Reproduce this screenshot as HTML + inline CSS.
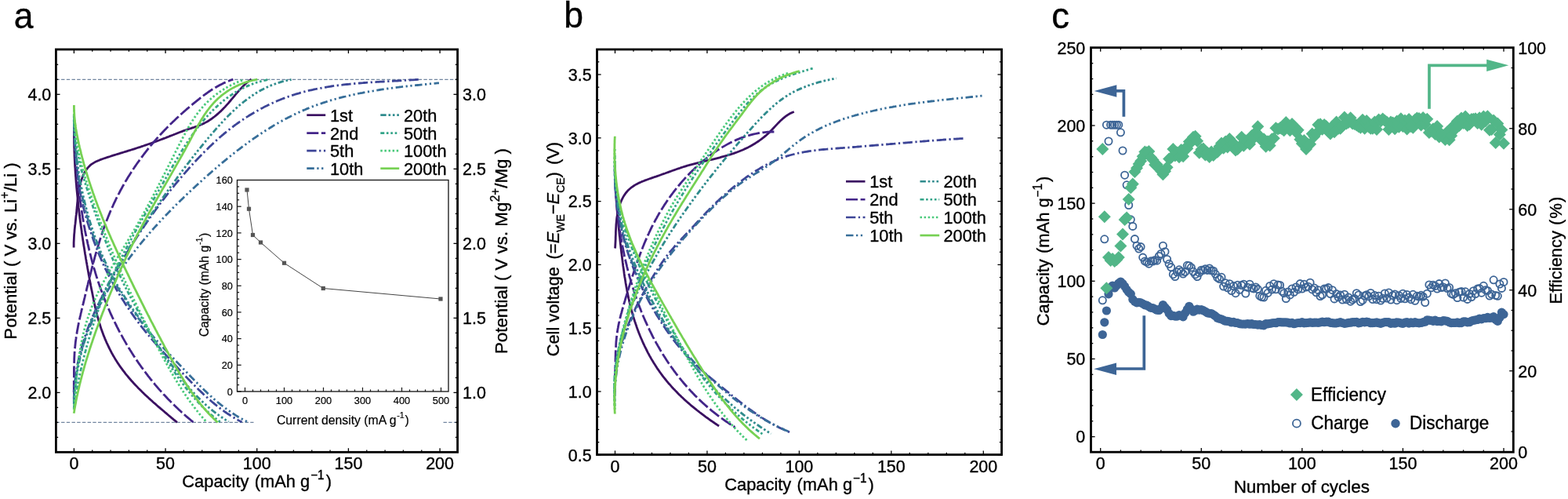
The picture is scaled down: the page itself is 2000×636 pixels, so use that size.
<!DOCTYPE html>
<html lang="en"><head><meta charset="utf-8"><title>Figure</title>
<style>html,body{margin:0;padding:0;background:#fff}body{width:2000px;height:636px;overflow:hidden}svg{display:block}text{font-family:"Liberation Sans", Arial, Helvetica, sans-serif;stroke:#000;}</style>
</head><body>
<svg width="2000" height="636" viewBox="0 0 2000 636" font-family='"Liberation Sans", Arial, Helvetica, sans-serif' fill="#000">
<rect x="0" y="0" width="2000" height="636" fill="#fff"/>
<line x1="71.40" y1="101.30" x2="583.60" y2="101.30" stroke="#71859f" stroke-width="1.15" stroke-dasharray="4.4 2.3"/>
<line x1="71.40" y1="538.41" x2="323.50" y2="538.41" stroke="#71859f" stroke-width="1.15" stroke-dasharray="4.4 2.3"/>
<line x1="565.50" y1="538.41" x2="583.60" y2="538.41" stroke="#71859f" stroke-width="1.15" stroke-dasharray="4.4 2.3"/>
<path d="M94.1,315.6 L94.1,313.5 L94.1,311.4 L94.1,309.4 L94.2,307.3 L94.3,305.3 L94.4,303.3 L94.5,301.2 L94.6,299.2 L94.8,297.3 L95.0,295.3 L95.1,293.3 L95.3,291.3 L95.5,289.4 L95.7,287.4 L96.0,285.4 L96.2,283.5 L96.4,281.5 L96.6,279.5 L96.8,277.5 L97.0,275.5 L97.3,273.5 L97.5,271.5 L97.7,269.5 L97.9,267.5 L98.0,265.4 L98.2,263.4 L98.4,261.3 L98.6,259.2 L98.8,257.1 L99.0,255.1 L99.3,253.0 L99.5,250.9 L99.7,248.9 L100.0,246.8 L100.3,244.7 L100.7,242.7 L101.0,240.7 L101.4,238.7 L101.9,236.7 L102.3,234.7 L102.8,232.7 L103.4,230.8 L104.0,228.9 L104.7,227.0 L105.4,225.2 L106.1,223.4 L107.0,221.6 L107.9,219.9 L108.8,218.2 L109.9,216.6 L111.0,215.1 L112.2,213.6 L113.5,212.2 L114.8,210.9 L116.3,209.7 L117.9,208.6 L119.5,207.6 L121.2,206.6 L122.9,205.8 L124.8,204.9 L126.6,204.2 L128.5,203.4 L130.4,202.7 L132.4,202.0 L134.3,201.4 L136.3,200.7 L138.2,200.1 L140.2,199.5 L142.1,198.8 L144.1,198.2 L146.0,197.6 L148.0,197.0 L149.9,196.4 L151.9,195.8 L153.8,195.2 L155.8,194.6 L157.7,194.0 L159.7,193.4 L161.6,192.8 L163.5,192.2 L165.5,191.6 L167.4,191.0 L169.4,190.4 L171.3,189.8 L173.2,189.2 L175.1,188.5 L177.1,187.9 L179.0,187.3 L180.9,186.6 L182.8,186.0 L184.7,185.3 L186.6,184.7 L188.5,184.0 L190.4,183.4 L192.3,182.7 L194.2,182.0 L196.1,181.3 L198.0,180.6 L199.9,179.9 L201.8,179.2 L203.7,178.5 L205.6,177.8 L207.4,177.1 L209.3,176.4 L211.2,175.7 L213.1,174.9 L215.0,174.2 L216.8,173.4 L218.7,172.7 L220.6,172.0 L222.5,171.2 L224.4,170.5 L226.3,169.7 L228.1,169.0 L230.0,168.3 L231.9,167.6 L233.8,166.8 L235.7,166.2 L237.7,165.5 L239.6,164.8 L241.5,164.2 L243.5,163.6 L245.4,162.9 L247.3,162.3 L249.3,161.6 L251.2,161.0 L253.1,160.3 L255.0,159.5 L256.8,158.8 L258.6,157.9 L260.4,157.1 L262.2,156.1 L263.9,155.2 L265.6,154.2 L267.3,153.1 L269.0,152.0 L270.6,150.9 L272.2,149.7 L273.8,148.5 L275.4,147.2 L276.9,145.9 L278.4,144.6 L279.9,143.2 L281.4,141.9 L282.8,140.5 L284.3,139.0 L285.7,137.6 L287.1,136.1 L288.4,134.6 L289.8,133.1 L291.2,131.6 L292.5,130.0 L293.8,128.5 L295.1,126.9 L296.4,125.4 L297.7,123.8 L299.0,122.3 L300.3,120.7 L301.6,119.2 L303.0,117.6 L304.3,116.1 L305.6,114.6 L307.0,113.1 L308.4,111.6 L309.8,110.2 L311.2,108.7 L312.7,107.3 L314.2,106.0 L315.7,104.6 L317.3,103.4 L318.9,102.1 L320.5,100.9" fill="none" stroke="#3a1061" stroke-width="2.8" stroke-linejoin="round"/>
<path d="M94.4,158.0 L94.4,160.0 L94.4,162.0 L94.4,164.1 L94.4,166.1 L94.4,168.1 L94.4,170.1 L94.4,172.1 L94.4,174.2 L94.4,176.2 L94.5,178.2 L94.5,180.2 L94.5,182.2 L94.6,184.2 L94.6,186.3 L94.7,188.3 L94.8,190.3 L94.8,192.3 L94.9,194.3 L95.0,196.3 L95.0,198.3 L95.1,200.3 L95.2,202.3 L95.3,204.3 L95.4,206.4 L95.5,208.4 L95.6,210.4 L95.7,212.4 L95.9,214.4 L96.0,216.4 L96.1,218.4 L96.2,220.4 L96.4,222.4 L96.5,224.4 L96.7,226.4 L96.8,228.4 L97.0,230.4 L97.1,232.4 L97.3,234.4 L97.5,236.4 L97.6,238.4 L97.8,240.4 L98.0,242.4 L98.2,244.4 L98.4,246.4 L98.6,248.4 L98.8,250.4 L99.0,252.4 L99.2,254.4 L99.4,256.4 L99.6,258.4 L99.8,260.4 L100.0,262.4 L100.2,264.4 L100.5,266.4 L100.7,268.3 L100.9,270.3 L101.2,272.3 L101.4,274.3 L101.7,276.3 L101.9,278.3 L102.2,280.3 L102.4,282.3 L102.7,284.3 L103.0,286.3 L103.2,288.3 L103.5,290.2 L103.8,292.2 L104.1,294.2 L104.3,296.2 L104.6,298.2 L104.9,300.2 L105.2,302.2 L105.5,304.2 L105.8,306.2 L106.1,308.1 L106.4,310.1 L106.7,312.1 L107.0,314.1 L107.4,316.1 L107.7,318.1 L108.0,320.1 L108.3,322.0 L108.6,324.0 L109.0,326.0 L109.3,328.0 L109.6,330.0 L110.0,332.0 L110.3,333.9 L110.7,335.9 L111.0,337.9 L111.4,339.9 L111.7,341.9 L112.1,343.9 L112.4,345.8 L112.8,347.8 L113.1,349.8 L113.5,351.8 L113.9,353.8 L114.2,355.8 L114.6,357.7 L115.0,359.7 L115.4,361.7 L115.7,363.7 L116.1,365.7 L116.5,367.7 L116.9,369.6 L117.3,371.6 L117.7,373.6 L118.1,375.6 L118.5,377.6 L118.9,379.5 L119.3,381.5 L119.7,383.5 L120.1,385.5 L120.5,387.4 L121.0,389.4 L121.4,391.4 L121.9,393.3 L122.4,395.3 L122.8,397.2 L123.3,399.2 L123.8,401.1 L124.3,403.1 L124.9,405.0 L125.4,407.0 L125.9,408.9 L126.5,410.8 L127.1,412.7 L127.7,414.7 L128.3,416.6 L128.9,418.5 L129.6,420.4 L130.2,422.3 L130.9,424.1 L131.6,426.0 L132.3,427.9 L133.1,429.7 L133.8,431.6 L134.6,433.4 L135.4,435.3 L136.2,437.1 L137.1,438.9 L137.9,440.7 L138.8,442.5 L139.7,444.3 L140.6,446.1 L141.5,447.9 L142.4,449.7 L143.4,451.4 L144.4,453.2 L145.4,454.9 L146.4,456.6 L147.4,458.3 L148.5,460.0 L149.6,461.7 L150.7,463.4 L151.8,465.0 L152.9,466.7 L154.1,468.3 L155.3,469.9 L156.4,471.5 L157.7,473.1 L158.9,474.7 L160.1,476.3 L161.4,477.9 L162.7,479.4 L164.0,481.0 L165.3,482.5 L166.6,484.0 L167.9,485.5 L169.3,487.0 L170.6,488.5 L172.0,490.0 L173.4,491.4 L174.8,492.9 L176.2,494.4 L177.6,495.8 L179.1,497.2 L180.5,498.6 L181.9,500.1 L183.4,501.5 L184.9,502.9 L186.3,504.3 L187.8,505.6 L189.3,507.0 L190.8,508.4 L192.3,509.7 L193.8,511.1 L195.3,512.5 L196.9,513.8 L198.4,515.1 L199.9,516.5 L201.4,517.8 L203.0,519.1 L204.5,520.4 L206.0,521.7 L207.6,523.0 L209.1,524.3 L210.6,525.6 L212.2,526.9 L213.7,528.2 L215.2,529.5 L216.8,530.8 L218.3,532.1 L219.8,533.3 L221.3,534.6 L222.9,535.9 L224.4,537.1 L225.9,538.4" fill="none" stroke="#3a1061" stroke-width="2.8" stroke-linejoin="round"/>
<path d="M94.2,500.0 L94.2,498.0 L94.3,496.0 L94.3,494.0 L94.3,492.0 L94.3,490.0 L94.3,487.9 L94.3,485.9 L94.3,483.9 L94.3,481.9 L94.4,479.8 L94.4,477.8 L94.4,475.8 L94.4,473.8 L94.4,471.7 L94.4,469.7 L94.5,467.7 L94.5,465.6 L94.5,463.6 L94.6,461.6 L94.7,459.5 L94.7,457.5 L94.8,455.5 L94.9,453.5 L95.0,451.4 L95.1,449.4 L95.3,447.4 L95.4,445.4 L95.6,443.4 L95.8,441.4 L96.0,439.4 L96.2,437.4 L96.4,435.4 L96.7,433.4 L97.0,431.4 L97.2,429.4 L97.5,427.5 L97.9,425.5 L98.2,423.5 L98.5,421.5 L98.9,419.6 L99.3,417.6 L99.6,415.6 L100.0,413.7 L100.4,411.7 L100.9,409.8 L101.3,407.8 L101.7,405.9 L102.1,403.9 L102.6,402.0 L103.0,400.0 L103.5,398.0 L103.9,396.1 L104.4,394.1 L104.9,392.2 L105.3,390.2 L105.8,388.3 L106.3,386.3 L106.8,384.4 L107.2,382.4 L107.7,380.5 L108.2,378.5 L108.6,376.5 L109.1,374.6 L109.6,372.6 L110.1,370.6 L110.5,368.7 L111.0,366.7 L111.5,364.7 L112.0,362.8 L112.4,360.8 L112.9,358.8 L113.4,356.9 L113.9,354.9 L114.4,352.9 L114.9,351.0 L115.4,349.0 L115.9,347.0 L116.4,345.1 L116.9,343.1 L117.4,341.2 L117.9,339.2 L118.4,337.2 L118.9,335.3 L119.4,333.3 L120.0,331.4 L120.5,329.4 L121.0,327.4 L121.6,325.5 L122.1,323.5 L122.7,321.6 L123.3,319.6 L123.8,317.7 L124.4,315.8 L125.0,313.8 L125.6,311.9 L126.2,309.9 L126.8,308.0 L127.4,306.1 L128.0,304.2 L128.6,302.2 L129.2,300.3 L129.9,298.4 L130.5,296.5 L131.2,294.6 L131.8,292.7 L132.5,290.8 L133.2,288.9 L133.9,287.0 L134.6,285.1 L135.3,283.2 L136.0,281.3 L136.7,279.5 L137.5,277.6 L138.2,275.7 L139.0,273.9 L139.7,272.0 L140.5,270.1 L141.3,268.3 L142.1,266.5 L142.9,264.6 L143.8,262.8 L144.6,261.0 L145.4,259.1 L146.3,257.3 L147.2,255.5 L148.0,253.7 L148.9,251.9 L149.8,250.1 L150.7,248.3 L151.7,246.6 L152.6,244.8 L153.5,243.0 L154.5,241.2 L155.5,239.5 L156.4,237.7 L157.4,236.0 L158.4,234.2 L159.4,232.5 L160.4,230.8 L161.5,229.1 L162.5,227.3 L163.5,225.6 L164.6,223.9 L165.7,222.2 L166.8,220.5 L167.8,218.8 L168.9,217.2 L170.0,215.5 L171.2,213.8 L172.3,212.1 L173.4,210.5 L174.6,208.8 L175.7,207.2 L176.9,205.6 L178.1,203.9 L179.3,202.3 L180.5,200.7 L181.7,199.1 L182.9,197.5 L184.1,195.9 L185.3,194.3 L186.6,192.7 L187.8,191.1 L189.1,189.5 L190.4,188.0 L191.6,186.4 L192.9,184.9 L194.2,183.3 L195.5,181.8 L196.8,180.2 L198.2,178.7 L199.5,177.2 L200.8,175.7 L202.2,174.2 L203.6,172.7 L204.9,171.2 L206.3,169.7 L207.7,168.2 L209.1,166.8 L210.5,165.3 L211.9,163.9 L213.3,162.4 L214.8,161.0 L216.2,159.6 L217.6,158.1 L219.1,156.7 L220.5,155.3 L222.0,153.9 L223.5,152.5 L225.0,151.1 L226.4,149.7 L227.9,148.4 L229.4,147.0 L230.9,145.6 L232.4,144.3 L233.9,142.9 L235.5,141.6 L237.0,140.2 L238.5,138.9 L240.1,137.6 L241.6,136.3 L243.1,135.0 L244.7,133.7 L246.2,132.4 L247.8,131.1 L249.4,129.8 L250.9,128.6 L252.5,127.3 L254.1,126.1 L255.6,124.8 L257.2,123.6 L258.8,122.4 L260.4,121.2 L262.0,120.0 L263.7,118.8 L265.3,117.7 L267.0,116.5 L268.6,115.4 L270.3,114.3 L272.0,113.3 L273.7,112.2 L275.4,111.2 L277.1,110.2 L278.9,109.2 L280.6,108.3 L282.4,107.4 L284.2,106.5 L286.0,105.6 L287.9,104.8 L289.7,104.0 L291.6,103.3 L293.5,102.5 L295.4,101.8 L297.4,101.2" fill="none" stroke="#432589" stroke-width="2.8" stroke-dasharray="15 3.6" stroke-linejoin="round"/>
<path d="M94.4,157.0 L94.5,159.0 L94.6,161.0 L94.7,163.0 L94.7,165.0 L94.8,167.0 L94.9,169.0 L95.0,171.0 L95.1,173.0 L95.2,174.9 L95.3,176.9 L95.4,179.0 L95.5,181.0 L95.7,183.0 L95.8,185.0 L95.9,187.0 L96.0,189.0 L96.1,191.0 L96.3,193.0 L96.4,195.0 L96.5,197.0 L96.7,199.0 L96.8,201.0 L97.0,203.0 L97.1,205.0 L97.3,207.0 L97.4,209.1 L97.6,211.1 L97.8,213.1 L97.9,215.1 L98.1,217.1 L98.3,219.1 L98.5,221.1 L98.6,223.1 L98.8,225.1 L99.0,227.2 L99.2,229.2 L99.4,231.2 L99.6,233.2 L99.9,235.2 L100.1,237.2 L100.3,239.2 L100.5,241.2 L100.8,243.2 L101.0,245.2 L101.2,247.2 L101.5,249.3 L101.7,251.3 L102.0,253.3 L102.3,255.3 L102.5,257.3 L102.8,259.3 L103.1,261.3 L103.4,263.3 L103.7,265.3 L104.0,267.3 L104.3,269.3 L104.6,271.3 L104.9,273.3 L105.2,275.3 L105.5,277.3 L105.9,279.3 L106.2,281.3 L106.5,283.3 L106.9,285.2 L107.2,287.2 L107.6,289.2 L108.0,291.2 L108.3,293.2 L108.7,295.2 L109.1,297.2 L109.5,299.1 L109.9,301.1 L110.3,303.1 L110.7,305.1 L111.2,307.0 L111.6,309.0 L112.0,311.0 L112.5,312.9 L112.9,314.9 L113.4,316.9 L113.8,318.8 L114.3,320.8 L114.8,322.7 L115.3,324.7 L115.8,326.6 L116.3,328.6 L116.8,330.5 L117.3,332.5 L117.8,334.4 L118.4,336.4 L118.9,338.3 L119.5,340.2 L120.0,342.2 L120.6,344.1 L121.2,346.0 L121.7,347.9 L122.3,349.9 L122.9,351.8 L123.5,353.7 L124.1,355.6 L124.8,357.5 L125.4,359.4 L126.0,361.3 L126.7,363.2 L127.3,365.1 L128.0,367.0 L128.7,368.9 L129.4,370.8 L130.1,372.7 L130.8,374.6 L131.5,376.4 L132.2,378.3 L132.9,380.2 L133.7,382.0 L134.4,383.9 L135.2,385.8 L135.9,387.6 L136.7,389.5 L137.5,391.3 L138.3,393.2 L139.1,395.0 L139.9,396.8 L140.7,398.7 L141.5,400.5 L142.4,402.3 L143.2,404.1 L144.1,406.0 L144.9,407.8 L145.8,409.6 L146.7,411.4 L147.6,413.2 L148.5,415.0 L149.4,416.8 L150.3,418.5 L151.2,420.3 L152.1,422.1 L153.1,423.9 L154.0,425.6 L155.0,427.4 L156.0,429.1 L156.9,430.9 L157.9,432.6 L158.9,434.4 L159.9,436.1 L160.9,437.9 L161.9,439.6 L163.0,441.3 L164.0,443.0 L165.1,444.7 L166.1,446.4 L167.2,448.1 L168.2,449.8 L169.3,451.5 L170.4,453.2 L171.5,454.9 L172.6,456.5 L173.7,458.2 L174.9,459.9 L176.0,461.5 L177.1,463.2 L178.3,464.8 L179.5,466.5 L180.6,468.1 L181.8,469.7 L183.0,471.3 L184.2,472.9 L185.4,474.5 L186.6,476.1 L187.8,477.7 L189.0,479.3 L190.3,480.9 L191.5,482.5 L192.8,484.1 L194.0,485.6 L195.3,487.2 L196.6,488.7 L197.9,490.3 L199.2,491.8 L200.5,493.3 L201.8,494.9 L203.1,496.4 L204.5,497.9 L205.8,499.4 L207.2,500.9 L208.5,502.4 L209.9,503.8 L211.3,505.3 L212.7,506.8 L214.0,508.2 L215.5,509.7 L216.9,511.1 L218.3,512.6 L219.7,514.0 L221.2,515.4 L222.6,516.8 L224.1,518.2 L225.5,519.6 L227.0,521.0 L228.5,522.4 L230.0,523.8 L231.5,525.2 L233.0,526.5 L234.5,527.9 L236.0,529.2 L237.5,530.6 L239.1,531.9 L240.6,533.2 L242.2,534.5 L243.7,535.8 L245.3,537.1 L246.9,538.4" fill="none" stroke="#432589" stroke-width="2.8" stroke-dasharray="15 3.6" stroke-linejoin="round"/>
<path d="M94.3,508.0 L94.3,506.0 L94.4,503.9 L94.4,501.9 L94.5,499.9 L94.7,497.8 L94.8,495.8 L94.9,493.8 L95.1,491.8 L95.3,489.7 L95.5,487.7 L95.7,485.7 L95.9,483.7 L96.2,481.7 L96.4,479.7 L96.7,477.7 L97.0,475.7 L97.3,473.7 L97.6,471.8 L97.9,469.8 L98.3,467.8 L98.7,465.8 L99.0,463.8 L99.4,461.9 L99.8,459.9 L100.3,458.0 L100.7,456.0 L101.2,454.1 L101.6,452.1 L102.1,450.2 L102.6,448.2 L103.1,446.3 L103.6,444.4 L104.2,442.4 L104.7,440.5 L105.3,438.6 L105.9,436.7 L106.5,434.8 L107.1,432.9 L107.7,430.9 L108.3,429.1 L109.0,427.2 L109.6,425.3 L110.3,423.4 L111.0,421.5 L111.7,419.6 L112.4,417.8 L113.1,415.9 L113.8,414.0 L114.6,412.2 L115.3,410.3 L116.1,408.5 L116.9,406.6 L117.7,404.8 L118.5,402.9 L119.3,401.1 L120.1,399.3 L120.9,397.4 L121.7,395.6 L122.6,393.8 L123.4,392.0 L124.3,390.2 L125.2,388.3 L126.1,386.5 L127.0,384.7 L127.8,382.9 L128.8,381.1 L129.7,379.3 L130.6,377.5 L131.5,375.8 L132.4,374.0 L133.4,372.2 L134.3,370.4 L135.3,368.6 L136.2,366.8 L137.2,365.1 L138.1,363.3 L139.1,361.5 L140.1,359.8 L141.1,358.0 L142.0,356.3 L143.0,354.5 L144.0,352.7 L145.0,351.0 L146.0,349.2 L147.0,347.5 L148.0,345.7 L149.0,344.0 L150.0,342.2 L151.0,340.5 L152.0,338.8 L153.1,337.0 L154.1,335.3 L155.1,333.6 L156.1,331.8 L157.2,330.1 L158.2,328.4 L159.3,326.7 L160.3,324.9 L161.3,323.2 L162.4,321.5 L163.4,319.8 L164.5,318.1 L165.6,316.4 L166.6,314.7 L167.7,313.0 L168.8,311.3 L169.9,309.6 L170.9,307.9 L172.0,306.2 L173.1,304.5 L174.2,302.8 L175.3,301.1 L176.4,299.4 L177.5,297.8 L178.6,296.1 L179.7,294.4 L180.8,292.7 L182.0,291.1 L183.1,289.4 L184.2,287.7 L185.3,286.1 L186.5,284.4 L187.6,282.8 L188.8,281.1 L189.9,279.5 L191.1,277.8 L192.2,276.2 L193.4,274.6 L194.5,272.9 L195.7,271.3 L196.9,269.7 L198.1,268.0 L199.2,266.4 L200.4,264.8 L201.6,263.2 L202.8,261.6 L204.0,260.0 L205.2,258.3 L206.4,256.7 L207.6,255.1 L208.9,253.5 L210.1,252.0 L211.3,250.4 L212.5,248.8 L213.8,247.2 L215.0,245.6 L216.3,244.0 L217.5,242.5 L218.8,240.9 L220.0,239.3 L221.3,237.8 L222.6,236.2 L223.8,234.6 L225.1,233.1 L226.4,231.5 L227.7,230.0 L229.0,228.5 L230.3,226.9 L231.6,225.4 L232.9,223.9 L234.2,222.3 L235.5,220.8 L236.8,219.3 L238.2,217.8 L239.5,216.3 L240.8,214.7 L242.2,213.2 L243.5,211.7 L244.9,210.2 L246.2,208.8 L247.6,207.3 L249.0,205.8 L250.4,204.3 L251.7,202.8 L253.1,201.4 L254.5,199.9 L255.9,198.5 L257.3,197.0 L258.7,195.6 L260.2,194.1 L261.6,192.7 L263.0,191.3 L264.5,189.9 L265.9,188.5 L267.3,187.1 L268.8,185.7 L270.3,184.3 L271.7,182.9 L273.2,181.5 L274.7,180.2 L276.2,178.8 L277.7,177.5 L279.2,176.1 L280.7,174.8 L282.2,173.5 L283.8,172.2 L285.3,170.9 L286.8,169.6 L288.4,168.3 L290.0,167.1 L291.5,165.8 L293.1,164.6 L294.7,163.3 L296.3,162.1 L297.9,160.9 L299.5,159.7 L301.1,158.5 L302.7,157.3 L304.4,156.2 L306.0,155.0 L307.7,153.9 L309.3,152.8 L311.0,151.6 L312.7,150.5 L314.4,149.4 L316.1,148.4 L317.8,147.3 L319.5,146.2 L321.2,145.2 L322.9,144.2 L324.6,143.2 L326.4,142.2 L328.1,141.2 L329.9,140.2 L331.6,139.2 L333.4,138.3 L335.2,137.4 L337.0,136.4 L338.7,135.5 L340.5,134.7 L342.3,133.8 L344.1,132.9 L346.0,132.1 L347.8,131.2 L349.6,130.4 L351.4,129.6 L353.3,128.8 L355.1,128.0 L357.0,127.3 L358.8,126.5 L360.7,125.8 L362.5,125.1 L364.4,124.4 L366.3,123.7 L368.2,123.0 L370.1,122.4 L371.9,121.7 L373.8,121.1 L375.7,120.5 L377.6,119.9 L379.6,119.3 L381.5,118.8 L383.4,118.2 L385.3,117.7 L387.3,117.2 L389.2,116.7 L391.1,116.2 L393.1,115.7 L395.0,115.2 L397.0,114.8 L398.9,114.4 L400.9,113.9 L402.8,113.5 L404.8,113.1 L406.8,112.7 L408.7,112.4 L410.7,112.0 L412.7,111.6 L414.6,111.3 L416.6,111.0 L418.6,110.6 L420.6,110.3 L422.6,110.0 L424.6,109.7 L426.6,109.4 L428.6,109.2 L430.6,108.9 L432.6,108.7 L434.6,108.4 L436.6,108.2 L438.6,107.9 L440.6,107.7 L442.6,107.5 L444.6,107.3 L446.6,107.1 L448.6,106.9 L450.6,106.7 L452.7,106.5 L454.7,106.3 L456.7,106.2 L458.7,106.0 L460.7,105.8 L462.8,105.7 L464.8,105.5 L466.8,105.4 L468.8,105.2 L470.8,105.1 L472.9,104.9 L474.9,104.8 L476.9,104.7 L478.9,104.6 L480.9,104.4 L483.0,104.3 L485.0,104.2 L487.0,104.1 L489.0,104.0 L491.0,103.9 L493.0,103.7 L495.1,103.6 L497.1,103.5 L499.1,103.4 L501.1,103.3 L503.1,103.2 L505.1,103.1 L507.1,103.0 L509.1,102.9 L511.1,102.8 L513.1,102.6 L515.1,102.5 L517.1,102.4 L519.1,102.3 L521.1,102.2 L523.1,102.0 L525.1,101.9 L527.1,101.8 L529.1,101.7 L531.0,101.5 L533.0,101.4 L535.0,101.3" fill="none" stroke="#3d4597" stroke-width="2.8" stroke-dasharray="12.3 3.5 2.3 3.5" stroke-linejoin="round"/>
<path d="M94.4,153.0 L94.4,155.0 L94.5,157.0 L94.5,159.0 L94.6,161.0 L94.6,163.1 L94.7,165.1 L94.7,167.1 L94.8,169.1 L94.9,171.1 L94.9,173.1 L95.0,175.1 L95.1,177.1 L95.2,179.1 L95.3,181.2 L95.4,183.2 L95.5,185.2 L95.6,187.2 L95.7,189.2 L95.9,191.2 L96.0,193.2 L96.1,195.2 L96.3,197.2 L96.4,199.2 L96.6,201.2 L96.8,203.2 L96.9,205.2 L97.1,207.2 L97.3,209.2 L97.5,211.2 L97.7,213.2 L97.9,215.2 L98.2,217.2 L98.4,219.2 L98.6,221.2 L98.9,223.2 L99.1,225.2 L99.4,227.2 L99.7,229.2 L100.0,231.2 L100.3,233.2 L100.6,235.1 L100.9,237.1 L101.2,239.1 L101.6,241.1 L101.9,243.1 L102.3,245.0 L102.7,247.0 L103.0,249.0 L103.4,250.9 L103.8,252.9 L104.3,254.9 L104.7,256.8 L105.1,258.8 L105.6,260.7 L106.0,262.7 L106.5,264.6 L107.0,266.6 L107.5,268.5 L108.0,270.5 L108.5,272.4 L109.1,274.3 L109.6,276.3 L110.2,278.2 L110.8,280.1 L111.3,282.1 L111.9,284.0 L112.5,285.9 L113.1,287.8 L113.7,289.8 L114.4,291.7 L115.0,293.6 L115.6,295.5 L116.3,297.4 L116.9,299.3 L117.6,301.2 L118.3,303.1 L118.9,305.0 L119.6,306.9 L120.3,308.8 L121.0,310.7 L121.7,312.6 L122.4,314.4 L123.2,316.3 L123.9,318.2 L124.6,320.1 L125.4,321.9 L126.1,323.8 L126.9,325.6 L127.7,327.5 L128.5,329.3 L129.3,331.2 L130.1,333.0 L130.9,334.8 L131.7,336.7 L132.5,338.5 L133.4,340.3 L134.2,342.1 L135.1,343.9 L136.0,345.7 L136.9,347.5 L137.8,349.3 L138.7,351.1 L139.6,352.9 L140.6,354.6 L141.5,356.4 L142.5,358.2 L143.4,359.9 L144.4,361.7 L145.4,363.4 L146.4,365.2 L147.4,366.9 L148.4,368.7 L149.4,370.4 L150.4,372.1 L151.5,373.8 L152.5,375.6 L153.6,377.3 L154.6,379.0 L155.7,380.7 L156.8,382.4 L157.9,384.1 L158.9,385.8 L160.0,387.5 L161.1,389.2 L162.3,390.8 L163.4,392.5 L164.5,394.2 L165.6,395.9 L166.8,397.5 L167.9,399.2 L169.1,400.8 L170.2,402.5 L171.4,404.1 L172.6,405.7 L173.8,407.4 L175.0,409.0 L176.2,410.6 L177.4,412.2 L178.6,413.8 L179.8,415.4 L181.1,417.0 L182.3,418.6 L183.6,420.1 L184.8,421.7 L186.1,423.3 L187.3,424.8 L188.6,426.4 L189.9,427.9 L191.2,429.4 L192.5,431.0 L193.8,432.5 L195.1,434.0 L196.4,435.5 L197.7,437.0 L199.0,438.5 L200.4,440.0 L201.7,441.5 L203.0,443.0 L204.4,444.5 L205.7,446.0 L207.1,447.5 L208.4,449.0 L209.8,450.5 L211.1,451.9 L212.5,453.4 L213.8,454.9 L215.2,456.4 L216.6,457.9 L217.9,459.3 L219.3,460.8 L220.6,462.3 L222.0,463.8 L223.4,465.2 L224.7,466.7 L226.1,468.2 L227.5,469.7 L228.8,471.1 L230.2,472.6 L231.6,474.1 L233.0,475.6 L234.3,477.0 L235.7,478.5 L237.1,480.0 L238.5,481.4 L239.9,482.9 L241.3,484.3 L242.7,485.8 L244.1,487.2 L245.5,488.7 L246.9,490.1 L248.3,491.5 L249.7,492.9 L251.2,494.4 L252.6,495.8 L254.0,497.2 L255.5,498.6 L256.9,499.9 L258.4,501.3 L259.8,502.7 L261.3,504.1 L262.8,505.4 L264.3,506.7 L265.8,508.1 L267.3,509.4 L268.8,510.7 L270.3,512.0 L271.9,513.3 L273.4,514.6 L275.0,515.8 L276.5,517.1 L278.1,518.3 L279.7,519.5 L281.3,520.8 L282.9,521.9 L284.5,523.1 L286.1,524.3 L287.8,525.5 L289.4,526.6 L291.1,527.7 L292.8,528.8 L294.5,529.9 L296.2,531.0 L297.9,532.0 L299.6,533.1 L301.4,534.1 L303.1,535.1 L304.9,536.1 L306.7,537.1 L308.5,538.0" fill="none" stroke="#3d4597" stroke-width="2.8" stroke-dasharray="12.3 3.5 2.3 3.5" stroke-linejoin="round"/>
<path d="M94.3,512.0 L94.3,510.0 L94.3,507.9 L94.4,505.9 L94.5,503.9 L94.6,501.8 L94.7,499.8 L94.8,497.8 L95.0,495.8 L95.2,493.7 L95.4,491.7 L95.6,489.7 L95.8,487.7 L96.0,485.7 L96.3,483.7 L96.6,481.7 L96.8,479.7 L97.2,477.8 L97.5,475.8 L97.8,473.8 L98.2,471.8 L98.5,469.8 L98.9,467.9 L99.3,465.9 L99.7,463.9 L100.1,462.0 L100.6,460.0 L101.0,458.1 L101.5,456.1 L102.0,454.2 L102.5,452.3 L103.0,450.3 L103.6,448.4 L104.1,446.5 L104.7,444.5 L105.2,442.6 L105.8,440.7 L106.4,438.8 L107.0,436.9 L107.6,435.0 L108.3,433.1 L108.9,431.2 L109.6,429.3 L110.3,427.4 L111.0,425.5 L111.7,423.7 L112.4,421.8 L113.1,419.9 L113.8,418.1 L114.6,416.2 L115.4,414.4 L116.1,412.5 L116.9,410.7 L117.7,408.8 L118.5,407.0 L119.3,405.2 L120.2,403.3 L121.0,401.5 L121.9,399.7 L122.7,397.9 L123.6,396.1 L124.5,394.3 L125.4,392.5 L126.3,390.7 L127.2,388.9 L128.1,387.1 L129.0,385.3 L130.0,383.6 L130.9,381.8 L131.9,380.0 L132.9,378.3 L133.9,376.5 L134.8,374.8 L135.8,373.0 L136.9,371.3 L137.9,369.5 L138.9,367.8 L139.9,366.1 L141.0,364.4 L142.0,362.7 L143.1,361.0 L144.1,359.3 L145.2,357.6 L146.3,355.9 L147.4,354.2 L148.5,352.5 L149.6,350.8 L150.7,349.2 L151.8,347.5 L152.9,345.9 L154.0,344.2 L155.2,342.6 L156.3,340.9 L157.5,339.3 L158.6,337.7 L159.8,336.0 L161.0,334.4 L162.1,332.8 L163.3,331.2 L164.5,329.6 L165.7,328.0 L166.9,326.4 L168.1,324.8 L169.3,323.2 L170.6,321.6 L171.8,320.0 L173.0,318.5 L174.3,316.9 L175.5,315.3 L176.8,313.8 L178.0,312.2 L179.3,310.7 L180.6,309.1 L181.8,307.6 L183.1,306.1 L184.4,304.5 L185.7,303.0 L187.0,301.5 L188.3,300.0 L189.6,298.4 L190.9,296.9 L192.2,295.4 L193.6,293.9 L194.9,292.4 L196.2,290.9 L197.6,289.4 L198.9,288.0 L200.3,286.5 L201.6,285.0 L203.0,283.5 L204.3,282.1 L205.7,280.6 L207.1,279.1 L208.4,277.7 L209.8,276.2 L211.2,274.8 L212.6,273.3 L214.0,271.9 L215.4,270.4 L216.8,269.0 L218.2,267.6 L219.6,266.1 L221.0,264.7 L222.5,263.3 L223.9,261.9 L225.3,260.4 L226.7,259.0 L228.2,257.6 L229.6,256.2 L231.1,254.8 L232.5,253.4 L234.0,252.0 L235.4,250.6 L236.9,249.2 L238.3,247.8 L239.8,246.4 L241.3,245.1 L242.7,243.7 L244.2,242.3 L245.7,240.9 L247.2,239.5 L248.6,238.2 L250.1,236.8 L251.6,235.4 L253.1,234.1 L254.6,232.7 L256.1,231.4 L257.6,230.0 L259.1,228.7 L260.6,227.3 L262.1,226.0 L263.6,224.6 L265.1,223.3 L266.6,221.9 L268.2,220.6 L269.7,219.3 L271.2,217.9 L272.7,216.6 L274.3,215.3 L275.8,214.0 L277.3,212.7 L278.9,211.3 L280.4,210.0 L282.0,208.7 L283.5,207.4 L285.1,206.1 L286.6,204.9 L288.2,203.6 L289.7,202.3 L291.3,201.0 L292.9,199.7 L294.4,198.5 L296.0,197.2 L297.6,196.0 L299.2,194.7 L300.8,193.5 L302.3,192.2 L303.9,191.0 L305.5,189.8 L307.1,188.6 L308.7,187.4 L310.4,186.1 L312.0,184.9 L313.6,183.8 L315.2,182.6 L316.8,181.4 L318.5,180.2 L320.1,179.1 L321.7,177.9 L323.4,176.7 L325.0,175.6 L326.7,174.5 L328.3,173.3 L330.0,172.2 L331.6,171.1 L333.3,170.0 L335.0,168.9 L336.6,167.8 L338.3,166.7 L340.0,165.7 L341.7,164.6 L343.4,163.6 L345.1,162.5 L346.8,161.5 L348.5,160.4 L350.2,159.4 L351.9,158.4 L353.7,157.4 L355.4,156.4 L357.1,155.5 L358.9,154.5 L360.6,153.5 L362.3,152.6 L364.1,151.6 L365.9,150.7 L367.6,149.8 L369.4,148.9 L371.2,148.0 L372.9,147.1 L374.7,146.2 L376.5,145.4 L378.3,144.5 L380.1,143.7 L381.9,142.9 L383.7,142.0 L385.5,141.2 L387.4,140.4 L389.2,139.7 L391.0,138.9 L392.9,138.1 L394.7,137.4 L396.6,136.6 L398.4,135.9 L400.3,135.2 L402.1,134.5 L404.0,133.8 L405.9,133.2 L407.8,132.5 L409.7,131.9 L411.6,131.2 L413.5,130.6 L415.4,130.0 L417.3,129.4 L419.2,128.8 L421.1,128.2 L423.0,127.6 L425.0,127.1 L426.9,126.5 L428.8,126.0 L430.8,125.5 L432.7,124.9 L434.7,124.4 L436.6,123.9 L438.6,123.4 L440.5,123.0 L442.5,122.5 L444.4,122.0 L446.4,121.6 L448.4,121.1 L450.3,120.7 L452.3,120.3 L454.3,119.9 L456.3,119.4 L458.3,119.0 L460.3,118.6 L462.2,118.3 L464.2,117.9 L466.2,117.5 L468.2,117.1 L470.2,116.8 L472.2,116.4 L474.2,116.1 L476.2,115.8 L478.2,115.4 L480.2,115.1 L482.2,114.8 L484.2,114.5 L486.2,114.2 L488.2,113.9 L490.2,113.6 L492.2,113.3 L494.2,113.0 L496.3,112.7 L498.3,112.5 L500.3,112.2 L502.3,111.9 L504.3,111.7 L506.3,111.4 L508.3,111.2 L510.3,110.9 L512.3,110.7 L514.3,110.4 L516.3,110.2 L518.3,110.0 L520.3,109.8 L522.3,109.5 L524.3,109.3 L526.3,109.1 L528.3,108.9 L530.3,108.7 L532.3,108.5 L534.3,108.3 L536.3,108.1 L538.3,107.9 L540.3,107.7 L542.3,107.5 L544.2,107.3 L546.2,107.1 L548.2,106.9 L550.2,106.7 L552.1,106.5 L554.1,106.3 L556.1,106.1 L558.0,105.9 L560.0,105.8" fill="none" stroke="#376e99" stroke-width="2.8" stroke-dasharray="9.5 3.5 2.3 3.5 2.3 3.5" stroke-linejoin="round"/>
<path d="M94.4,152.0 L94.4,154.0 L94.4,156.1 L94.5,158.1 L94.5,160.1 L94.6,162.1 L94.6,164.1 L94.7,166.2 L94.7,168.2 L94.8,170.2 L94.9,172.2 L95.0,174.2 L95.1,176.3 L95.2,178.3 L95.3,180.3 L95.4,182.3 L95.6,184.3 L95.7,186.3 L95.9,188.3 L96.0,190.3 L96.2,192.3 L96.4,194.3 L96.6,196.3 L96.7,198.3 L96.9,200.3 L97.2,202.3 L97.4,204.3 L97.6,206.3 L97.8,208.3 L98.1,210.3 L98.3,212.3 L98.6,214.3 L98.8,216.3 L99.1,218.3 L99.4,220.3 L99.7,222.2 L100.0,224.2 L100.3,226.2 L100.6,228.2 L101.0,230.2 L101.3,232.2 L101.6,234.1 L102.0,236.1 L102.4,238.1 L102.7,240.1 L103.1,242.0 L103.5,244.0 L103.9,246.0 L104.3,247.9 L104.7,249.9 L105.2,251.9 L105.6,253.8 L106.0,255.8 L106.5,257.8 L106.9,259.7 L107.4,261.7 L107.9,263.6 L108.4,265.6 L108.9,267.6 L109.4,269.5 L109.9,271.5 L110.4,273.4 L111.0,275.4 L111.5,277.3 L112.1,279.3 L112.6,281.2 L113.2,283.2 L113.8,285.1 L114.4,287.0 L115.0,289.0 L115.6,290.9 L116.2,292.8 L116.9,294.7 L117.5,296.7 L118.2,298.6 L118.8,300.5 L119.5,302.4 L120.2,304.3 L120.9,306.2 L121.6,308.1 L122.3,310.0 L123.1,311.8 L123.8,313.7 L124.5,315.6 L125.3,317.5 L126.1,319.3 L126.8,321.2 L127.6,323.0 L128.4,324.9 L129.3,326.7 L130.1,328.5 L130.9,330.4 L131.8,332.2 L132.6,334.0 L133.5,335.8 L134.3,337.6 L135.2,339.4 L136.1,341.2 L137.0,343.0 L137.9,344.7 L138.9,346.5 L139.8,348.3 L140.7,350.0 L141.7,351.8 L142.7,353.6 L143.6,355.3 L144.6,357.0 L145.6,358.8 L146.6,360.5 L147.6,362.3 L148.6,364.0 L149.7,365.7 L150.7,367.4 L151.7,369.1 L152.8,370.9 L153.8,372.6 L154.9,374.3 L156.0,376.0 L157.1,377.7 L158.2,379.4 L159.3,381.1 L160.4,382.8 L161.5,384.4 L162.6,386.1 L163.8,387.8 L164.9,389.5 L166.0,391.1 L167.2,392.8 L168.4,394.5 L169.5,396.1 L170.7,397.8 L171.9,399.4 L173.1,401.0 L174.3,402.7 L175.5,404.3 L176.7,405.9 L177.9,407.5 L179.2,409.1 L180.4,410.7 L181.7,412.3 L182.9,413.9 L184.2,415.5 L185.4,417.0 L186.7,418.6 L188.0,420.2 L189.3,421.7 L190.6,423.3 L191.9,424.8 L193.2,426.3 L194.5,427.8 L195.8,429.4 L197.2,430.9 L198.5,432.4 L199.8,433.9 L201.2,435.3 L202.5,436.8 L203.9,438.3 L205.2,439.8 L206.6,441.3 L207.9,442.7 L209.3,444.2 L210.7,445.7 L212.1,447.1 L213.4,448.6 L214.8,450.0 L216.2,451.5 L217.6,452.9 L219.0,454.4 L220.3,455.8 L221.7,457.3 L223.1,458.8 L224.5,460.2 L225.9,461.7 L227.3,463.1 L228.7,464.6 L230.1,466.0 L231.5,467.5 L232.8,468.9 L234.2,470.4 L235.6,471.9 L237.0,473.3 L238.4,474.8 L239.8,476.2 L241.2,477.7 L242.6,479.2 L244.0,480.6 L245.4,482.1 L246.8,483.5 L248.2,485.0 L249.6,486.4 L251.1,487.8 L252.5,489.3 L253.9,490.7 L255.3,492.1 L256.8,493.5 L258.2,494.9 L259.7,496.3 L261.1,497.7 L262.6,499.1 L264.1,500.5 L265.5,501.9 L267.0,503.2 L268.5,504.6 L270.0,505.9 L271.5,507.3 L273.0,508.6 L274.5,509.9 L276.1,511.2 L277.6,512.5 L279.2,513.8 L280.7,515.0 L282.3,516.3 L283.9,517.5 L285.5,518.7 L287.1,519.9 L288.7,521.1 L290.3,522.3 L291.9,523.5 L293.6,524.6 L295.2,525.8 L296.9,526.9 L298.6,528.0 L300.3,529.1 L302.0,530.1 L303.7,531.2 L305.5,532.2 L307.2,533.2 L309.0,534.2 L310.8,535.2 L312.6,536.2 L314.4,537.1 L316.2,538.0" fill="none" stroke="#376e99" stroke-width="2.8" stroke-dasharray="9.5 3.5 2.3 3.5 2.3 3.5" stroke-linejoin="round"/>
<path d="M94.3,515.0 L94.3,513.0 L94.4,511.0 L94.5,509.0 L94.6,506.9 L94.8,504.9 L94.9,502.9 L95.1,500.9 L95.2,498.9 L95.4,496.9 L95.6,494.9 L95.8,492.9 L96.1,490.9 L96.3,488.9 L96.6,486.9 L96.8,484.9 L97.1,482.9 L97.4,480.9 L97.7,479.0 L98.0,477.0 L98.4,475.0 L98.7,473.0 L99.1,471.0 L99.4,469.0 L99.8,467.1 L100.2,465.1 L100.6,463.1 L101.0,461.2 L101.5,459.2 L101.9,457.2 L102.4,455.3 L102.8,453.3 L103.3,451.4 L103.8,449.4 L104.3,447.5 L104.8,445.5 L105.3,443.6 L105.9,441.6 L106.4,439.7 L107.0,437.8 L107.6,435.8 L108.1,433.9 L108.7,432.0 L109.3,430.1 L109.9,428.2 L110.6,426.2 L111.2,424.3 L111.8,422.4 L112.5,420.5 L113.2,418.6 L113.8,416.7 L114.5,414.8 L115.2,412.9 L115.9,411.0 L116.6,409.2 L117.3,407.3 L118.1,405.4 L118.8,403.5 L119.6,401.7 L120.3,399.8 L121.1,398.0 L121.9,396.1 L122.7,394.2 L123.4,392.4 L124.3,390.6 L125.1,388.7 L125.9,386.9 L126.7,385.1 L127.6,383.2 L128.4,381.4 L129.3,379.6 L130.1,377.8 L131.0,376.0 L131.9,374.2 L132.7,372.4 L133.6,370.6 L134.5,368.8 L135.4,367.0 L136.4,365.2 L137.3,363.4 L138.2,361.6 L139.1,359.8 L140.1,358.1 L141.0,356.3 L142.0,354.5 L143.0,352.8 L143.9,351.0 L144.9,349.3 L145.9,347.5 L146.9,345.8 L147.9,344.0 L148.9,342.3 L149.9,340.5 L150.9,338.8 L151.9,337.1 L152.9,335.3 L153.9,333.6 L155.0,331.9 L156.0,330.2 L157.0,328.4 L158.1,326.7 L159.1,325.0 L160.2,323.3 L161.2,321.6 L162.3,319.9 L163.4,318.2 L164.4,316.5 L165.5,314.8 L166.6,313.1 L167.7,311.4 L168.8,309.7 L169.8,308.0 L170.9,306.3 L172.0,304.6 L173.1,302.9 L174.2,301.2 L175.3,299.5 L176.4,297.8 L177.5,296.2 L178.7,294.5 L179.8,292.8 L180.9,291.1 L182.0,289.5 L183.1,287.8 L184.3,286.1 L185.4,284.5 L186.5,282.8 L187.6,281.1 L188.8,279.5 L189.9,277.8 L191.0,276.1 L192.2,274.5 L193.3,272.8 L194.4,271.1 L195.6,269.5 L196.7,267.8 L197.9,266.2 L199.0,264.5 L200.1,262.9 L201.3,261.2 L202.4,259.6 L203.6,257.9 L204.7,256.3 L205.9,254.6 L207.0,253.0 L208.2,251.3 L209.4,249.7 L210.5,248.0 L211.7,246.4 L212.8,244.8 L214.0,243.1 L215.2,241.5 L216.4,239.8 L217.5,238.2 L218.7,236.6 L219.9,235.0 L221.1,233.3 L222.2,231.7 L223.4,230.1 L224.6,228.5 L225.8,226.8 L227.0,225.2 L228.2,223.6 L229.4,222.0 L230.6,220.4 L231.8,218.8 L233.0,217.2 L234.2,215.6 L235.4,213.9 L236.6,212.3 L237.9,210.7 L239.1,209.1 L240.3,207.6 L241.5,206.0 L242.8,204.4 L244.0,202.8 L245.2,201.2 L246.5,199.6 L247.7,198.0 L249.0,196.4 L250.2,194.9 L251.5,193.3 L252.7,191.7 L254.0,190.2 L255.3,188.6 L256.5,187.0 L257.8,185.5 L259.1,183.9 L260.4,182.3 L261.6,180.8 L262.9,179.2 L264.2,177.7 L265.5,176.1 L266.8,174.6 L268.1,173.0 L269.4,171.5 L270.7,170.0 L272.1,168.4 L273.4,166.9 L274.7,165.4 L276.0,163.9 L277.4,162.4 L278.7,160.9 L280.1,159.4 L281.4,157.9 L282.8,156.4 L284.2,154.9 L285.5,153.4 L286.9,152.0 L288.3,150.5 L289.7,149.1 L291.1,147.6 L292.6,146.2 L294.0,144.8 L295.4,143.4 L296.9,142.0 L298.3,140.7 L299.8,139.3 L301.2,138.0 L302.7,136.6 L304.2,135.3 L305.7,134.0 L307.3,132.7 L308.8,131.5 L310.3,130.2 L311.9,129.0 L313.4,127.8 L315.0,126.6 L316.6,125.4 L318.2,124.3 L319.8,123.1 L321.5,122.0 L323.1,120.9 L324.8,119.8 L326.4,118.8 L328.1,117.8 L329.8,116.8 L331.5,115.8 L333.3,114.8 L335.0,113.9 L336.8,113.0 L338.6,112.1 L340.4,111.2 L342.2,110.4 L344.0,109.6 L345.9,108.8 L347.7,108.1 L349.6,107.4 L351.5,106.7 L353.4,106.0 L355.4,105.4 L357.3,104.8 L359.3,104.2 L361.3,103.7 L363.3,103.2 L365.4,102.7 L367.4,102.3 L369.5,101.9 L371.6,101.5" fill="none" stroke="#2f8b8d" stroke-width="2.8" stroke-dasharray="7.4 2.8 2.6 2.8 2.6 2.8 2.6 2.8" stroke-linejoin="round"/>
<path d="M94.4,150.0 L94.4,152.0 L94.5,154.0 L94.5,156.0 L94.6,158.0 L94.7,160.1 L94.8,162.1 L94.9,164.1 L94.9,166.1 L95.0,168.1 L95.2,170.1 L95.3,172.1 L95.4,174.1 L95.5,176.1 L95.7,178.2 L95.8,180.2 L96.0,182.2 L96.2,184.2 L96.3,186.2 L96.5,188.2 L96.7,190.2 L96.9,192.2 L97.1,194.2 L97.3,196.2 L97.5,198.2 L97.8,200.2 L98.0,202.2 L98.2,204.2 L98.5,206.2 L98.8,208.2 L99.0,210.2 L99.3,212.2 L99.6,214.2 L99.9,216.2 L100.2,218.2 L100.5,220.2 L100.8,222.2 L101.1,224.2 L101.5,226.2 L101.8,228.2 L102.2,230.2 L102.5,232.2 L102.9,234.1 L103.3,236.1 L103.7,238.1 L104.1,240.1 L104.5,242.1 L104.9,244.0 L105.3,246.0 L105.7,248.0 L106.2,250.0 L106.6,251.9 L107.1,253.9 L107.5,255.9 L108.0,257.8 L108.5,259.8 L109.0,261.7 L109.4,263.7 L110.0,265.6 L110.5,267.6 L111.0,269.5 L111.5,271.5 L112.1,273.4 L112.6,275.4 L113.2,277.3 L113.7,279.3 L114.3,281.2 L114.9,283.1 L115.5,285.0 L116.1,287.0 L116.7,288.9 L117.3,290.8 L118.0,292.7 L118.6,294.6 L119.2,296.5 L119.9,298.4 L120.6,300.3 L121.2,302.2 L121.9,304.1 L122.6,306.0 L123.3,307.9 L124.1,309.8 L124.8,311.7 L125.5,313.5 L126.3,315.4 L127.0,317.3 L127.8,319.1 L128.5,321.0 L129.3,322.9 L130.1,324.7 L130.9,326.5 L131.7,328.4 L132.6,330.2 L133.4,332.1 L134.2,333.9 L135.1,335.7 L135.9,337.5 L136.8,339.3 L137.7,341.1 L138.6,342.9 L139.5,344.7 L140.4,346.5 L141.3,348.3 L142.3,350.1 L143.2,351.9 L144.1,353.6 L145.1,355.4 L146.1,357.1 L147.1,358.9 L148.1,360.6 L149.1,362.4 L150.1,364.1 L151.1,365.8 L152.1,367.6 L153.2,369.3 L154.3,371.0 L155.3,372.7 L156.4,374.4 L157.5,376.1 L158.6,377.8 L159.7,379.5 L160.8,381.1 L161.9,382.8 L163.0,384.5 L164.1,386.2 L165.2,387.8 L166.4,389.5 L167.5,391.2 L168.7,392.8 L169.8,394.5 L171.0,396.2 L172.1,397.8 L173.3,399.5 L174.4,401.1 L175.6,402.8 L176.7,404.4 L177.9,406.1 L179.0,407.7 L180.2,409.4 L181.3,411.1 L182.5,412.7 L183.7,414.4 L184.8,416.0 L186.0,417.7 L187.1,419.4 L188.2,421.0 L189.4,422.7 L190.5,424.3 L191.7,426.0 L192.8,427.7 L194.0,429.3 L195.1,431.0 L196.3,432.7 L197.4,434.3 L198.5,436.0 L199.7,437.7 L200.8,439.3 L202.0,441.0 L203.1,442.6 L204.3,444.3 L205.4,446.0 L206.6,447.6 L207.7,449.3 L208.9,451.0 L210.0,452.6 L211.2,454.3 L212.3,455.9 L213.5,457.6 L214.6,459.2 L215.8,460.9 L217.0,462.5 L218.1,464.2 L219.3,465.8 L220.5,467.4 L221.7,469.1 L222.9,470.7 L224.1,472.3 L225.3,473.9 L226.5,475.6 L227.7,477.2 L228.9,478.8 L230.1,480.4 L231.3,482.0 L232.6,483.5 L233.8,485.1 L235.1,486.7 L236.3,488.3 L237.6,489.8 L238.9,491.3 L240.2,492.9 L241.5,494.4 L242.8,495.9 L244.1,497.4 L245.4,498.9 L246.8,500.4 L248.2,501.9 L249.5,503.3 L250.9,504.8 L252.3,506.2 L253.7,507.6 L255.1,509.0 L256.6,510.4 L258.0,511.8 L259.5,513.2 L260.9,514.6 L262.4,515.9 L263.9,517.2 L265.4,518.5 L267.0,519.8 L268.5,521.1 L270.1,522.4 L271.6,523.7 L273.2,524.9 L274.8,526.1 L276.4,527.3 L278.1,528.5 L279.7,529.7 L281.4,530.9 L283.1,532.0 L284.8,533.1 L286.5,534.3 L288.2,535.4 L289.9,536.4 L291.7,537.5" fill="none" stroke="#2f8b8d" stroke-width="2.8" stroke-dasharray="7.4 2.8 2.6 2.8 2.6 2.8 2.6 2.8" stroke-linejoin="round"/>
<path d="M94.2,520.0 L94.5,518.0 L94.8,516.0 L95.0,514.0 L95.3,512.1 L95.6,510.1 L95.9,508.1 L96.2,506.1 L96.5,504.2 L96.9,502.2 L97.2,500.2 L97.5,498.2 L97.9,496.3 L98.3,494.3 L98.6,492.3 L99.0,490.3 L99.4,488.4 L99.8,486.4 L100.2,484.4 L100.6,482.5 L101.0,480.5 L101.4,478.6 L101.9,476.6 L102.3,474.6 L102.8,472.7 L103.2,470.7 L103.7,468.8 L104.1,466.8 L104.6,464.9 L105.1,462.9 L105.6,461.0 L106.0,459.0 L106.5,457.1 L107.0,455.1 L107.5,453.2 L108.0,451.2 L108.5,449.3 L109.1,447.3 L109.6,445.4 L110.1,443.4 L110.6,441.5 L111.2,439.6 L111.7,437.6 L112.3,435.7 L112.8,433.7 L113.4,431.8 L114.0,429.9 L114.5,428.0 L115.1,426.0 L115.7,424.1 L116.3,422.2 L116.9,420.3 L117.5,418.4 L118.1,416.4 L118.7,414.5 L119.4,412.6 L120.0,410.7 L120.6,408.8 L121.3,406.9 L121.9,405.0 L122.6,403.1 L123.3,401.2 L124.0,399.3 L124.6,397.4 L125.3,395.6 L126.0,393.7 L126.7,391.8 L127.4,389.9 L128.2,388.0 L128.9,386.2 L129.6,384.3 L130.4,382.4 L131.1,380.6 L131.9,378.7 L132.6,376.9 L133.4,375.0 L134.1,373.2 L134.9,371.3 L135.7,369.5 L136.5,367.6 L137.3,365.8 L138.1,364.0 L138.9,362.1 L139.7,360.3 L140.5,358.5 L141.4,356.7 L142.2,354.8 L143.0,353.0 L143.9,351.2 L144.7,349.4 L145.6,347.6 L146.4,345.8 L147.3,343.9 L148.2,342.1 L149.0,340.3 L149.9,338.5 L150.8,336.7 L151.7,334.9 L152.6,333.1 L153.5,331.3 L154.4,329.6 L155.3,327.8 L156.2,326.0 L157.1,324.2 L158.0,322.4 L158.9,320.6 L159.9,318.8 L160.8,317.1 L161.7,315.3 L162.7,313.5 L163.6,311.7 L164.5,310.0 L165.5,308.2 L166.4,306.4 L167.4,304.7 L168.3,302.9 L169.3,301.1 L170.3,299.4 L171.2,297.6 L172.2,295.9 L173.2,294.1 L174.1,292.4 L175.1,290.6 L176.1,288.9 L177.1,287.1 L178.0,285.3 L179.0,283.6 L180.0,281.9 L181.0,280.1 L182.0,278.4 L183.0,276.6 L184.0,274.9 L185.0,273.1 L186.0,271.4 L187.0,269.6 L188.0,267.9 L189.0,266.2 L190.0,264.4 L191.0,262.7 L192.0,261.0 L193.0,259.2 L194.0,257.5 L195.0,255.7 L196.0,254.0 L197.0,252.3 L198.0,250.5 L199.0,248.8 L200.0,247.1 L201.0,245.3 L202.0,243.6 L203.0,241.9 L204.0,240.1 L205.0,238.4 L206.0,236.6 L207.0,234.9 L208.0,233.2 L209.0,231.4 L210.0,229.7 L211.0,227.9 L212.0,226.2 L213.0,224.5 L214.0,222.7 L215.0,221.0 L216.0,219.2 L217.0,217.5 L218.0,215.7 L219.0,214.0 L220.0,212.3 L221.0,210.5 L222.1,208.8 L223.1,207.0 L224.1,205.3 L225.1,203.6 L226.1,201.9 L227.2,200.1 L228.2,198.4 L229.2,196.7 L230.3,195.0 L231.3,193.2 L232.4,191.5 L233.4,189.8 L234.5,188.1 L235.6,186.4 L236.7,184.7 L237.8,183.1 L238.9,181.4 L240.0,179.7 L241.1,178.0 L242.3,176.4 L243.4,174.7 L244.6,173.0 L245.7,171.4 L246.9,169.8 L248.1,168.1 L249.3,166.5 L250.5,164.9 L251.7,163.3 L252.9,161.7 L254.2,160.1 L255.5,158.5 L256.7,157.0 L258.0,155.4 L259.3,153.9 L260.6,152.3 L261.9,150.8 L263.3,149.3 L264.6,147.8 L266.0,146.3 L267.3,144.9 L268.7,143.4 L270.1,142.0 L271.5,140.6 L273.0,139.2 L274.4,137.8 L275.8,136.4 L277.3,135.1 L278.8,133.7 L280.3,132.4 L281.8,131.1 L283.3,129.8 L284.8,128.6 L286.4,127.3 L288.0,126.1 L289.5,124.9 L291.1,123.8 L292.7,122.6 L294.4,121.5 L296.0,120.4 L297.7,119.3 L299.3,118.2 L301.0,117.2 L302.7,116.2 L304.4,115.2 L306.2,114.3 L307.9,113.3 L309.7,112.4 L311.5,111.5 L313.3,110.7 L315.1,109.9 L316.9,109.1 L318.7,108.3 L320.6,107.6 L322.5,106.9 L324.4,106.2 L326.3,105.5 L328.2,104.9 L330.2,104.4 L332.1,103.8 L334.1,103.3 L336.1,102.8 L338.1,102.3 L340.2,101.9 L342.2,101.5 L344.3,101.2" fill="none" stroke="#33a488" stroke-width="2.8" stroke-dasharray="5 2.6 2.6 2.8 2.6 2.8 2.6 2.8" stroke-linejoin="round"/>
<path d="M94.4,145.0 L94.3,147.0 L94.3,149.1 L94.3,151.1 L94.3,153.2 L94.3,155.2 L94.4,157.2 L94.5,159.2 L94.6,161.2 L94.7,163.3 L94.8,165.3 L95.0,167.3 L95.1,169.3 L95.3,171.3 L95.5,173.3 L95.7,175.3 L96.0,177.3 L96.2,179.3 L96.5,181.2 L96.8,183.2 L97.1,185.2 L97.4,187.2 L97.8,189.2 L98.1,191.1 L98.5,193.1 L98.8,195.1 L99.2,197.0 L99.6,199.0 L100.1,200.9 L100.5,202.9 L100.9,204.8 L101.4,206.8 L101.9,208.7 L102.3,210.7 L102.8,212.6 L103.3,214.6 L103.8,216.5 L104.4,218.4 L104.9,220.4 L105.4,222.3 L106.0,224.2 L106.5,226.2 L107.1,228.1 L107.7,230.0 L108.2,232.0 L108.8,233.9 L109.4,235.8 L110.0,237.7 L110.6,239.6 L111.3,241.6 L111.9,243.5 L112.5,245.4 L113.1,247.3 L113.8,249.2 L114.4,251.1 L115.0,253.0 L115.7,254.9 L116.3,256.9 L117.0,258.8 L117.6,260.7 L118.3,262.6 L118.9,264.5 L119.6,266.4 L120.3,268.3 L120.9,270.2 L121.6,272.1 L122.3,274.0 L123.0,275.9 L123.6,277.8 L124.3,279.7 L125.0,281.6 L125.7,283.5 L126.4,285.4 L127.1,287.2 L127.8,289.1 L128.5,291.0 L129.2,292.9 L129.9,294.8 L130.6,296.7 L131.3,298.6 L132.0,300.4 L132.7,302.3 L133.5,304.2 L134.2,306.1 L134.9,308.0 L135.6,309.8 L136.4,311.7 L137.1,313.6 L137.8,315.4 L138.6,317.3 L139.3,319.2 L140.0,321.1 L140.8,322.9 L141.5,324.8 L142.3,326.6 L143.1,328.5 L143.8,330.3 L144.6,332.2 L145.4,334.1 L146.2,335.9 L146.9,337.7 L147.7,339.6 L148.5,341.4 L149.3,343.3 L150.1,345.1 L150.9,346.9 L151.8,348.8 L152.6,350.6 L153.4,352.4 L154.3,354.2 L155.1,356.0 L156.0,357.9 L156.8,359.7 L157.7,361.5 L158.6,363.3 L159.5,365.1 L160.4,366.9 L161.3,368.7 L162.2,370.4 L163.1,372.2 L164.0,374.0 L164.9,375.8 L165.8,377.6 L166.8,379.4 L167.7,381.1 L168.7,382.9 L169.6,384.7 L170.6,386.5 L171.5,388.2 L172.5,390.0 L173.4,391.7 L174.4,393.5 L175.4,395.3 L176.3,397.0 L177.3,398.8 L178.3,400.6 L179.3,402.3 L180.3,404.1 L181.3,405.8 L182.2,407.6 L183.2,409.3 L184.2,411.1 L185.2,412.8 L186.2,414.6 L187.2,416.3 L188.2,418.1 L189.2,419.8 L190.2,421.6 L191.2,423.3 L192.2,425.1 L193.2,426.8 L194.2,428.6 L195.3,430.3 L196.3,432.1 L197.3,433.8 L198.3,435.5 L199.3,437.3 L200.4,439.0 L201.4,440.7 L202.4,442.5 L203.5,444.2 L204.5,445.9 L205.6,447.6 L206.6,449.4 L207.7,451.1 L208.7,452.8 L209.8,454.5 L210.8,456.2 L211.9,457.9 L213.0,459.6 L214.1,461.3 L215.1,463.0 L216.2,464.7 L217.3,466.4 L218.4,468.1 L219.5,469.8 L220.7,471.4 L221.8,473.1 L222.9,474.8 L224.0,476.4 L225.2,478.1 L226.3,479.7 L227.5,481.4 L228.6,483.0 L229.8,484.6 L231.0,486.3 L232.2,487.9 L233.4,489.5 L234.6,491.1 L235.8,492.7 L237.0,494.3 L238.3,495.8 L239.5,497.4 L240.8,499.0 L242.0,500.5 L243.3,502.0 L244.6,503.6 L245.9,505.1 L247.2,506.6 L248.5,508.1 L249.9,509.6 L251.2,511.1 L252.6,512.5 L254.0,514.0 L255.4,515.4 L256.8,516.9 L258.2,518.3 L259.6,519.7 L261.0,521.1 L262.5,522.5 L264.0,523.8 L265.5,525.2 L267.0,526.5 L268.5,527.9 L270.0,529.2 L271.6,530.5 L273.1,531.8 L274.7,533.1 L276.3,534.3 L277.9,535.6 L279.6,536.8 L281.2,538.0" fill="none" stroke="#33a488" stroke-width="2.8" stroke-dasharray="5 2.6 2.6 2.8 2.6 2.8 2.6 2.8" stroke-linejoin="round"/>
<path d="M94.2,522.0 L94.4,520.0 L94.6,518.0 L94.7,515.9 L94.9,513.9 L95.1,511.9 L95.2,509.9 L95.4,507.9 L95.5,505.9 L95.7,503.9 L95.8,501.9 L96.0,499.9 L96.1,497.9 L96.3,495.9 L96.5,493.9 L96.6,491.9 L96.8,489.9 L97.0,487.9 L97.1,485.9 L97.3,483.9 L97.5,481.9 L97.7,479.9 L97.9,477.9 L98.1,475.9 L98.3,473.9 L98.5,471.9 L98.7,469.9 L99.0,467.9 L99.2,465.9 L99.4,463.9 L99.7,462.0 L100.0,460.0 L100.2,458.0 L100.5,456.0 L100.8,454.0 L101.1,452.0 L101.4,450.0 L101.8,448.0 L102.1,446.0 L102.5,444.0 L102.8,442.0 L103.2,440.0 L103.6,438.0 L104.0,436.0 L104.4,434.0 L104.8,432.1 L105.2,430.1 L105.7,428.1 L106.1,426.1 L106.6,424.2 L107.1,422.2 L107.6,420.2 L108.1,418.3 L108.7,416.3 L109.2,414.4 L109.8,412.4 L110.3,410.5 L110.9,408.6 L111.5,406.7 L112.2,404.7 L112.8,402.8 L113.4,400.9 L114.1,399.0 L114.8,397.1 L115.5,395.3 L116.2,393.4 L116.9,391.5 L117.7,389.7 L118.5,387.8 L119.2,386.0 L120.0,384.1 L120.8,382.3 L121.6,380.4 L122.5,378.6 L123.3,376.8 L124.2,375.0 L125.0,373.2 L125.9,371.4 L126.8,369.6 L127.7,367.8 L128.6,366.0 L129.5,364.2 L130.4,362.4 L131.4,360.7 L132.3,358.9 L133.3,357.1 L134.2,355.4 L135.2,353.6 L136.2,351.8 L137.2,350.1 L138.2,348.3 L139.1,346.6 L140.2,344.8 L141.2,343.1 L142.2,341.4 L143.2,339.6 L144.2,337.9 L145.2,336.1 L146.3,334.4 L147.3,332.7 L148.4,331.0 L149.4,329.2 L150.4,327.5 L151.5,325.8 L152.5,324.0 L153.6,322.3 L154.6,320.6 L155.7,318.9 L156.7,317.2 L157.8,315.4 L158.8,313.7 L159.9,312.0 L160.9,310.3 L162.0,308.5 L163.0,306.8 L164.1,305.1 L165.1,303.4 L166.2,301.6 L167.2,299.9 L168.2,298.2 L169.3,296.4 L170.3,294.7 L171.3,293.0 L172.3,291.2 L173.4,289.5 L174.4,287.7 L175.4,286.0 L176.4,284.2 L177.4,282.5 L178.4,280.7 L179.3,279.0 L180.3,277.2 L181.3,275.5 L182.3,273.7 L183.3,272.0 L184.2,270.2 L185.2,268.4 L186.2,266.7 L187.1,264.9 L188.1,263.1 L189.0,261.4 L190.0,259.6 L190.9,257.8 L191.9,256.1 L192.8,254.3 L193.8,252.5 L194.7,250.7 L195.6,249.0 L196.6,247.2 L197.5,245.4 L198.4,243.6 L199.4,241.8 L200.3,240.0 L201.2,238.3 L202.1,236.5 L203.1,234.7 L204.0,232.9 L204.9,231.1 L205.8,229.3 L206.7,227.5 L207.6,225.7 L208.6,224.0 L209.5,222.2 L210.4,220.4 L211.3,218.6 L212.2,216.8 L213.1,215.0 L214.0,213.2 L214.9,211.4 L215.9,209.6 L216.8,207.8 L217.7,206.0 L218.6,204.2 L219.5,202.4 L220.4,200.6 L221.3,198.8 L222.2,197.0 L223.1,195.2 L224.0,193.4 L225.0,191.6 L225.9,189.8 L226.8,188.0 L227.7,186.2 L228.6,184.4 L229.5,182.6 L230.5,180.8 L231.4,179.0 L232.3,177.2 L233.2,175.4 L234.2,173.6 L235.1,171.9 L236.1,170.1 L237.0,168.3 L238.0,166.5 L239.0,164.8 L240.0,163.0 L241.0,161.3 L242.0,159.6 L243.0,157.8 L244.1,156.1 L245.1,154.4 L246.2,152.8 L247.3,151.1 L248.4,149.4 L249.6,147.8 L250.7,146.2 L251.9,144.5 L253.1,143.0 L254.3,141.4 L255.6,139.8 L256.9,138.3 L258.2,136.8 L259.5,135.3 L260.8,133.8 L262.2,132.3 L263.6,130.9 L265.1,129.5 L266.5,128.1 L268.0,126.8 L269.5,125.4 L271.1,124.1 L272.6,122.8 L274.2,121.6 L275.8,120.3 L277.5,119.1 L279.1,118.0 L280.8,116.8 L282.5,115.7 L284.2,114.6 L285.9,113.5 L287.6,112.4 L289.4,111.4 L291.2,110.4 L292.9,109.5 L294.7,108.5 L296.6,107.6 L298.4,106.8 L300.2,105.9 L302.1,105.1 L303.9,104.3 L305.8,103.6 L307.6,102.8 L309.5,102.2 L311.4,101.5" fill="none" stroke="#4aca7b" stroke-width="2.8" stroke-dasharray="2.5 2.6" stroke-linejoin="round"/>
<path d="M94.4,140.0 L94.4,142.0 L94.4,144.1 L94.4,146.1 L94.5,148.1 L94.5,150.2 L94.6,152.2 L94.7,154.2 L94.8,156.2 L95.0,158.2 L95.1,160.2 L95.3,162.2 L95.5,164.2 L95.7,166.2 L95.9,168.2 L96.1,170.2 L96.4,172.2 L96.7,174.2 L97.0,176.2 L97.3,178.2 L97.6,180.2 L97.9,182.1 L98.2,184.1 L98.6,186.1 L99.0,188.1 L99.4,190.0 L99.8,192.0 L100.2,194.0 L100.6,195.9 L101.0,197.9 L101.5,199.8 L101.9,201.8 L102.4,203.7 L102.9,205.7 L103.4,207.6 L103.9,209.6 L104.4,211.5 L104.9,213.5 L105.4,215.4 L106.0,217.3 L106.5,219.3 L107.1,221.2 L107.7,223.2 L108.2,225.1 L108.8,227.0 L109.4,228.9 L110.0,230.9 L110.6,232.8 L111.2,234.7 L111.8,236.6 L112.4,238.6 L113.1,240.5 L113.7,242.4 L114.3,244.3 L115.0,246.2 L115.6,248.1 L116.3,250.0 L116.9,252.0 L117.6,253.9 L118.2,255.8 L118.9,257.7 L119.6,259.6 L120.2,261.5 L120.9,263.4 L121.6,265.3 L122.3,267.2 L123.0,269.1 L123.6,271.0 L124.3,272.9 L125.0,274.8 L125.7,276.7 L126.4,278.5 L127.2,280.4 L127.9,282.3 L128.6,284.2 L129.3,286.1 L130.0,288.0 L130.7,289.9 L131.5,291.7 L132.2,293.6 L132.9,295.5 L133.6,297.4 L134.4,299.3 L135.1,301.1 L135.9,303.0 L136.6,304.9 L137.4,306.7 L138.1,308.6 L138.9,310.5 L139.6,312.3 L140.4,314.2 L141.1,316.1 L141.9,317.9 L142.7,319.8 L143.4,321.6 L144.2,323.5 L145.0,325.4 L145.8,327.2 L146.5,329.1 L147.3,330.9 L148.1,332.8 L148.9,334.6 L149.7,336.4 L150.5,338.3 L151.3,340.1 L152.1,342.0 L152.9,343.8 L153.8,345.6 L154.6,347.5 L155.4,349.3 L156.2,351.1 L157.1,353.0 L157.9,354.8 L158.7,356.6 L159.6,358.4 L160.4,360.3 L161.3,362.1 L162.1,363.9 L163.0,365.7 L163.9,367.5 L164.7,369.4 L165.6,371.2 L166.4,373.0 L167.3,374.8 L168.2,376.6 L169.1,378.4 L169.9,380.2 L170.8,382.1 L171.7,383.9 L172.6,385.7 L173.5,387.5 L174.3,389.3 L175.2,391.1 L176.1,392.9 L177.0,394.7 L177.9,396.5 L178.8,398.3 L179.7,400.1 L180.6,401.9 L181.5,403.8 L182.4,405.6 L183.2,407.4 L184.1,409.2 L185.0,411.0 L185.9,412.8 L186.8,414.6 L187.7,416.4 L188.7,418.2 L189.6,420.0 L190.5,421.8 L191.4,423.6 L192.3,425.4 L193.2,427.2 L194.1,429.0 L195.0,430.8 L196.0,432.6 L196.9,434.4 L197.8,436.2 L198.7,437.9 L199.7,439.7 L200.6,441.5 L201.5,443.3 L202.5,445.1 L203.4,446.9 L204.3,448.7 L205.3,450.4 L206.2,452.2 L207.2,454.0 L208.1,455.8 L209.1,457.5 L210.1,459.3 L211.0,461.1 L212.0,462.8 L213.0,464.6 L213.9,466.4 L214.9,468.1 L215.9,469.9 L216.9,471.6 L217.9,473.4 L218.9,475.1 L219.9,476.8 L220.9,478.6 L222.0,480.3 L223.0,482.0 L224.0,483.8 L225.1,485.5 L226.1,487.2 L227.2,488.9 L228.2,490.6 L229.3,492.3 L230.4,494.0 L231.5,495.7 L232.6,497.4 L233.7,499.1 L234.8,500.7 L235.9,502.4 L237.0,504.1 L238.2,505.7 L239.3,507.4 L240.5,509.0 L241.6,510.7 L242.8,512.3 L244.0,513.9 L245.2,515.5 L246.4,517.2 L247.6,518.8 L248.8,520.4 L250.0,522.0 L251.3,523.6 L252.5,525.1 L253.8,526.7 L255.1,528.3 L256.4,529.8 L257.7,531.4 L259.0,532.9 L260.3,534.5 L261.7,536.0 L263.0,537.5" fill="none" stroke="#4aca7b" stroke-width="2.8" stroke-dasharray="2.5 2.6" stroke-linejoin="round"/>
<path d="M94.2,526.7 L94.6,524.8 L94.9,522.8 L95.2,520.8 L95.6,518.8 L95.9,516.9 L96.3,514.9 L96.7,512.9 L97.0,510.9 L97.4,509.0 L97.8,507.0 L98.2,505.0 L98.7,503.1 L99.1,501.1 L99.5,499.2 L100.0,497.2 L100.4,495.3 L100.9,493.3 L101.3,491.3 L101.8,489.4 L102.3,487.4 L102.8,485.5 L103.3,483.5 L103.8,481.6 L104.3,479.7 L104.8,477.7 L105.3,475.8 L105.8,473.8 L106.4,471.9 L106.9,470.0 L107.5,468.0 L108.0,466.1 L108.6,464.2 L109.1,462.2 L109.7,460.3 L110.3,458.4 L110.9,456.5 L111.5,454.5 L112.1,452.6 L112.7,450.7 L113.3,448.8 L113.9,446.9 L114.5,444.9 L115.1,443.0 L115.8,441.1 L116.4,439.2 L117.0,437.3 L117.7,435.4 L118.3,433.5 L119.0,431.6 L119.6,429.7 L120.3,427.8 L121.0,425.8 L121.6,423.9 L122.3,422.0 L123.0,420.1 L123.7,418.2 L124.4,416.4 L125.1,414.5 L125.8,412.6 L126.5,410.7 L127.2,408.8 L127.9,406.9 L128.6,405.0 L129.3,403.1 L130.0,401.2 L130.7,399.3 L131.4,397.5 L132.2,395.6 L132.9,393.7 L133.6,391.8 L134.4,389.9 L135.1,388.1 L135.8,386.2 L136.6,384.3 L137.3,382.4 L138.1,380.6 L138.8,378.7 L139.6,376.8 L140.4,375.0 L141.1,373.1 L141.9,371.2 L142.7,369.4 L143.4,367.5 L144.2,365.7 L145.0,363.8 L145.8,361.9 L146.6,360.1 L147.4,358.2 L148.2,356.4 L149.0,354.5 L149.8,352.7 L150.6,350.9 L151.4,349.0 L152.2,347.2 L153.0,345.3 L153.8,343.5 L154.7,341.7 L155.5,339.8 L156.3,338.0 L157.2,336.2 L158.0,334.3 L158.8,332.5 L159.7,330.7 L160.5,328.9 L161.4,327.0 L162.3,325.2 L163.1,323.4 L164.0,321.6 L164.9,319.8 L165.7,318.0 L166.6,316.2 L167.5,314.4 L168.4,312.6 L169.3,310.8 L170.2,309.0 L171.1,307.2 L172.0,305.4 L172.9,303.6 L173.8,301.8 L174.7,300.0 L175.6,298.2 L176.6,296.4 L177.5,294.7 L178.4,292.9 L179.4,291.1 L180.3,289.3 L181.3,287.6 L182.2,285.8 L183.2,284.0 L184.1,282.3 L185.1,280.5 L186.0,278.7 L187.0,277.0 L188.0,275.2 L188.9,273.5 L189.9,271.7 L190.9,270.0 L191.9,268.2 L192.9,266.5 L193.9,264.7 L194.8,263.0 L195.8,261.2 L196.8,259.5 L197.8,257.7 L198.8,256.0 L199.8,254.2 L200.8,252.5 L201.8,250.8 L202.8,249.0 L203.8,247.3 L204.8,245.5 L205.8,243.8 L206.8,242.0 L207.8,240.3 L208.9,238.6 L209.9,236.8 L210.9,235.1 L211.9,233.3 L212.9,231.6 L213.9,229.8 L214.9,228.1 L215.9,226.4 L216.9,224.6 L217.9,222.9 L218.9,221.1 L219.9,219.4 L220.9,217.6 L221.9,215.9 L222.9,214.1 L223.9,212.4 L224.9,210.6 L225.9,208.9 L226.9,207.1 L227.9,205.3 L228.9,203.6 L229.9,201.8 L230.9,200.0 L231.9,198.3 L232.9,196.5 L233.8,194.7 L234.8,193.0 L235.8,191.2 L236.8,189.4 L237.7,187.6 L238.7,185.8 L239.6,184.1 L240.6,182.3 L241.6,180.5 L242.5,178.7 L243.5,176.9 L244.4,175.1 L245.3,173.3 L246.3,171.5 L247.2,169.7 L248.2,167.9 L249.2,166.1 L250.1,164.3 L251.1,162.6 L252.1,160.8 L253.1,159.0 L254.1,157.3 L255.1,155.6 L256.1,153.8 L257.1,152.1 L258.2,150.4 L259.3,148.7 L260.3,147.1 L261.4,145.4 L262.6,143.8 L263.7,142.1 L264.9,140.5 L266.1,139.0 L267.3,137.4 L268.5,135.9 L269.8,134.4 L271.1,132.9 L272.4,131.4 L273.7,130.0 L275.1,128.5 L276.5,127.2 L277.9,125.8 L279.4,124.5 L280.9,123.2 L282.4,121.9 L284.0,120.7 L285.6,119.5 L287.2,118.3 L288.8,117.1 L290.5,116.0 L292.2,114.9 L293.9,113.9 L295.6,112.9 L297.4,111.9 L299.2,111.0 L301.0,110.1 L302.8,109.2 L304.6,108.3 L306.5,107.5 L308.4,106.8 L310.3,106.0 L312.2,105.3 L314.2,104.7 L316.1,104.1 L318.1,103.5 L320.1,103.0 L322.1,102.5 L324.1,102.0 L326.2,101.6 L328.2,101.2" fill="none" stroke="#76d153" stroke-width="2.8" stroke-linejoin="round"/>
<path d="M94.4,134.0 L94.4,136.0 L94.4,138.0 L94.5,140.0 L94.6,142.1 L94.7,144.1 L94.8,146.1 L94.9,148.1 L95.1,150.1 L95.3,152.1 L95.5,154.0 L95.7,156.0 L96.0,158.0 L96.3,160.0 L96.5,162.0 L96.8,163.9 L97.2,165.9 L97.5,167.9 L97.8,169.9 L98.2,171.8 L98.6,173.8 L99.0,175.8 L99.4,177.7 L99.8,179.7 L100.2,181.6 L100.6,183.6 L101.1,185.6 L101.5,187.5 L102.0,189.5 L102.5,191.4 L103.0,193.4 L103.4,195.3 L103.9,197.3 L104.4,199.2 L104.9,201.2 L105.5,203.1 L106.0,205.0 L106.5,207.0 L107.0,208.9 L107.6,210.9 L108.1,212.8 L108.7,214.7 L109.3,216.7 L109.8,218.6 L110.4,220.5 L111.0,222.5 L111.6,224.4 L112.2,226.3 L112.8,228.2 L113.4,230.1 L114.0,232.1 L114.7,234.0 L115.3,235.9 L115.9,237.8 L116.6,239.7 L117.2,241.6 L117.9,243.5 L118.5,245.4 L119.2,247.3 L119.9,249.2 L120.5,251.1 L121.2,253.0 L121.9,254.9 L122.6,256.8 L123.3,258.6 L124.0,260.5 L124.7,262.4 L125.4,264.3 L126.2,266.2 L126.9,268.0 L127.6,269.9 L128.4,271.8 L129.1,273.6 L129.8,275.5 L130.6,277.4 L131.3,279.2 L132.1,281.1 L132.9,282.9 L133.6,284.8 L134.4,286.6 L135.2,288.5 L136.0,290.3 L136.7,292.2 L137.5,294.0 L138.3,295.9 L139.1,297.7 L139.9,299.5 L140.7,301.4 L141.5,303.2 L142.3,305.1 L143.2,306.9 L144.0,308.7 L144.8,310.5 L145.6,312.4 L146.4,314.2 L147.3,316.0 L148.1,317.9 L148.9,319.7 L149.8,321.5 L150.6,323.3 L151.5,325.1 L152.3,327.0 L153.1,328.8 L154.0,330.6 L154.8,332.4 L155.7,334.2 L156.6,336.0 L157.4,337.9 L158.3,339.7 L159.1,341.5 L160.0,343.3 L160.9,345.1 L161.7,346.9 L162.6,348.7 L163.5,350.5 L164.4,352.3 L165.2,354.2 L166.1,356.0 L167.0,357.8 L167.9,359.6 L168.8,361.4 L169.6,363.2 L170.5,365.0 L171.4,366.8 L172.3,368.6 L173.2,370.4 L174.1,372.2 L175.0,374.0 L175.9,375.8 L176.8,377.6 L177.7,379.4 L178.6,381.2 L179.5,383.0 L180.4,384.8 L181.3,386.6 L182.2,388.4 L183.1,390.2 L184.0,392.0 L184.9,393.8 L185.8,395.6 L186.7,397.3 L187.6,399.1 L188.5,400.9 L189.5,402.7 L190.4,404.5 L191.3,406.3 L192.2,408.1 L193.1,409.9 L194.1,411.6 L195.0,413.4 L195.9,415.2 L196.9,417.0 L197.8,418.8 L198.7,420.6 L199.7,422.3 L200.6,424.1 L201.5,425.9 L202.5,427.7 L203.4,429.4 L204.4,431.2 L205.3,433.0 L206.2,434.8 L207.2,436.5 L208.1,438.3 L209.1,440.1 L210.0,441.9 L211.0,443.6 L212.0,445.4 L212.9,447.2 L213.9,448.9 L214.8,450.7 L215.8,452.5 L216.8,454.2 L217.7,456.0 L218.7,457.7 L219.7,459.5 L220.6,461.2 L221.6,463.0 L222.6,464.7 L223.6,466.5 L224.6,468.2 L225.6,470.0 L226.6,471.7 L227.6,473.4 L228.6,475.2 L229.6,476.9 L230.7,478.6 L231.7,480.3 L232.8,482.0 L233.8,483.7 L234.9,485.4 L235.9,487.1 L237.0,488.8 L238.1,490.5 L239.2,492.2 L240.3,493.8 L241.4,495.5 L242.5,497.1 L243.6,498.8 L244.8,500.4 L245.9,502.1 L247.1,503.7 L248.3,505.3 L249.5,506.9 L250.7,508.5 L251.9,510.1 L253.1,511.7 L254.4,513.2 L255.6,514.8 L256.9,516.4 L258.2,517.9 L259.4,519.4 L260.8,521.0 L262.1,522.5 L263.4,524.0 L264.8,525.5 L266.1,527.0 L267.5,528.4 L268.9,529.9 L270.3,531.3 L271.8,532.8 L273.2,534.2 L274.7,535.6 L276.2,537.0 L277.7,538.4" fill="none" stroke="#76d153" stroke-width="2.8" stroke-linejoin="round"/>
<line x1="117.74" y1="576.30" x2="117.74" y2="573.50" stroke="#000" stroke-width="1.3" />
<line x1="117.74" y1="63.00" x2="117.74" y2="65.80" stroke="#000" stroke-width="1.3" />
<line x1="141.07" y1="576.30" x2="141.07" y2="573.50" stroke="#000" stroke-width="1.3" />
<line x1="141.07" y1="63.00" x2="141.07" y2="65.80" stroke="#000" stroke-width="1.3" />
<line x1="164.41" y1="576.30" x2="164.41" y2="573.50" stroke="#000" stroke-width="1.3" />
<line x1="164.41" y1="63.00" x2="164.41" y2="65.80" stroke="#000" stroke-width="1.3" />
<line x1="187.74" y1="576.30" x2="187.74" y2="573.50" stroke="#000" stroke-width="1.3" />
<line x1="187.74" y1="63.00" x2="187.74" y2="65.80" stroke="#000" stroke-width="1.3" />
<line x1="234.41" y1="576.30" x2="234.41" y2="573.50" stroke="#000" stroke-width="1.3" />
<line x1="234.41" y1="63.00" x2="234.41" y2="65.80" stroke="#000" stroke-width="1.3" />
<line x1="257.75" y1="576.30" x2="257.75" y2="573.50" stroke="#000" stroke-width="1.3" />
<line x1="257.75" y1="63.00" x2="257.75" y2="65.80" stroke="#000" stroke-width="1.3" />
<line x1="281.08" y1="576.30" x2="281.08" y2="573.50" stroke="#000" stroke-width="1.3" />
<line x1="281.08" y1="63.00" x2="281.08" y2="65.80" stroke="#000" stroke-width="1.3" />
<line x1="304.41" y1="576.30" x2="304.41" y2="573.50" stroke="#000" stroke-width="1.3" />
<line x1="304.41" y1="63.00" x2="304.41" y2="65.80" stroke="#000" stroke-width="1.3" />
<line x1="351.09" y1="576.30" x2="351.09" y2="573.50" stroke="#000" stroke-width="1.3" />
<line x1="351.09" y1="63.00" x2="351.09" y2="65.80" stroke="#000" stroke-width="1.3" />
<line x1="374.42" y1="576.30" x2="374.42" y2="573.50" stroke="#000" stroke-width="1.3" />
<line x1="374.42" y1="63.00" x2="374.42" y2="65.80" stroke="#000" stroke-width="1.3" />
<line x1="397.75" y1="576.30" x2="397.75" y2="573.50" stroke="#000" stroke-width="1.3" />
<line x1="397.75" y1="63.00" x2="397.75" y2="65.80" stroke="#000" stroke-width="1.3" />
<line x1="421.09" y1="576.30" x2="421.09" y2="573.50" stroke="#000" stroke-width="1.3" />
<line x1="421.09" y1="63.00" x2="421.09" y2="65.80" stroke="#000" stroke-width="1.3" />
<line x1="467.76" y1="576.30" x2="467.76" y2="573.50" stroke="#000" stroke-width="1.3" />
<line x1="467.76" y1="63.00" x2="467.76" y2="65.80" stroke="#000" stroke-width="1.3" />
<line x1="491.10" y1="576.30" x2="491.10" y2="573.50" stroke="#000" stroke-width="1.3" />
<line x1="491.10" y1="63.00" x2="491.10" y2="65.80" stroke="#000" stroke-width="1.3" />
<line x1="514.43" y1="576.30" x2="514.43" y2="573.50" stroke="#000" stroke-width="1.3" />
<line x1="514.43" y1="63.00" x2="514.43" y2="65.80" stroke="#000" stroke-width="1.3" />
<line x1="537.76" y1="576.30" x2="537.76" y2="573.50" stroke="#000" stroke-width="1.3" />
<line x1="537.76" y1="63.00" x2="537.76" y2="65.80" stroke="#000" stroke-width="1.3" />
<line x1="94.40" y1="576.30" x2="94.40" y2="571.20" stroke="#000" stroke-width="1.3" />
<line x1="94.40" y1="63.00" x2="94.40" y2="68.10" stroke="#000" stroke-width="1.3" />
<line x1="211.07" y1="576.30" x2="211.07" y2="571.20" stroke="#000" stroke-width="1.3" />
<line x1="211.07" y1="63.00" x2="211.07" y2="68.10" stroke="#000" stroke-width="1.3" />
<line x1="327.75" y1="576.30" x2="327.75" y2="571.20" stroke="#000" stroke-width="1.3" />
<line x1="327.75" y1="63.00" x2="327.75" y2="68.10" stroke="#000" stroke-width="1.3" />
<line x1="444.42" y1="576.30" x2="444.42" y2="571.20" stroke="#000" stroke-width="1.3" />
<line x1="444.42" y1="63.00" x2="444.42" y2="68.10" stroke="#000" stroke-width="1.3" />
<line x1="561.10" y1="576.30" x2="561.10" y2="571.20" stroke="#000" stroke-width="1.3" />
<line x1="561.10" y1="63.00" x2="561.10" y2="68.10" stroke="#000" stroke-width="1.3" />
<line x1="71.40" y1="557.41" x2="74.20" y2="557.41" stroke="#000" stroke-width="1.3" />
<line x1="71.40" y1="538.41" x2="74.20" y2="538.41" stroke="#000" stroke-width="1.3" />
<line x1="71.40" y1="519.40" x2="74.20" y2="519.40" stroke="#000" stroke-width="1.3" />
<line x1="71.40" y1="481.40" x2="74.20" y2="481.40" stroke="#000" stroke-width="1.3" />
<line x1="71.40" y1="462.39" x2="74.20" y2="462.39" stroke="#000" stroke-width="1.3" />
<line x1="71.40" y1="443.39" x2="74.20" y2="443.39" stroke="#000" stroke-width="1.3" />
<line x1="71.40" y1="424.38" x2="74.20" y2="424.38" stroke="#000" stroke-width="1.3" />
<line x1="71.40" y1="386.37" x2="74.20" y2="386.37" stroke="#000" stroke-width="1.3" />
<line x1="71.40" y1="367.36" x2="74.20" y2="367.36" stroke="#000" stroke-width="1.3" />
<line x1="71.40" y1="348.36" x2="74.20" y2="348.36" stroke="#000" stroke-width="1.3" />
<line x1="71.40" y1="329.36" x2="74.20" y2="329.36" stroke="#000" stroke-width="1.3" />
<line x1="71.40" y1="291.34" x2="74.20" y2="291.34" stroke="#000" stroke-width="1.3" />
<line x1="71.40" y1="272.34" x2="74.20" y2="272.34" stroke="#000" stroke-width="1.3" />
<line x1="71.40" y1="253.34" x2="74.20" y2="253.34" stroke="#000" stroke-width="1.3" />
<line x1="71.40" y1="234.33" x2="74.20" y2="234.33" stroke="#000" stroke-width="1.3" />
<line x1="71.40" y1="196.32" x2="74.20" y2="196.32" stroke="#000" stroke-width="1.3" />
<line x1="71.40" y1="177.31" x2="74.20" y2="177.31" stroke="#000" stroke-width="1.3" />
<line x1="71.40" y1="158.31" x2="74.20" y2="158.31" stroke="#000" stroke-width="1.3" />
<line x1="71.40" y1="139.31" x2="74.20" y2="139.31" stroke="#000" stroke-width="1.3" />
<line x1="71.40" y1="101.30" x2="74.20" y2="101.30" stroke="#000" stroke-width="1.3" />
<line x1="71.40" y1="82.29" x2="74.20" y2="82.29" stroke="#000" stroke-width="1.3" />
<line x1="71.40" y1="500.40" x2="76.50" y2="500.40" stroke="#000" stroke-width="1.3" />
<line x1="71.40" y1="405.38" x2="76.50" y2="405.38" stroke="#000" stroke-width="1.3" />
<line x1="71.40" y1="310.35" x2="76.50" y2="310.35" stroke="#000" stroke-width="1.3" />
<line x1="71.40" y1="215.32" x2="76.50" y2="215.32" stroke="#000" stroke-width="1.3" />
<line x1="71.40" y1="120.30" x2="76.50" y2="120.30" stroke="#000" stroke-width="1.3" />
<line x1="583.60" y1="557.41" x2="580.80" y2="557.41" stroke="#000" stroke-width="1.3" />
<line x1="583.60" y1="538.41" x2="580.80" y2="538.41" stroke="#000" stroke-width="1.3" />
<line x1="583.60" y1="519.40" x2="580.80" y2="519.40" stroke="#000" stroke-width="1.3" />
<line x1="583.60" y1="481.40" x2="580.80" y2="481.40" stroke="#000" stroke-width="1.3" />
<line x1="583.60" y1="462.39" x2="580.80" y2="462.39" stroke="#000" stroke-width="1.3" />
<line x1="583.60" y1="443.39" x2="580.80" y2="443.39" stroke="#000" stroke-width="1.3" />
<line x1="583.60" y1="424.38" x2="580.80" y2="424.38" stroke="#000" stroke-width="1.3" />
<line x1="583.60" y1="386.37" x2="580.80" y2="386.37" stroke="#000" stroke-width="1.3" />
<line x1="583.60" y1="367.36" x2="580.80" y2="367.36" stroke="#000" stroke-width="1.3" />
<line x1="583.60" y1="348.36" x2="580.80" y2="348.36" stroke="#000" stroke-width="1.3" />
<line x1="583.60" y1="329.36" x2="580.80" y2="329.36" stroke="#000" stroke-width="1.3" />
<line x1="583.60" y1="291.34" x2="580.80" y2="291.34" stroke="#000" stroke-width="1.3" />
<line x1="583.60" y1="272.34" x2="580.80" y2="272.34" stroke="#000" stroke-width="1.3" />
<line x1="583.60" y1="253.34" x2="580.80" y2="253.34" stroke="#000" stroke-width="1.3" />
<line x1="583.60" y1="234.33" x2="580.80" y2="234.33" stroke="#000" stroke-width="1.3" />
<line x1="583.60" y1="196.32" x2="580.80" y2="196.32" stroke="#000" stroke-width="1.3" />
<line x1="583.60" y1="177.31" x2="580.80" y2="177.31" stroke="#000" stroke-width="1.3" />
<line x1="583.60" y1="158.31" x2="580.80" y2="158.31" stroke="#000" stroke-width="1.3" />
<line x1="583.60" y1="139.31" x2="580.80" y2="139.31" stroke="#000" stroke-width="1.3" />
<line x1="583.60" y1="101.30" x2="580.80" y2="101.30" stroke="#000" stroke-width="1.3" />
<line x1="583.60" y1="82.29" x2="580.80" y2="82.29" stroke="#000" stroke-width="1.3" />
<line x1="583.60" y1="500.40" x2="578.50" y2="500.40" stroke="#000" stroke-width="1.3" />
<line x1="583.60" y1="405.38" x2="578.50" y2="405.38" stroke="#000" stroke-width="1.3" />
<line x1="583.60" y1="310.35" x2="578.50" y2="310.35" stroke="#000" stroke-width="1.3" />
<line x1="583.60" y1="215.32" x2="578.50" y2="215.32" stroke="#000" stroke-width="1.3" />
<line x1="583.60" y1="120.30" x2="578.50" y2="120.30" stroke="#000" stroke-width="1.3" />
<rect x="71.40" y="63.00" width="512.20" height="513.30" fill="none" stroke="#000" stroke-width="2.8"/>
<text font-size="21.5" text-anchor="middle" transform="translate(94.40 597.90) scale(1 1.065)" stroke-width="0.35" >0</text>
<text font-size="21.5" text-anchor="middle" transform="translate(211.07 597.90) scale(1 1.065)" stroke-width="0.35" >50</text>
<text font-size="21.5" text-anchor="middle" transform="translate(327.75 597.90) scale(1 1.065)" stroke-width="0.35" >100</text>
<text font-size="21.5" text-anchor="middle" transform="translate(444.42 597.90) scale(1 1.065)" stroke-width="0.35" >150</text>
<text font-size="21.5" text-anchor="middle" transform="translate(561.10 597.90) scale(1 1.065)" stroke-width="0.35" >200</text>
<text font-size="21.5" text-anchor="end" transform="translate(65.30 508.25) scale(1 1.065)" stroke-width="0.35" >2.0</text>
<text font-size="21.5" text-anchor="end" transform="translate(65.30 413.23) scale(1 1.065)" stroke-width="0.35" >2.5</text>
<text font-size="21.5" text-anchor="end" transform="translate(65.30 318.20) scale(1 1.065)" stroke-width="0.35" >3.0</text>
<text font-size="21.5" text-anchor="end" transform="translate(65.30 223.17) scale(1 1.065)" stroke-width="0.35" >3.5</text>
<text font-size="21.5" text-anchor="end" transform="translate(65.30 128.15) scale(1 1.065)" stroke-width="0.35" >4.0</text>
<text font-size="21.5" text-anchor="start" transform="translate(590.00 508.25) scale(1 1.065)" stroke-width="0.35" >1.0</text>
<text font-size="21.5" text-anchor="start" transform="translate(590.00 413.23) scale(1 1.065)" stroke-width="0.35" >1.5</text>
<text font-size="21.5" text-anchor="start" transform="translate(590.00 318.20) scale(1 1.065)" stroke-width="0.35" >2.0</text>
<text font-size="21.5" text-anchor="start" transform="translate(590.00 223.17) scale(1 1.065)" stroke-width="0.35" >2.5</text>
<text font-size="21.5" text-anchor="start" transform="translate(590.00 128.15) scale(1 1.065)" stroke-width="0.35" >3.0</text>
<text font-size="21.9" text-anchor="middle" transform="translate(327.60 620.80) scale(1 1.025)" stroke-width="0.35" >Capacity<tspan dx="1.2"> (mAh g</tspan><tspan font-size="15.3" dy="-9.4" dx="1.0">−1</tspan><tspan dy="9.4" font-size="1">&#8203;</tspan><tspan dx="2">)</tspan></text>
<text font-size="22.2" text-anchor="middle" transform="translate(20.80 320.00) rotate(-90) scale(1 1.025)" stroke-width="0.35" >Potential ( V vs. Li<tspan font-size="15.3" dy="-9.4" dx="0.5">+</tspan><tspan dy="9.4" font-size="1">&#8203;</tspan>/Li )</text>
<text font-size="22.299999999999997" text-anchor="middle" transform="translate(647.00 320.00) rotate(-90) scale(1 1.025)" stroke-width="0.35" >Potential ( V vs. Mg<tspan font-size="15.3" dy="-9.4" dx="0.5">2+</tspan><tspan dy="9.4" font-size="1">&#8203;</tspan>/Mg )</text>
<text font-size="44.5" text-anchor="start" transform="translate(17.80 35.50) scale(1 1.025)" stroke-width="0.35" >a</text>
<line x1="391.30" y1="146.70" x2="415.20" y2="146.70" stroke="#3a1061" stroke-width="2.7" />
<text font-size="21.8" text-anchor="start" transform="translate(421.00 154.90) scale(1 1.025)" stroke-width="0.35" >1st</text>
<line x1="485.30" y1="146.70" x2="509.20" y2="146.70" stroke="#2f8b8d" stroke-width="2.7" stroke-dasharray="7.4 2.8 2.6 2.8 2.6 2.8 2.6 2.8"/>
<text font-size="21.8" text-anchor="start" transform="translate(515.00 154.90) scale(1 1.025)" stroke-width="0.35" >20th</text>
<line x1="391.30" y1="169.60" x2="415.20" y2="169.60" stroke="#432589" stroke-width="2.7" stroke-dasharray="15 3.6"/>
<text font-size="21.8" text-anchor="start" transform="translate(421.00 177.80) scale(1 1.025)" stroke-width="0.35" >2nd</text>
<line x1="485.30" y1="169.60" x2="509.20" y2="169.60" stroke="#33a488" stroke-width="2.7" stroke-dasharray="5 2.6 2.6 2.8 2.6 2.8 2.6 2.8"/>
<text font-size="21.8" text-anchor="start" transform="translate(515.00 177.80) scale(1 1.025)" stroke-width="0.35" >50th</text>
<line x1="391.30" y1="192.10" x2="415.20" y2="192.10" stroke="#3d4597" stroke-width="2.7" stroke-dasharray="12.3 3.5 2.3 3.5"/>
<text font-size="21.8" text-anchor="start" transform="translate(421.00 200.30) scale(1 1.025)" stroke-width="0.35" >5th</text>
<line x1="485.30" y1="192.10" x2="509.20" y2="192.10" stroke="#4aca7b" stroke-width="2.7" stroke-dasharray="2.5 2.6"/>
<text font-size="21.8" text-anchor="start" transform="translate(515.00 200.30) scale(1 1.025)" stroke-width="0.35" >100th</text>
<line x1="391.30" y1="214.70" x2="415.20" y2="214.70" stroke="#376e99" stroke-width="2.7" stroke-dasharray="9.5 3.5 2.3 3.5 2.3 3.5"/>
<text font-size="21.8" text-anchor="start" transform="translate(421.00 222.90) scale(1 1.025)" stroke-width="0.35" >10th</text>
<line x1="485.30" y1="214.70" x2="509.20" y2="214.70" stroke="#76d153" stroke-width="2.7" />
<text font-size="21.8" text-anchor="start" transform="translate(515.00 222.90) scale(1 1.025)" stroke-width="0.35" >200th</text>
<rect x="302.5" y="229.5" width="269.5" height="269.5" fill="#fff" stroke="#1a1a1a" stroke-width="1.35"/>
<line x1="312.50" y1="499.00" x2="312.50" y2="493.80" stroke="#1a1a1a" stroke-width="1.25" />
<line x1="322.50" y1="499.00" x2="322.50" y2="496.40" stroke="#1a1a1a" stroke-width="1.25" />
<line x1="332.50" y1="499.00" x2="332.50" y2="496.40" stroke="#1a1a1a" stroke-width="1.25" />
<line x1="342.50" y1="499.00" x2="342.50" y2="496.40" stroke="#1a1a1a" stroke-width="1.25" />
<line x1="352.50" y1="499.00" x2="352.50" y2="496.40" stroke="#1a1a1a" stroke-width="1.25" />
<line x1="362.50" y1="499.00" x2="362.50" y2="493.80" stroke="#1a1a1a" stroke-width="1.25" />
<line x1="372.50" y1="499.00" x2="372.50" y2="496.40" stroke="#1a1a1a" stroke-width="1.25" />
<line x1="382.50" y1="499.00" x2="382.50" y2="496.40" stroke="#1a1a1a" stroke-width="1.25" />
<line x1="392.50" y1="499.00" x2="392.50" y2="496.40" stroke="#1a1a1a" stroke-width="1.25" />
<line x1="402.50" y1="499.00" x2="402.50" y2="496.40" stroke="#1a1a1a" stroke-width="1.25" />
<line x1="412.50" y1="499.00" x2="412.50" y2="493.80" stroke="#1a1a1a" stroke-width="1.25" />
<line x1="422.50" y1="499.00" x2="422.50" y2="496.40" stroke="#1a1a1a" stroke-width="1.25" />
<line x1="432.50" y1="499.00" x2="432.50" y2="496.40" stroke="#1a1a1a" stroke-width="1.25" />
<line x1="442.50" y1="499.00" x2="442.50" y2="496.40" stroke="#1a1a1a" stroke-width="1.25" />
<line x1="452.50" y1="499.00" x2="452.50" y2="496.40" stroke="#1a1a1a" stroke-width="1.25" />
<line x1="462.50" y1="499.00" x2="462.50" y2="493.80" stroke="#1a1a1a" stroke-width="1.25" />
<line x1="472.50" y1="499.00" x2="472.50" y2="496.40" stroke="#1a1a1a" stroke-width="1.25" />
<line x1="482.50" y1="499.00" x2="482.50" y2="496.40" stroke="#1a1a1a" stroke-width="1.25" />
<line x1="492.50" y1="499.00" x2="492.50" y2="496.40" stroke="#1a1a1a" stroke-width="1.25" />
<line x1="502.50" y1="499.00" x2="502.50" y2="496.40" stroke="#1a1a1a" stroke-width="1.25" />
<line x1="512.50" y1="499.00" x2="512.50" y2="493.80" stroke="#1a1a1a" stroke-width="1.25" />
<line x1="522.50" y1="499.00" x2="522.50" y2="496.40" stroke="#1a1a1a" stroke-width="1.25" />
<line x1="532.50" y1="499.00" x2="532.50" y2="496.40" stroke="#1a1a1a" stroke-width="1.25" />
<line x1="542.50" y1="499.00" x2="542.50" y2="496.40" stroke="#1a1a1a" stroke-width="1.25" />
<line x1="552.50" y1="499.00" x2="552.50" y2="496.40" stroke="#1a1a1a" stroke-width="1.25" />
<line x1="562.50" y1="499.00" x2="562.50" y2="493.80" stroke="#1a1a1a" stroke-width="1.25" />
<line x1="302.50" y1="499.00" x2="307.70" y2="499.00" stroke="#1a1a1a" stroke-width="1.25" />
<line x1="302.50" y1="490.58" x2="305.10" y2="490.58" stroke="#1a1a1a" stroke-width="1.25" />
<line x1="302.50" y1="482.16" x2="305.10" y2="482.16" stroke="#1a1a1a" stroke-width="1.25" />
<line x1="302.50" y1="473.73" x2="305.10" y2="473.73" stroke="#1a1a1a" stroke-width="1.25" />
<line x1="302.50" y1="465.31" x2="307.70" y2="465.31" stroke="#1a1a1a" stroke-width="1.25" />
<line x1="302.50" y1="456.89" x2="305.10" y2="456.89" stroke="#1a1a1a" stroke-width="1.25" />
<line x1="302.50" y1="448.47" x2="305.10" y2="448.47" stroke="#1a1a1a" stroke-width="1.25" />
<line x1="302.50" y1="440.05" x2="305.10" y2="440.05" stroke="#1a1a1a" stroke-width="1.25" />
<line x1="302.50" y1="431.62" x2="307.70" y2="431.62" stroke="#1a1a1a" stroke-width="1.25" />
<line x1="302.50" y1="423.20" x2="305.10" y2="423.20" stroke="#1a1a1a" stroke-width="1.25" />
<line x1="302.50" y1="414.78" x2="305.10" y2="414.78" stroke="#1a1a1a" stroke-width="1.25" />
<line x1="302.50" y1="406.36" x2="305.10" y2="406.36" stroke="#1a1a1a" stroke-width="1.25" />
<line x1="302.50" y1="397.94" x2="307.70" y2="397.94" stroke="#1a1a1a" stroke-width="1.25" />
<line x1="302.50" y1="389.52" x2="305.10" y2="389.52" stroke="#1a1a1a" stroke-width="1.25" />
<line x1="302.50" y1="381.09" x2="305.10" y2="381.09" stroke="#1a1a1a" stroke-width="1.25" />
<line x1="302.50" y1="372.67" x2="305.10" y2="372.67" stroke="#1a1a1a" stroke-width="1.25" />
<line x1="302.50" y1="364.25" x2="307.70" y2="364.25" stroke="#1a1a1a" stroke-width="1.25" />
<line x1="302.50" y1="355.83" x2="305.10" y2="355.83" stroke="#1a1a1a" stroke-width="1.25" />
<line x1="302.50" y1="347.41" x2="305.10" y2="347.41" stroke="#1a1a1a" stroke-width="1.25" />
<line x1="302.50" y1="338.98" x2="305.10" y2="338.98" stroke="#1a1a1a" stroke-width="1.25" />
<line x1="302.50" y1="330.56" x2="307.70" y2="330.56" stroke="#1a1a1a" stroke-width="1.25" />
<line x1="302.50" y1="322.14" x2="305.10" y2="322.14" stroke="#1a1a1a" stroke-width="1.25" />
<line x1="302.50" y1="313.72" x2="305.10" y2="313.72" stroke="#1a1a1a" stroke-width="1.25" />
<line x1="302.50" y1="305.30" x2="305.10" y2="305.30" stroke="#1a1a1a" stroke-width="1.25" />
<line x1="302.50" y1="296.88" x2="307.70" y2="296.88" stroke="#1a1a1a" stroke-width="1.25" />
<line x1="302.50" y1="288.45" x2="305.10" y2="288.45" stroke="#1a1a1a" stroke-width="1.25" />
<line x1="302.50" y1="280.03" x2="305.10" y2="280.03" stroke="#1a1a1a" stroke-width="1.25" />
<line x1="302.50" y1="271.61" x2="305.10" y2="271.61" stroke="#1a1a1a" stroke-width="1.25" />
<line x1="302.50" y1="263.19" x2="307.70" y2="263.19" stroke="#1a1a1a" stroke-width="1.25" />
<line x1="302.50" y1="254.77" x2="305.10" y2="254.77" stroke="#1a1a1a" stroke-width="1.25" />
<line x1="302.50" y1="246.34" x2="305.10" y2="246.34" stroke="#1a1a1a" stroke-width="1.25" />
<line x1="302.50" y1="237.92" x2="305.10" y2="237.92" stroke="#1a1a1a" stroke-width="1.25" />
<text font-size="12.8" text-anchor="middle" transform="translate(312.50 514.80) scale(1 1.065)"  stroke-width="0.2">0</text>
<text font-size="12.8" text-anchor="middle" transform="translate(362.50 514.80) scale(1 1.065)"  stroke-width="0.2">100</text>
<text font-size="12.8" text-anchor="middle" transform="translate(412.50 514.80) scale(1 1.065)"  stroke-width="0.2">200</text>
<text font-size="12.8" text-anchor="middle" transform="translate(462.50 514.80) scale(1 1.065)"  stroke-width="0.2">300</text>
<text font-size="12.8" text-anchor="middle" transform="translate(512.50 514.80) scale(1 1.065)"  stroke-width="0.2">400</text>
<text font-size="12.8" text-anchor="middle" transform="translate(562.50 514.80) scale(1 1.065)"  stroke-width="0.2">500</text>
<text font-size="12.7" text-anchor="end" transform="translate(296.80 503.70) scale(1 1.065)"  stroke-width="0.2">0</text>
<text font-size="12.7" text-anchor="end" transform="translate(296.80 470.01) scale(1 1.065)"  stroke-width="0.2">20</text>
<text font-size="12.7" text-anchor="end" transform="translate(296.80 436.32) scale(1 1.065)"  stroke-width="0.2">40</text>
<text font-size="12.7" text-anchor="end" transform="translate(296.80 402.64) scale(1 1.065)"  stroke-width="0.2">60</text>
<text font-size="12.7" text-anchor="end" transform="translate(296.80 368.95) scale(1 1.065)"  stroke-width="0.2">80</text>
<text font-size="12.7" text-anchor="end" transform="translate(296.80 335.26) scale(1 1.065)"  stroke-width="0.2">100</text>
<text font-size="12.7" text-anchor="end" transform="translate(296.80 301.57) scale(1 1.065)"  stroke-width="0.2">120</text>
<text font-size="12.7" text-anchor="end" transform="translate(296.80 267.89) scale(1 1.065)"  stroke-width="0.2">140</text>
<text font-size="12.7" text-anchor="end" transform="translate(296.80 234.20) scale(1 1.065)"  stroke-width="0.2">160</text>
<text font-size="15.8" text-anchor="middle" transform="translate(437.30 541.00) scale(1 1.025)"  stroke-width="0.2">Current density (mA g<tspan font-size="10.6" dy="-7.6" dx="0.6">-1</tspan><tspan dy="7.6" font-size="1">&#8203;</tspan><tspan dx="0.8">)</tspan></text>
<text font-size="15.8" text-anchor="middle" transform="translate(266.00 363.00) rotate(-90) scale(1 1.025)"  stroke-width="0.2">Capacity (mAh g<tspan font-size="10.6" dy="-7.6" dx="0.6">-1</tspan><tspan dy="7.6" font-size="1">&#8203;</tspan><tspan dx="0.8">)</tspan></text>
<polyline points="315,242 317.5,266.25 322.5,299.5 332.5,309 362.5,335.25 412.25,367.5 562,381" fill="none" stroke="#444" stroke-width="1"/>
<rect x="312.4" y="239.4" width="5.2" height="5.2" fill="#555"/>
<rect x="314.9" y="263.65" width="5.2" height="5.2" fill="#555"/>
<rect x="319.9" y="296.9" width="5.2" height="5.2" fill="#555"/>
<rect x="329.9" y="306.4" width="5.2" height="5.2" fill="#555"/>
<rect x="359.9" y="332.65" width="5.2" height="5.2" fill="#555"/>
<rect x="409.65" y="364.9" width="5.2" height="5.2" fill="#555"/>
<rect x="559.4" y="378.4" width="5.2" height="5.2" fill="#555"/>
<path d="M784.5,316.5 L784.7,314.5 L784.8,312.6 L784.9,310.6 L785.0,308.6 L785.1,306.6 L785.2,304.5 L785.2,302.5 L785.3,300.5 L785.4,298.5 L785.4,296.4 L785.5,294.4 L785.6,292.3 L785.7,290.3 L785.8,288.2 L785.9,286.2 L786.1,284.1 L786.3,282.1 L786.5,280.0 L786.7,278.0 L787.0,275.9 L787.4,273.9 L787.7,271.8 L788.1,269.8 L788.6,267.8 L789.1,265.8 L789.6,263.8 L790.2,261.9 L790.9,259.9 L791.6,258.0 L792.4,256.2 L793.2,254.4 L794.1,252.6 L795.0,250.9 L796.0,249.2 L797.1,247.6 L798.2,246.0 L799.5,244.5 L800.7,243.1 L802.1,241.7 L803.5,240.5 L805.0,239.2 L806.6,238.1 L808.2,237.0 L809.9,235.9 L811.6,234.9 L813.4,234.0 L815.2,233.1 L817.0,232.3 L818.9,231.4 L820.8,230.7 L822.8,229.9 L824.7,229.2 L826.7,228.5 L828.7,227.8 L830.7,227.1 L832.6,226.4 L834.6,225.7 L836.6,225.1 L838.6,224.4 L840.5,223.7 L842.5,223.0 L844.4,222.3 L846.3,221.6 L848.2,221.0 L850.1,220.3 L852.0,219.6 L853.9,218.9 L855.8,218.2 L857.6,217.5 L859.5,216.9 L861.4,216.2 L863.3,215.5 L865.2,214.9 L867.0,214.3 L868.9,213.6 L870.8,213.0 L872.7,212.4 L874.6,211.8 L876.6,211.2 L878.5,210.7 L880.4,210.1 L882.4,209.6 L884.3,209.1 L886.3,208.6 L888.2,208.1 L890.2,207.6 L892.2,207.1 L894.2,206.6 L896.2,206.1 L898.1,205.6 L900.1,205.2 L902.1,204.7 L904.1,204.2 L906.1,203.7 L908.1,203.3 L910.1,202.8 L912.1,202.3 L914.1,201.8 L916.0,201.3 L918.0,200.8 L920.0,200.2 L922.0,199.7 L923.9,199.2 L925.9,198.6 L927.8,198.0 L929.8,197.4 L931.7,196.8 L933.7,196.2 L935.6,195.6 L937.5,194.9 L939.4,194.2 L941.3,193.5 L943.2,192.8 L945.0,192.0 L946.9,191.3 L948.7,190.5 L950.5,189.6 L952.3,188.8 L954.1,187.9 L955.9,186.9 L957.7,186.0 L959.4,185.0 L961.1,184.0 L962.8,183.0 L964.5,181.9 L966.2,180.8 L967.9,179.7 L969.5,178.5 L971.1,177.3 L972.7,176.1 L974.3,174.9 L975.8,173.6 L977.4,172.3 L978.9,170.9 L980.3,169.6 L981.8,168.2 L983.2,166.8 L984.7,165.3 L986.1,163.8 L987.5,162.3 L988.8,160.9 L990.2,159.4 L991.6,157.9 L993.0,156.4 L994.4,155.0 L995.9,153.6 L997.4,152.2 L998.9,150.8 L1000.4,149.6 L1002.0,148.3 L1003.6,147.2 L1005.3,146.1 L1007.1,145.0 L1008.9,144.1 L1010.8,143.3 L1012.8,142.5" fill="none" stroke="#3a1061" stroke-width="2.8" stroke-linejoin="round"/>
<path d="M784.5,222.0 L784.5,224.0 L784.6,226.0 L784.7,228.0 L784.7,230.1 L784.8,232.1 L784.9,234.1 L785.0,236.1 L785.1,238.1 L785.2,240.1 L785.3,242.1 L785.4,244.1 L785.5,246.1 L785.6,248.1 L785.7,250.1 L785.9,252.1 L786.0,254.1 L786.2,256.1 L786.3,258.1 L786.5,260.1 L786.6,262.2 L786.8,264.2 L786.9,266.2 L787.1,268.2 L787.3,270.2 L787.4,272.2 L787.6,274.2 L787.8,276.2 L788.0,278.2 L788.2,280.2 L788.4,282.2 L788.6,284.2 L788.8,286.2 L789.0,288.2 L789.2,290.2 L789.4,292.2 L789.6,294.2 L789.8,296.2 L790.0,298.2 L790.2,300.2 L790.5,302.2 L790.7,304.2 L790.9,306.2 L791.1,308.2 L791.3,310.2 L791.6,312.3 L791.8,314.3 L792.0,316.3 L792.3,318.3 L792.5,320.3 L792.7,322.3 L793.0,324.3 L793.2,326.3 L793.5,328.3 L793.7,330.3 L794.0,332.4 L794.2,334.4 L794.5,336.4 L794.7,338.4 L795.0,340.4 L795.3,342.4 L795.6,344.4 L795.9,346.4 L796.1,348.4 L796.4,350.4 L796.7,352.4 L797.1,354.4 L797.4,356.4 L797.7,358.4 L798.0,360.4 L798.4,362.4 L798.7,364.4 L799.1,366.4 L799.5,368.4 L799.8,370.4 L800.2,372.4 L800.6,374.3 L801.0,376.3 L801.4,378.3 L801.8,380.3 L802.3,382.2 L802.7,384.2 L803.2,386.2 L803.7,388.1 L804.1,390.1 L804.6,392.0 L805.1,394.0 L805.6,395.9 L806.2,397.9 L806.7,399.8 L807.3,401.7 L807.8,403.7 L808.4,405.6 L809.0,407.5 L809.6,409.4 L810.3,411.3 L810.9,413.2 L811.6,415.1 L812.2,417.0 L812.9,418.9 L813.6,420.8 L814.3,422.7 L815.0,424.6 L815.8,426.4 L816.5,428.3 L817.3,430.2 L818.1,432.0 L818.9,433.8 L819.7,435.7 L820.5,437.5 L821.4,439.3 L822.2,441.1 L823.1,442.9 L824.0,444.7 L824.9,446.5 L825.8,448.3 L826.7,450.1 L827.7,451.8 L828.6,453.6 L829.6,455.3 L830.6,457.1 L831.6,458.8 L832.7,460.5 L833.7,462.2 L834.8,463.9 L835.8,465.6 L836.9,467.3 L838.0,469.0 L839.1,470.6 L840.3,472.3 L841.4,473.9 L842.6,475.5 L843.8,477.2 L845.0,478.8 L846.2,480.4 L847.4,481.9 L848.7,483.5 L850.0,485.1 L851.2,486.6 L852.5,488.2 L853.9,489.7 L855.2,491.2 L856.5,492.7 L857.9,494.2 L859.3,495.7 L860.7,497.1 L862.1,498.6 L863.5,500.0 L864.9,501.5 L866.3,502.9 L867.8,504.3 L869.2,505.7 L870.7,507.1 L872.2,508.5 L873.7,509.9 L875.2,511.2 L876.7,512.6 L878.3,513.9 L879.8,515.2 L881.3,516.6 L882.9,517.9 L884.5,519.2 L886.0,520.4 L887.6,521.7 L889.2,523.0 L890.8,524.2 L892.4,525.5 L894.0,526.7 L895.6,527.9 L897.3,529.2 L898.9,530.4 L900.5,531.6 L902.2,532.7 L903.8,533.9 L905.5,535.1 L907.1,536.3 L908.8,537.4 L910.4,538.5 L912.1,539.7 L913.8,540.8 L915.4,541.9 L917.1,543.0" fill="none" stroke="#3a1061" stroke-width="2.8" stroke-linejoin="round"/>
<path d="M784.3,480.0 L784.4,478.0 L784.5,476.0 L784.6,474.0 L784.7,472.0 L784.8,470.0 L784.8,468.0 L784.9,466.0 L784.9,464.0 L785.0,461.9 L785.0,459.9 L785.0,457.9 L785.1,455.9 L785.1,453.8 L785.2,451.8 L785.2,449.8 L785.3,447.8 L785.4,445.8 L785.5,443.7 L785.6,441.7 L785.7,439.7 L785.8,437.7 L785.9,435.7 L786.1,433.7 L786.3,431.7 L786.5,429.7 L786.7,427.7 L787.0,425.7 L787.3,423.7 L787.6,421.8 L787.9,419.8 L788.3,417.8 L788.6,415.8 L789.0,413.9 L789.4,411.9 L789.9,410.0 L790.3,408.0 L790.8,406.1 L791.2,404.1 L791.7,402.2 L792.2,400.2 L792.8,398.3 L793.3,396.4 L793.8,394.4 L794.4,392.5 L794.9,390.6 L795.5,388.6 L796.0,386.7 L796.6,384.8 L797.2,382.9 L797.7,380.9 L798.3,379.0 L798.9,377.1 L799.5,375.2 L800.1,373.2 L800.7,371.3 L801.2,369.4 L801.8,367.5 L802.4,365.5 L803.0,363.6 L803.6,361.7 L804.2,359.8 L804.8,357.9 L805.4,355.9 L806.0,354.0 L806.7,352.1 L807.3,350.2 L807.9,348.3 L808.5,346.4 L809.2,344.5 L809.8,342.6 L810.5,340.7 L811.1,338.8 L811.8,336.9 L812.4,335.0 L813.1,333.1 L813.8,331.2 L814.5,329.3 L815.2,327.4 L815.9,325.5 L816.6,323.7 L817.3,321.8 L818.0,319.9 L818.7,318.0 L819.5,316.2 L820.2,314.3 L821.0,312.5 L821.7,310.6 L822.5,308.8 L823.3,306.9 L824.1,305.1 L824.9,303.3 L825.7,301.4 L826.5,299.6 L827.4,297.8 L828.2,296.0 L829.1,294.1 L829.9,292.3 L830.8,290.5 L831.7,288.7 L832.6,287.0 L833.5,285.2 L834.5,283.4 L835.4,281.6 L836.4,279.8 L837.4,278.1 L838.3,276.3 L839.3,274.6 L840.3,272.8 L841.4,271.1 L842.4,269.4 L843.4,267.7 L844.5,265.9 L845.6,264.2 L846.7,262.5 L847.7,260.8 L848.9,259.2 L850.0,257.5 L851.1,255.8 L852.3,254.2 L853.4,252.5 L854.6,250.9 L855.8,249.2 L857.0,247.6 L858.2,246.0 L859.4,244.4 L860.6,242.8 L861.9,241.2 L863.1,239.6 L864.4,238.1 L865.7,236.5 L867.0,235.0 L868.3,233.4 L869.6,231.9 L870.9,230.4 L872.3,228.9 L873.6,227.4 L875.0,225.9 L876.4,224.4 L877.8,223.0 L879.2,221.5 L880.6,220.1 L882.0,218.7 L883.4,217.3 L884.9,215.9 L886.3,214.5 L887.8,213.1 L889.3,211.7 L890.8,210.4 L892.3,209.0 L893.8,207.7 L895.3,206.4 L896.9,205.1 L898.4,203.8 L900.0,202.6 L901.6,201.3 L903.1,200.1 L904.7,198.9 L906.3,197.7 L908.0,196.5 L909.6,195.3 L911.2,194.1 L912.9,193.0 L914.6,191.9 L916.2,190.8 L917.9,189.7 L919.6,188.6 L921.3,187.6 L923.0,186.6 L924.8,185.6 L926.5,184.6 L928.3,183.6 L930.0,182.7 L931.8,181.8 L933.6,180.9 L935.4,180.1 L937.2,179.2 L939.0,178.4 L940.8,177.6 L942.7,176.9 L944.5,176.1 L946.4,175.4 L948.3,174.8 L950.1,174.1 L952.0,173.5 L953.9,172.9 L955.9,172.4 L957.8,171.8 L959.7,171.3 L961.7,170.9 L963.6,170.5 L965.6,170.1 L967.6,169.7 L969.5,169.4 L971.5,169.1 L973.6,168.8 L975.6,168.6 L977.6,168.4 L979.6,168.2 L981.7,168.1 L983.8,168.0 L985.8,168.0 L987.9,168.0 L990.0,168.0" fill="none" stroke="#432589" stroke-width="2.8" stroke-dasharray="15 3.6" stroke-linejoin="round"/>
<path d="M784.5,220.0 L784.5,222.0 L784.6,224.0 L784.6,225.9 L784.7,227.9 L784.8,229.9 L784.8,231.9 L784.9,233.9 L785.0,235.9 L785.1,237.8 L785.2,239.8 L785.3,241.8 L785.4,243.8 L785.6,245.8 L785.7,247.8 L785.8,249.8 L786.0,251.8 L786.1,253.8 L786.3,255.8 L786.4,257.8 L786.6,259.8 L786.8,261.8 L787.0,263.8 L787.2,265.8 L787.3,267.8 L787.6,269.8 L787.8,271.8 L788.0,273.8 L788.2,275.8 L788.5,277.8 L788.7,279.8 L789.0,281.8 L789.2,283.8 L789.5,285.8 L789.8,287.8 L790.0,289.9 L790.3,291.9 L790.6,293.9 L790.9,295.9 L791.2,297.9 L791.6,299.9 L791.9,301.9 L792.2,303.9 L792.6,305.9 L792.9,307.8 L793.3,309.8 L793.6,311.8 L794.0,313.8 L794.4,315.8 L794.8,317.8 L795.2,319.8 L795.6,321.8 L796.0,323.8 L796.4,325.8 L796.9,327.7 L797.3,329.7 L797.8,331.7 L798.2,333.7 L798.7,335.6 L799.2,337.6 L799.6,339.6 L800.1,341.5 L800.6,343.5 L801.1,345.5 L801.6,347.4 L802.2,349.4 L802.7,351.3 L803.2,353.3 L803.8,355.2 L804.4,357.2 L804.9,359.1 L805.5,361.1 L806.1,363.0 L806.7,364.9 L807.3,366.9 L807.9,368.8 L808.5,370.7 L809.1,372.6 L809.8,374.6 L810.4,376.5 L811.1,378.4 L811.7,380.3 L812.4,382.2 L813.1,384.1 L813.8,386.0 L814.5,387.9 L815.2,389.8 L815.9,391.6 L816.7,393.5 L817.4,395.4 L818.1,397.3 L818.9,399.1 L819.7,401.0 L820.4,402.8 L821.2,404.7 L822.0,406.5 L822.8,408.4 L823.6,410.2 L824.5,412.0 L825.3,413.9 L826.2,415.7 L827.0,417.5 L827.9,419.3 L828.7,421.1 L829.6,422.9 L830.5,424.7 L831.4,426.5 L832.3,428.3 L833.2,430.1 L834.2,431.8 L835.1,433.6 L836.1,435.3 L837.0,437.1 L838.0,438.8 L839.0,440.6 L840.0,442.3 L841.0,444.0 L842.0,445.8 L843.0,447.5 L844.0,449.2 L845.1,450.9 L846.1,452.6 L847.2,454.3 L848.3,455.9 L849.3,457.6 L850.4,459.3 L851.5,460.9 L852.6,462.6 L853.8,464.2 L854.9,465.9 L856.0,467.5 L857.2,469.1 L858.4,470.7 L859.5,472.3 L860.7,473.9 L861.9,475.5 L863.1,477.1 L864.3,478.7 L865.6,480.3 L866.8,481.8 L868.1,483.4 L869.3,484.9 L870.6,486.4 L871.9,488.0 L873.2,489.5 L874.5,491.0 L875.8,492.5 L877.1,494.0 L878.4,495.5 L879.8,496.9 L881.1,498.4 L882.5,499.8 L883.9,501.3 L885.3,502.7 L886.7,504.2 L888.1,505.6 L889.5,507.0 L890.9,508.4 L892.4,509.8 L893.8,511.1 L895.3,512.5 L896.8,513.9 L898.3,515.2 L899.8,516.6 L901.3,517.9 L902.8,519.2 L904.3,520.5 L905.9,521.8 L907.4,523.1 L909.0,524.4 L910.6,525.6 L912.2,526.9 L913.8,528.1 L915.4,529.4 L917.0,530.6 L918.6,531.8 L920.3,533.0 L921.9,534.2 L923.6,535.4 L925.3,536.6 L927.0,537.7 L928.7,538.9 L930.4,540.0 L932.1,541.1 L933.9,542.2 L935.6,543.3 L937.4,544.4" fill="none" stroke="#432589" stroke-width="2.8" stroke-dasharray="15 3.6" stroke-linejoin="round"/>
<path d="M784.2,500.0 L784.2,498.0 L784.2,495.9 L784.2,493.9 L784.2,491.9 L784.2,489.9 L784.3,487.8 L784.4,485.8 L784.5,483.8 L784.7,481.8 L784.8,479.8 L785.0,477.8 L785.2,475.8 L785.4,473.8 L785.6,471.8 L785.9,469.8 L786.2,467.8 L786.5,465.9 L786.8,463.9 L787.2,461.9 L787.5,459.9 L787.9,458.0 L788.3,456.0 L788.7,454.1 L789.1,452.1 L789.6,450.2 L790.1,448.2 L790.6,446.3 L791.1,444.3 L791.6,442.4 L792.1,440.5 L792.7,438.6 L793.2,436.6 L793.8,434.7 L794.4,432.8 L795.1,430.9 L795.7,429.0 L796.3,427.1 L797.0,425.2 L797.7,423.3 L798.4,421.4 L799.1,419.5 L799.8,417.6 L800.5,415.8 L801.3,413.9 L802.0,412.0 L802.8,410.2 L803.6,408.3 L804.4,406.4 L805.2,404.6 L806.0,402.8 L806.8,400.9 L807.7,399.1 L808.5,397.2 L809.4,395.4 L810.3,393.6 L811.1,391.8 L812.0,390.0 L812.9,388.1 L813.8,386.3 L814.8,384.5 L815.7,382.7 L816.6,380.9 L817.6,379.2 L818.5,377.4 L819.5,375.6 L820.5,373.8 L821.4,372.1 L822.4,370.3 L823.4,368.5 L824.4,366.8 L825.4,365.0 L826.4,363.3 L827.4,361.5 L828.5,359.8 L829.5,358.1 L830.5,356.3 L831.5,354.6 L832.6,352.9 L833.6,351.2 L834.7,349.5 L835.7,347.8 L836.8,346.1 L837.9,344.4 L839.0,342.7 L840.1,341.0 L841.2,339.4 L842.3,337.7 L843.4,336.1 L844.5,334.4 L845.7,332.8 L846.8,331.2 L848.0,329.6 L849.2,328.0 L850.4,326.4 L851.6,324.8 L852.9,323.2 L854.1,321.7 L855.4,320.1 L856.7,318.6 L858.0,317.1 L859.3,315.6 L860.6,314.0 L861.9,312.5 L863.3,311.0 L864.6,309.6 L866.0,308.1 L867.4,306.6 L868.8,305.1 L870.1,303.6 L871.5,302.2 L872.9,300.7 L874.3,299.2 L875.7,297.8 L877.1,296.3 L878.5,294.8 L879.9,293.4 L881.2,291.9 L882.6,290.4 L884.0,288.9 L885.4,287.5 L886.8,286.0 L888.1,284.5 L889.5,283.0 L890.9,281.5 L892.3,280.1 L893.6,278.6 L895.0,277.1 L896.4,275.7 L897.8,274.2 L899.1,272.7 L900.5,271.3 L901.9,269.8 L903.3,268.4 L904.7,267.0 L906.1,265.5 L907.5,264.1 L908.9,262.7 L910.3,261.3 L911.7,259.9 L913.2,258.5 L914.6,257.1 L916.1,255.8 L917.5,254.4 L919.0,253.1 L920.4,251.7 L921.9,250.4 L923.4,249.0 L924.9,247.7 L926.4,246.4 L927.9,245.1 L929.4,243.8 L930.9,242.5 L932.4,241.2 L934.0,239.9 L935.5,238.6 L937.1,237.3 L938.7,236.1 L940.3,234.8 L941.9,233.5 L943.5,232.3 L945.1,231.1 L946.7,229.8 L948.3,228.6 L950.0,227.4 L951.6,226.2 L953.3,225.0 L954.9,223.9 L956.6,222.7 L958.3,221.6 L960.0,220.5 L961.7,219.3 L963.4,218.3 L965.1,217.2 L966.9,216.1 L968.6,215.1 L970.4,214.0 L972.1,213.0 L973.9,212.0 L975.7,211.1 L977.4,210.1 L979.2,209.2 L981.0,208.3 L982.8,207.4 L984.6,206.5 L986.5,205.7 L988.3,204.8 L990.1,204.1 L992.0,203.3 L993.8,202.5 L995.7,201.8 L997.6,201.1 L999.4,200.4 L1001.3,199.8 L1003.2,199.2 L1005.1,198.6 L1007.0,198.0 L1008.9,197.5 L1010.9,197.0 L1012.8,196.5 L1014.7,196.0 L1016.6,195.6 L1018.6,195.1 L1020.5,194.7 L1022.5,194.3 L1024.5,194.0 L1026.4,193.6 L1028.4,193.3 L1030.4,193.0 L1032.3,192.7 L1034.3,192.4 L1036.3,192.1 L1038.3,191.8 L1040.3,191.6 L1042.3,191.4 L1044.3,191.1 L1046.3,190.9 L1048.3,190.7 L1050.3,190.5 L1052.3,190.3 L1054.3,190.2 L1056.3,190.0 L1058.3,189.8 L1060.3,189.7 L1062.3,189.5 L1064.3,189.3 L1066.3,189.2 L1068.4,189.0 L1070.4,188.9 L1072.4,188.7 L1074.4,188.6 L1076.4,188.4 L1078.4,188.3 L1080.4,188.1 L1082.4,188.0 L1084.4,187.8 L1086.5,187.7 L1088.5,187.5 L1090.5,187.3 L1092.5,187.2 L1094.5,187.0 L1096.5,186.9 L1098.5,186.7 L1100.5,186.5 L1102.5,186.4 L1104.5,186.2 L1106.5,186.0 L1108.5,185.9 L1110.5,185.7 L1112.5,185.5 L1114.5,185.4 L1116.5,185.2 L1118.5,185.0 L1120.5,184.9 L1122.5,184.7 L1124.5,184.5 L1126.5,184.3 L1128.5,184.2 L1130.6,184.0 L1132.6,183.8 L1134.6,183.7 L1136.6,183.5 L1138.6,183.3 L1140.6,183.2 L1142.6,183.0 L1144.6,182.8 L1146.6,182.6 L1148.6,182.5 L1150.6,182.3 L1152.6,182.1 L1154.6,182.0 L1156.6,181.8 L1158.6,181.6 L1160.6,181.5 L1162.6,181.3 L1164.6,181.1 L1166.6,181.0 L1168.6,180.8 L1170.6,180.6 L1172.6,180.5 L1174.6,180.3 L1176.6,180.2 L1178.6,180.0 L1180.6,179.8 L1182.6,179.7 L1184.6,179.5 L1186.6,179.4 L1188.6,179.2 L1190.6,179.1 L1192.6,178.9 L1194.6,178.8 L1196.6,178.6 L1198.6,178.5 L1200.6,178.3 L1202.6,178.2 L1204.6,178.0 L1206.6,177.9 L1208.6,177.8 L1210.6,177.6 L1212.7,177.5 L1214.7,177.4 L1216.7,177.2 L1218.7,177.1 L1220.7,177.0 L1222.7,176.9 L1224.7,176.7 L1226.7,176.6 L1228.8,176.5" fill="none" stroke="#3d4597" stroke-width="2.8" stroke-dasharray="12.3 3.5 2.3 3.5" stroke-linejoin="round"/>
<path d="M784.3,212.0 L784.3,214.0 L784.2,216.0 L784.2,218.1 L784.2,220.1 L784.2,222.1 L784.2,224.1 L784.2,226.1 L784.3,228.1 L784.3,230.2 L784.4,232.2 L784.5,234.2 L784.6,236.2 L784.7,238.2 L784.8,240.2 L785.0,242.2 L785.1,244.2 L785.3,246.2 L785.5,248.2 L785.6,250.2 L785.8,252.2 L786.1,254.2 L786.3,256.2 L786.5,258.2 L786.8,260.2 L787.0,262.2 L787.3,264.2 L787.6,266.2 L787.9,268.2 L788.2,270.2 L788.5,272.1 L788.9,274.1 L789.2,276.1 L789.6,278.1 L790.0,280.0 L790.4,282.0 L790.8,284.0 L791.2,285.9 L791.6,287.9 L792.0,289.9 L792.5,291.8 L792.9,293.8 L793.4,295.7 L793.9,297.7 L794.4,299.6 L794.9,301.6 L795.4,303.5 L795.9,305.5 L796.4,307.4 L797.0,309.3 L797.5,311.3 L798.1,313.2 L798.7,315.1 L799.3,317.0 L799.9,319.0 L800.5,320.9 L801.1,322.8 L801.7,324.7 L802.4,326.6 L803.1,328.5 L803.7,330.4 L804.4,332.3 L805.1,334.2 L805.8,336.1 L806.5,337.9 L807.2,339.8 L807.9,341.7 L808.7,343.6 L809.4,345.4 L810.2,347.3 L811.0,349.2 L811.7,351.0 L812.5,352.9 L813.3,354.7 L814.1,356.6 L815.0,358.4 L815.8,360.2 L816.6,362.1 L817.5,363.9 L818.3,365.7 L819.2,367.5 L820.1,369.4 L821.0,371.2 L821.9,373.0 L822.8,374.8 L823.7,376.6 L824.6,378.3 L825.5,380.1 L826.5,381.9 L827.4,383.7 L828.4,385.5 L829.4,387.2 L830.3,389.0 L831.3,390.7 L832.3,392.5 L833.3,394.2 L834.4,396.0 L835.4,397.7 L836.4,399.4 L837.4,401.2 L838.5,402.9 L839.6,404.6 L840.6,406.3 L841.7,408.0 L842.8,409.7 L843.9,411.4 L845.0,413.1 L846.1,414.8 L847.2,416.4 L848.3,418.1 L849.4,419.8 L850.6,421.4 L851.7,423.1 L852.9,424.7 L854.1,426.4 L855.2,428.0 L856.4,429.6 L857.6,431.2 L858.8,432.8 L860.0,434.4 L861.3,436.0 L862.5,437.6 L863.7,439.1 L865.0,440.7 L866.3,442.3 L867.5,443.8 L868.8,445.3 L870.1,446.8 L871.4,448.4 L872.8,449.9 L874.1,451.3 L875.5,452.8 L876.8,454.3 L878.2,455.7 L879.6,457.2 L881.0,458.6 L882.4,460.0 L883.8,461.4 L885.2,462.8 L886.7,464.2 L888.1,465.6 L889.6,467.0 L891.1,468.3 L892.6,469.7 L894.0,471.0 L895.5,472.3 L897.1,473.7 L898.6,475.0 L900.1,476.3 L901.6,477.6 L903.1,478.9 L904.7,480.2 L906.2,481.5 L907.8,482.8 L909.3,484.1 L910.9,485.4 L912.4,486.7 L914.0,487.9 L915.5,489.2 L917.1,490.5 L918.7,491.8 L920.2,493.1 L921.8,494.3 L923.3,495.6 L924.9,496.9 L926.4,498.2 L928.0,499.4 L929.6,500.7 L931.1,502.0 L932.7,503.3 L934.2,504.5 L935.8,505.8 L937.4,507.1 L938.9,508.3 L940.5,509.6 L942.1,510.8 L943.7,512.1 L945.3,513.3 L946.8,514.5 L948.4,515.8 L950.0,517.0 L951.6,518.2 L953.2,519.4 L954.8,520.6 L956.5,521.8 L958.1,522.9 L959.7,524.1 L961.3,525.3 L963.0,526.4 L964.6,527.6 L966.3,528.7 L967.9,529.8 L969.6,530.9 L971.3,532.0 L973.0,533.1 L974.7,534.1 L976.4,535.2 L978.1,536.2 L979.8,537.3 L981.5,538.3 L983.3,539.3 L985.0,540.2 L986.8,541.2 L988.5,542.2 L990.3,543.1 L992.1,544.0 L993.9,544.9 L995.7,545.8 L997.6,546.6 L999.4,547.5 L1001.3,548.3 L1003.1,549.1 L1005.0,549.9 L1006.9,550.7 L1008.8,551.4" fill="none" stroke="#3d4597" stroke-width="2.8" stroke-dasharray="12.3 3.5 2.3 3.5" stroke-linejoin="round"/>
<path d="M784.2,505.0 L784.3,503.0 L784.3,501.0 L784.3,499.0 L784.4,497.0 L784.5,495.0 L784.6,493.0 L784.7,491.0 L784.9,489.0 L785.0,487.0 L785.2,485.1 L785.4,483.1 L785.6,481.1 L785.8,479.1 L786.1,477.1 L786.3,475.1 L786.6,473.2 L786.9,471.2 L787.2,469.2 L787.6,467.2 L787.9,465.3 L788.3,463.3 L788.6,461.3 L789.0,459.4 L789.4,457.4 L789.9,455.5 L790.3,453.5 L790.7,451.6 L791.2,449.6 L791.7,447.7 L792.2,445.7 L792.7,443.8 L793.2,441.9 L793.8,439.9 L794.3,438.0 L794.9,436.1 L795.5,434.1 L796.1,432.2 L796.7,430.3 L797.3,428.4 L798.0,426.5 L798.6,424.6 L799.3,422.7 L800.0,420.8 L800.7,418.9 L801.4,417.0 L802.1,415.2 L802.8,413.3 L803.6,411.4 L804.4,409.5 L805.1,407.7 L805.9,405.8 L806.7,404.0 L807.5,402.1 L808.3,400.3 L809.2,398.4 L810.0,396.6 L810.9,394.8 L811.7,393.0 L812.6,391.1 L813.5,389.3 L814.4,387.5 L815.3,385.7 L816.2,383.9 L817.2,382.1 L818.1,380.4 L819.1,378.6 L820.0,376.8 L821.0,375.0 L822.0,373.3 L823.0,371.5 L824.0,369.8 L825.0,368.0 L826.0,366.3 L827.1,364.6 L828.1,362.9 L829.2,361.1 L830.2,359.4 L831.3,357.7 L832.4,356.0 L833.5,354.4 L834.6,352.7 L835.7,351.0 L836.8,349.3 L837.9,347.7 L839.0,346.0 L840.2,344.4 L841.3,342.8 L842.5,341.1 L843.6,339.5 L844.8,337.9 L846.0,336.3 L847.2,334.7 L848.4,333.1 L849.6,331.5 L850.8,329.9 L852.0,328.3 L853.2,326.7 L854.4,325.2 L855.7,323.6 L856.9,322.1 L858.1,320.5 L859.4,319.0 L860.7,317.4 L861.9,315.9 L863.2,314.3 L864.5,312.8 L865.7,311.3 L867.0,309.8 L868.3,308.2 L869.6,306.7 L870.9,305.2 L872.2,303.7 L873.5,302.2 L874.9,300.7 L876.2,299.2 L877.5,297.7 L878.9,296.2 L880.2,294.7 L881.5,293.3 L882.9,291.8 L884.2,290.3 L885.6,288.8 L886.9,287.3 L888.3,285.9 L889.7,284.4 L891.0,282.9 L892.4,281.5 L893.8,280.0 L895.2,278.5 L896.6,277.1 L897.9,275.6 L899.3,274.2 L900.7,272.7 L902.1,271.3 L903.6,269.8 L905.0,268.4 L906.4,267.0 L907.8,265.6 L909.3,264.2 L910.7,262.7 L912.1,261.3 L913.6,259.9 L915.0,258.6 L916.5,257.2 L918.0,255.8 L919.5,254.4 L920.9,253.1 L922.4,251.7 L923.9,250.4 L925.4,249.1 L927.0,247.8 L928.5,246.5 L930.0,245.2 L931.5,243.9 L933.1,242.6 L934.7,241.3 L936.2,240.1 L937.8,238.9 L939.4,237.6 L941.0,236.4 L942.6,235.2 L944.2,234.0 L945.8,232.9 L947.4,231.7 L949.1,230.6 L950.7,229.5 L952.4,228.3 L954.1,227.3 L955.7,226.2 L957.4,225.1 L959.1,224.0 L960.8,223.0 L962.5,221.9 L964.2,220.9 L965.9,219.8 L967.6,218.7 L969.3,217.7 L971.0,216.6 L972.7,215.6 L974.4,214.5 L976.1,213.4 L977.8,212.3 L979.4,211.2 L981.1,210.1 L982.7,208.9 L984.4,207.7 L986.0,206.6 L987.6,205.4 L989.2,204.1 L990.8,202.9 L992.3,201.6 L993.9,200.4 L995.5,199.1 L997.0,197.8 L998.6,196.5 L1000.1,195.2 L1001.7,193.9 L1003.2,192.6 L1004.8,191.3 L1006.3,190.0 L1007.8,188.7 L1009.4,187.4 L1011.0,186.1 L1012.5,184.9 L1014.1,183.6 L1015.7,182.4 L1017.3,181.2 L1018.9,180.0 L1020.5,178.8 L1022.1,177.6 L1023.8,176.5 L1025.4,175.4 L1027.1,174.3 L1028.8,173.2 L1030.5,172.2 L1032.2,171.1 L1033.9,170.1 L1035.7,169.1 L1037.4,168.2 L1039.1,167.2 L1040.9,166.3 L1042.7,165.4 L1044.5,164.5 L1046.3,163.6 L1048.1,162.7 L1049.9,161.9 L1051.7,161.0 L1053.5,160.2 L1055.3,159.4 L1057.2,158.7 L1059.0,157.9 L1060.9,157.1 L1062.8,156.4 L1064.6,155.7 L1066.5,155.0 L1068.4,154.3 L1070.3,153.6 L1072.2,152.9 L1074.1,152.3 L1076.0,151.6 L1077.9,151.0 L1079.8,150.4 L1081.7,149.8 L1083.6,149.2 L1085.5,148.6 L1087.5,148.0 L1089.4,147.5 L1091.3,146.9 L1093.3,146.4 L1095.2,145.8 L1097.1,145.3 L1099.1,144.8 L1101.0,144.3 L1103.0,143.8 L1104.9,143.3 L1106.9,142.8 L1108.8,142.4 L1110.8,141.9 L1112.7,141.5 L1114.7,141.0 L1116.6,140.6 L1118.6,140.1 L1120.5,139.7 L1122.5,139.3 L1124.5,138.9 L1126.4,138.5 L1128.4,138.1 L1130.4,137.7 L1132.3,137.4 L1134.3,137.0 L1136.3,136.6 L1138.3,136.3 L1140.2,135.9 L1142.2,135.6 L1144.2,135.2 L1146.2,134.9 L1148.1,134.6 L1150.1,134.2 L1152.1,133.9 L1154.1,133.6 L1156.1,133.3 L1158.1,133.0 L1160.1,132.7 L1162.0,132.4 L1164.0,132.1 L1166.0,131.9 L1168.0,131.6 L1170.0,131.3 L1172.0,131.0 L1174.0,130.8 L1176.0,130.5 L1178.0,130.3 L1180.0,130.0 L1182.0,129.8 L1183.9,129.5 L1185.9,129.3 L1187.9,129.0 L1189.9,128.8 L1191.9,128.6 L1193.9,128.3 L1195.9,128.1 L1197.9,127.9 L1199.9,127.7 L1201.9,127.4 L1203.9,127.2 L1205.9,127.0 L1207.9,126.8 L1209.9,126.6 L1211.9,126.4 L1213.9,126.2 L1215.9,125.9 L1217.9,125.7 L1219.9,125.5 L1221.9,125.3 L1223.9,125.1 L1225.9,124.9 L1227.9,124.7 L1229.9,124.5 L1231.9,124.3 L1233.8,124.1 L1235.8,123.9 L1237.8,123.7 L1239.8,123.5 L1241.8,123.3 L1243.8,123.1 L1245.8,122.8 L1247.8,122.6 L1249.8,122.4 L1251.8,122.2 L1253.7,122.0" fill="none" stroke="#376e99" stroke-width="2.8" stroke-dasharray="9.5 3.5 2.3 3.5 2.3 3.5" stroke-linejoin="round"/>
<path d="M784.3,210.0 L784.3,212.0 L784.2,214.0 L784.2,216.0 L784.2,218.1 L784.2,220.1 L784.3,222.1 L784.3,224.1 L784.4,226.1 L784.4,228.1 L784.5,230.1 L784.6,232.1 L784.7,234.1 L784.8,236.2 L785.0,238.2 L785.1,240.2 L785.3,242.2 L785.4,244.2 L785.6,246.2 L785.8,248.2 L786.0,250.2 L786.3,252.2 L786.5,254.2 L786.7,256.2 L787.0,258.2 L787.3,260.2 L787.5,262.1 L787.8,264.1 L788.1,266.1 L788.5,268.1 L788.8,270.1 L789.1,272.1 L789.5,274.0 L789.8,276.0 L790.2,278.0 L790.6,280.0 L791.0,281.9 L791.4,283.9 L791.9,285.9 L792.3,287.8 L792.7,289.8 L793.2,291.8 L793.7,293.7 L794.2,295.7 L794.6,297.6 L795.1,299.6 L795.7,301.5 L796.2,303.5 L796.7,305.4 L797.3,307.3 L797.8,309.3 L798.4,311.2 L799.0,313.1 L799.6,315.1 L800.2,317.0 L800.8,318.9 L801.4,320.8 L802.1,322.7 L802.7,324.6 L803.4,326.5 L804.0,328.4 L804.7,330.3 L805.4,332.2 L806.1,334.1 L806.8,336.0 L807.5,337.9 L808.3,339.8 L809.0,341.6 L809.8,343.5 L810.5,345.4 L811.3,347.2 L812.1,349.1 L812.9,350.9 L813.7,352.8 L814.5,354.6 L815.3,356.5 L816.2,358.3 L817.0,360.2 L817.8,362.0 L818.7,363.8 L819.6,365.6 L820.5,367.4 L821.3,369.2 L822.2,371.0 L823.2,372.8 L824.1,374.6 L825.0,376.4 L825.9,378.2 L826.9,380.0 L827.8,381.8 L828.8,383.5 L829.8,385.3 L830.8,387.1 L831.8,388.8 L832.8,390.6 L833.8,392.3 L834.8,394.0 L835.8,395.8 L836.9,397.5 L837.9,399.2 L839.0,400.9 L840.0,402.6 L841.1,404.3 L842.2,406.0 L843.3,407.7 L844.4,409.4 L845.5,411.1 L846.6,412.8 L847.7,414.4 L848.8,416.1 L850.0,417.7 L851.1,419.4 L852.3,421.0 L853.4,422.7 L854.6,424.3 L855.8,425.9 L857.0,427.5 L858.2,429.1 L859.4,430.7 L860.6,432.3 L861.8,433.9 L863.0,435.5 L864.3,437.1 L865.5,438.7 L866.8,440.2 L868.0,441.8 L869.3,443.3 L870.6,444.9 L871.9,446.4 L873.2,447.9 L874.5,449.5 L875.8,451.0 L877.1,452.5 L878.4,454.0 L879.8,455.5 L881.1,457.0 L882.5,458.5 L883.8,459.9 L885.2,461.4 L886.6,462.9 L888.0,464.3 L889.4,465.8 L890.8,467.2 L892.2,468.7 L893.6,470.1 L895.0,471.5 L896.4,472.9 L897.8,474.3 L899.3,475.8 L900.7,477.2 L902.2,478.5 L903.6,479.9 L905.1,481.3 L906.6,482.7 L908.1,484.1 L909.5,485.4 L911.0,486.8 L912.5,488.1 L914.0,489.5 L915.5,490.8 L917.1,492.2 L918.6,493.5 L920.1,494.8 L921.6,496.1 L923.2,497.4 L924.7,498.7 L926.2,500.0 L927.8,501.3 L929.3,502.6 L930.9,503.9 L932.5,505.2 L934.0,506.4 L935.6,507.7 L937.2,508.9 L938.8,510.2 L940.4,511.4 L942.0,512.6 L943.6,513.8 L945.2,515.0 L946.8,516.2 L948.5,517.4 L950.1,518.6 L951.7,519.8 L953.4,520.9 L955.0,522.1 L956.7,523.2 L958.4,524.3 L960.0,525.4 L961.7,526.5 L963.4,527.6 L965.1,528.7 L966.8,529.8 L968.5,530.8 L970.2,531.9 L971.9,532.9 L973.6,533.9 L975.4,535.0 L977.1,535.9 L978.9,536.9 L980.6,537.9 L982.4,538.9 L984.2,539.8 L985.9,540.7 L987.7,541.6 L989.5,542.5 L991.3,543.4 L993.1,544.3 L994.9,545.2 L996.8,546.0 L998.6,546.8 L1000.4,547.7 L1002.3,548.5 L1004.1,549.2 L1006.0,550.0" fill="none" stroke="#376e99" stroke-width="2.8" stroke-dasharray="9.5 3.5 2.3 3.5 2.3 3.5" stroke-linejoin="round"/>
<path d="M784.3,512.0 L784.1,510.0 L784.0,507.9 L783.8,505.9 L783.7,503.9 L783.7,501.8 L783.6,499.8 L783.6,497.8 L783.5,495.8 L783.5,493.8 L783.6,491.7 L783.6,489.7 L783.7,487.7 L783.7,485.7 L783.8,483.7 L783.9,481.7 L784.0,479.7 L784.2,477.7 L784.3,475.7 L784.5,473.7 L784.7,471.7 L784.9,469.7 L785.1,467.7 L785.4,465.7 L785.6,463.7 L785.9,461.8 L786.2,459.8 L786.5,457.8 L786.8,455.8 L787.2,453.8 L787.5,451.9 L787.9,449.9 L788.3,447.9 L788.7,446.0 L789.1,444.0 L789.5,442.1 L789.9,440.1 L790.4,438.2 L790.9,436.2 L791.3,434.3 L791.8,432.3 L792.3,430.4 L792.8,428.5 L793.4,426.5 L793.9,424.6 L794.5,422.7 L795.0,420.7 L795.6,418.8 L796.2,416.9 L796.8,415.0 L797.4,413.1 L798.0,411.2 L798.7,409.3 L799.3,407.4 L800.0,405.5 L800.7,403.6 L801.3,401.7 L802.0,399.8 L802.7,397.9 L803.4,396.0 L804.2,394.2 L804.9,392.3 L805.6,390.4 L806.4,388.5 L807.1,386.7 L807.9,384.8 L808.7,383.0 L809.4,381.1 L810.2,379.3 L811.0,377.4 L811.8,375.6 L812.6,373.8 L813.5,371.9 L814.3,370.1 L815.1,368.3 L816.0,366.4 L816.8,364.6 L817.7,362.8 L818.5,361.0 L819.4,359.2 L820.3,357.4 L821.2,355.6 L822.1,353.8 L823.0,352.0 L823.9,350.2 L824.8,348.4 L825.7,346.6 L826.7,344.9 L827.6,343.1 L828.6,341.3 L829.5,339.6 L830.5,337.8 L831.4,336.0 L832.4,334.3 L833.4,332.5 L834.4,330.8 L835.4,329.0 L836.4,327.3 L837.4,325.5 L838.4,323.8 L839.4,322.0 L840.4,320.3 L841.4,318.6 L842.4,316.9 L843.5,315.1 L844.5,313.4 L845.6,311.7 L846.6,310.0 L847.7,308.3 L848.7,306.6 L849.8,304.9 L850.9,303.2 L852.0,301.5 L853.0,299.8 L854.1,298.1 L855.2,296.4 L856.3,294.7 L857.4,293.0 L858.5,291.3 L859.6,289.7 L860.7,288.0 L861.8,286.3 L863.0,284.6 L864.1,283.0 L865.2,281.3 L866.3,279.6 L867.5,278.0 L868.6,276.3 L869.8,274.7 L870.9,273.0 L872.1,271.4 L873.2,269.7 L874.4,268.1 L875.5,266.5 L876.7,264.8 L877.9,263.2 L879.0,261.6 L880.2,259.9 L881.4,258.3 L882.6,256.7 L883.7,255.1 L884.9,253.4 L886.1,251.8 L887.3,250.2 L888.5,248.6 L889.7,247.0 L890.9,245.4 L892.1,243.8 L893.3,242.2 L894.5,240.6 L895.7,239.0 L896.9,237.4 L898.2,235.8 L899.4,234.2 L900.6,232.6 L901.8,231.0 L903.1,229.4 L904.3,227.9 L905.5,226.3 L906.8,224.7 L908.0,223.1 L909.3,221.6 L910.5,220.0 L911.8,218.4 L913.0,216.9 L914.3,215.3 L915.5,213.7 L916.8,212.2 L918.1,210.6 L919.3,209.1 L920.6,207.5 L921.9,206.0 L923.1,204.4 L924.4,202.9 L925.7,201.3 L927.0,199.8 L928.3,198.2 L929.6,196.7 L930.9,195.2 L932.2,193.6 L933.5,192.1 L934.8,190.6 L936.1,189.0 L937.4,187.5 L938.7,186.0 L940.0,184.4 L941.3,182.9 L942.6,181.4 L943.9,179.9 L945.3,178.4 L946.6,176.9 L947.9,175.3 L949.2,173.8 L950.6,172.3 L951.9,170.8 L953.2,169.3 L954.6,167.8 L955.9,166.3 L957.3,164.8 L958.6,163.3 L960.0,161.8 L961.3,160.3 L962.7,158.8 L964.0,157.3 L965.4,155.8 L966.8,154.4 L968.2,152.9 L969.5,151.4 L970.9,150.0 L972.3,148.5 L973.7,147.1 L975.2,145.7 L976.6,144.3 L978.0,142.9 L979.5,141.5 L980.9,140.1 L982.4,138.8 L983.9,137.4 L985.3,136.1 L986.8,134.8 L988.4,133.5 L989.9,132.2 L991.4,131.0 L993.0,129.7 L994.6,128.5 L996.1,127.3 L997.8,126.2 L999.4,125.0 L1001.0,123.9 L1002.7,122.8 L1004.3,121.8 L1006.0,120.7 L1007.7,119.7 L1009.5,118.7 L1011.2,117.8 L1013.0,116.8 L1014.8,115.9 L1016.6,115.1 L1018.4,114.2 L1020.2,113.4 L1022.1,112.6 L1023.9,111.8 L1025.8,111.1 L1027.7,110.3 L1029.6,109.6 L1031.5,108.9 L1033.4,108.3 L1035.3,107.6 L1037.2,107.0 L1039.2,106.4 L1041.1,105.8 L1043.1,105.2 L1045.0,104.7 L1047.0,104.2 L1049.0,103.7 L1050.9,103.2 L1052.9,102.7 L1054.9,102.2 L1056.8,101.8 L1058.8,101.4 L1060.8,101.0 L1062.8,100.6 L1064.7,100.2 L1066.7,99.8" fill="none" stroke="#2f8b8d" stroke-width="2.8" stroke-dasharray="7.4 2.8 2.6 2.8 2.6 2.8 2.6 2.8" stroke-linejoin="round"/>
<path d="M784.3,205.0 L784.2,207.0 L784.2,209.1 L784.2,211.1 L784.2,213.2 L784.2,215.2 L784.2,217.3 L784.2,219.3 L784.2,221.3 L784.3,223.4 L784.4,225.4 L784.5,227.4 L784.6,229.4 L784.7,231.5 L784.8,233.5 L785.0,235.5 L785.1,237.5 L785.3,239.5 L785.5,241.5 L785.7,243.5 L785.9,245.5 L786.1,247.5 L786.4,249.5 L786.6,251.5 L786.9,253.5 L787.2,255.5 L787.5,257.5 L787.8,259.5 L788.1,261.5 L788.4,263.4 L788.8,265.4 L789.1,267.4 L789.5,269.4 L789.9,271.3 L790.3,273.3 L790.7,275.2 L791.1,277.2 L791.5,279.2 L792.0,281.1 L792.4,283.1 L792.9,285.0 L793.4,287.0 L793.9,288.9 L794.4,290.8 L794.9,292.8 L795.4,294.7 L795.9,296.7 L796.5,298.6 L797.0,300.5 L797.6,302.4 L798.2,304.3 L798.8,306.3 L799.4,308.2 L800.0,310.1 L800.6,312.0 L801.2,313.9 L801.9,315.8 L802.5,317.7 L803.2,319.6 L803.9,321.5 L804.6,323.4 L805.3,325.3 L806.0,327.2 L806.7,329.0 L807.4,330.9 L808.1,332.8 L808.9,334.7 L809.6,336.5 L810.4,338.4 L811.1,340.3 L811.9,342.1 L812.7,344.0 L813.5,345.8 L814.3,347.7 L815.1,349.5 L815.9,351.4 L816.7,353.2 L817.6,355.1 L818.4,356.9 L819.3,358.7 L820.1,360.5 L821.0,362.4 L821.9,364.2 L822.7,366.0 L823.6,367.8 L824.5,369.6 L825.4,371.5 L826.3,373.3 L827.3,375.1 L828.2,376.9 L829.1,378.7 L830.1,380.4 L831.0,382.2 L831.9,384.0 L832.9,385.8 L833.9,387.6 L834.8,389.4 L835.8,391.1 L836.8,392.9 L837.8,394.7 L838.8,396.4 L839.8,398.2 L840.8,399.9 L841.8,401.7 L842.8,403.4 L843.9,405.2 L844.9,406.9 L845.9,408.7 L847.0,410.4 L848.0,412.1 L849.1,413.9 L850.1,415.6 L851.2,417.3 L852.3,419.0 L853.4,420.7 L854.4,422.4 L855.5,424.1 L856.6,425.8 L857.7,427.5 L858.8,429.2 L859.9,430.9 L861.1,432.6 L862.2,434.3 L863.3,435.9 L864.5,437.6 L865.6,439.3 L866.8,440.9 L867.9,442.6 L869.1,444.2 L870.2,445.9 L871.4,447.5 L872.6,449.1 L873.8,450.8 L875.0,452.4 L876.2,454.0 L877.4,455.6 L878.6,457.2 L879.8,458.8 L881.1,460.4 L882.3,462.0 L883.5,463.6 L884.8,465.2 L886.1,466.7 L887.3,468.3 L888.6,469.8 L889.9,471.4 L891.1,472.9 L892.4,474.5 L893.7,476.0 L895.0,477.5 L896.4,479.1 L897.7,480.6 L899.0,482.1 L900.3,483.6 L901.7,485.1 L903.0,486.6 L904.4,488.0 L905.7,489.5 L907.1,491.0 L908.5,492.4 L909.9,493.9 L911.3,495.3 L912.7,496.8 L914.1,498.2 L915.5,499.6 L916.9,501.0 L918.4,502.4 L919.8,503.8 L921.2,505.2 L922.7,506.6 L924.2,508.0 L925.6,509.3 L927.1,510.7 L928.6,512.0 L930.1,513.4 L931.6,514.7 L933.1,516.0 L934.6,517.4 L936.2,518.7 L937.7,520.0 L939.2,521.2 L940.8,522.5 L942.3,523.8 L943.9,525.1 L945.5,526.3 L947.1,527.6 L948.6,528.8 L950.2,530.0 L951.8,531.2 L953.4,532.5 L955.1,533.7 L956.7,534.9 L958.3,536.0 L960.0,537.2 L961.6,538.4 L963.3,539.5 L964.9,540.7 L966.6,541.8 L968.3,543.0 L969.9,544.1 L971.6,545.2 L973.3,546.3 L975.0,547.4 L976.7,548.5 L978.4,549.6 L980.1,550.7 L981.9,551.7 L983.6,552.8" fill="none" stroke="#2f8b8d" stroke-width="2.8" stroke-dasharray="7.4 2.8 2.6 2.8 2.6 2.8 2.6 2.8" stroke-linejoin="round"/>
<path d="M784.3,518.0 L784.1,516.0 L784.0,513.9 L783.9,511.9 L783.8,509.9 L783.7,507.8 L783.6,505.8 L783.6,503.8 L783.6,501.8 L783.5,499.8 L783.5,497.7 L783.6,495.7 L783.6,493.7 L783.7,491.7 L783.7,489.7 L783.8,487.7 L783.9,485.7 L784.0,483.7 L784.2,481.7 L784.3,479.7 L784.5,477.7 L784.6,475.7 L784.8,473.7 L785.0,471.7 L785.2,469.7 L785.5,467.7 L785.7,465.7 L786.0,463.7 L786.2,461.7 L786.5,459.8 L786.8,457.8 L787.1,455.8 L787.4,453.8 L787.8,451.8 L788.1,449.9 L788.5,447.9 L788.8,445.9 L789.2,444.0 L789.6,442.0 L790.0,440.0 L790.4,438.1 L790.8,436.1 L791.3,434.2 L791.7,432.2 L792.2,430.3 L792.6,428.3 L793.1,426.4 L793.6,424.4 L794.1,422.5 L794.6,420.5 L795.1,418.6 L795.6,416.6 L796.2,414.7 L796.7,412.8 L797.2,410.8 L797.8,408.9 L798.4,407.0 L798.9,405.0 L799.5,403.1 L800.1,401.2 L800.7,399.3 L801.3,397.4 L801.9,395.4 L802.5,393.5 L803.1,391.6 L803.8,389.7 L804.4,387.8 L805.0,385.9 L805.7,384.0 L806.3,382.1 L807.0,380.2 L807.7,378.3 L808.3,376.4 L809.0,374.5 L809.7,372.6 L810.4,370.7 L811.1,368.8 L811.8,366.9 L812.5,365.0 L813.2,363.2 L813.9,361.3 L814.7,359.4 L815.4,357.5 L816.1,355.7 L816.9,353.8 L817.6,351.9 L818.4,350.1 L819.1,348.2 L819.9,346.3 L820.7,344.5 L821.4,342.6 L822.2,340.8 L823.0,338.9 L823.8,337.1 L824.6,335.2 L825.4,333.4 L826.2,331.5 L827.0,329.7 L827.8,327.9 L828.7,326.0 L829.5,324.2 L830.3,322.4 L831.2,320.5 L832.0,318.7 L832.9,316.9 L833.7,315.1 L834.6,313.3 L835.5,311.5 L836.3,309.7 L837.2,307.8 L838.1,306.0 L839.0,304.2 L839.9,302.4 L840.8,300.6 L841.7,298.9 L842.6,297.1 L843.5,295.3 L844.5,293.5 L845.4,291.7 L846.3,289.9 L847.3,288.2 L848.2,286.4 L849.1,284.6 L850.1,282.8 L851.1,281.1 L852.0,279.3 L853.0,277.6 L854.0,275.8 L854.9,274.0 L855.9,272.3 L856.9,270.6 L857.9,268.8 L858.9,267.1 L859.9,265.3 L860.9,263.6 L861.9,261.9 L863.0,260.1 L864.0,258.4 L865.0,256.7 L866.0,255.0 L867.1,253.2 L868.1,251.5 L869.2,249.8 L870.2,248.1 L871.3,246.4 L872.3,244.7 L873.4,243.0 L874.4,241.3 L875.5,239.6 L876.6,237.9 L877.7,236.2 L878.7,234.5 L879.8,232.8 L880.9,231.2 L882.0,229.5 L883.1,227.8 L884.2,226.1 L885.3,224.4 L886.4,222.8 L887.5,221.1 L888.7,219.4 L889.8,217.8 L890.9,216.1 L892.0,214.4 L893.1,212.8 L894.3,211.1 L895.4,209.5 L896.6,207.8 L897.7,206.1 L898.8,204.5 L900.0,202.8 L901.1,201.2 L902.3,199.5 L903.4,197.9 L904.6,196.2 L905.8,194.6 L906.9,193.0 L908.1,191.3 L909.3,189.7 L910.4,188.0 L911.6,186.4 L912.8,184.8 L913.9,183.1 L915.1,181.5 L916.3,179.9 L917.5,178.2 L918.7,176.6 L919.9,175.0 L921.1,173.4 L922.2,171.7 L923.4,170.1 L924.6,168.5 L925.8,166.9 L927.0,165.2 L928.2,163.6 L929.4,162.0 L930.6,160.4 L931.8,158.7 L933.0,157.1 L934.2,155.5 L935.5,153.9 L936.7,152.3 L937.9,150.7 L939.1,149.1 L940.3,147.5 L941.6,145.9 L942.8,144.3 L944.1,142.7 L945.3,141.2 L946.6,139.6 L947.9,138.1 L949.2,136.5 L950.5,135.0 L951.8,133.5 L953.1,132.0 L954.5,130.6 L955.8,129.1 L957.2,127.7 L958.6,126.2 L960.0,124.8 L961.4,123.5 L962.8,122.1 L964.3,120.8 L965.8,119.5 L967.3,118.2 L968.8,116.9 L970.4,115.7 L971.9,114.5 L973.5,113.3 L975.1,112.2 L976.8,111.1 L978.5,110.0 L980.2,108.9 L981.9,107.9 L983.6,106.9 L985.4,105.9 L987.2,105.0 L989.0,104.1 L990.8,103.2 L992.6,102.3 L994.5,101.5 L996.4,100.6 L998.2,99.8 L1000.1,99.1 L1002.0,98.3 L1003.9,97.6 L1005.9,96.9 L1007.8,96.2 L1009.7,95.5 L1011.7,94.8 L1013.6,94.1 L1015.5,93.5 L1017.5,92.9 L1019.4,92.3 L1021.4,91.7 L1023.3,91.1 L1025.2,90.5 L1027.1,89.9 L1029.1,89.3 L1031.0,88.8 L1032.8,88.2 L1034.7,87.7 L1036.6,87.1" fill="none" stroke="#33a488" stroke-width="2.8" stroke-dasharray="5 2.6 2.6 2.8 2.6 2.8 2.6 2.8" stroke-linejoin="round"/>
<path d="M784.3,198.0 L784.2,200.1 L784.1,202.1 L784.1,204.2 L784.0,206.3 L784.0,208.3 L784.0,210.4 L784.0,212.4 L784.0,214.5 L784.1,216.5 L784.2,218.5 L784.2,220.6 L784.3,222.6 L784.5,224.6 L784.6,226.6 L784.7,228.7 L784.9,230.7 L785.1,232.7 L785.3,234.7 L785.5,236.7 L785.7,238.7 L786.0,240.7 L786.2,242.7 L786.5,244.7 L786.8,246.6 L787.1,248.6 L787.4,250.6 L787.8,252.6 L788.1,254.5 L788.5,256.5 L788.9,258.5 L789.3,260.4 L789.7,262.4 L790.1,264.3 L790.5,266.3 L791.0,268.2 L791.4,270.2 L791.9,272.1 L792.4,274.1 L792.9,276.0 L793.4,277.9 L793.9,279.9 L794.5,281.8 L795.0,283.7 L795.6,285.6 L796.1,287.5 L796.7,289.4 L797.3,291.4 L797.9,293.3 L798.5,295.2 L799.2,297.1 L799.8,299.0 L800.4,300.9 L801.1,302.8 L801.8,304.6 L802.4,306.5 L803.1,308.4 L803.8,310.3 L804.5,312.2 L805.2,314.1 L806.0,315.9 L806.7,317.8 L807.4,319.7 L808.2,321.5 L808.9,323.4 L809.7,325.3 L810.5,327.1 L811.3,329.0 L812.1,330.8 L812.9,332.7 L813.7,334.6 L814.5,336.4 L815.3,338.2 L816.1,340.1 L816.9,341.9 L817.8,343.8 L818.6,345.6 L819.5,347.4 L820.3,349.3 L821.2,351.1 L822.1,352.9 L822.9,354.8 L823.8,356.6 L824.7,358.4 L825.6,360.2 L826.5,362.1 L827.4,363.9 L828.3,365.7 L829.2,367.5 L830.1,369.3 L831.0,371.1 L831.9,373.0 L832.9,374.8 L833.8,376.6 L834.7,378.4 L835.6,380.2 L836.6,382.0 L837.5,383.8 L838.5,385.6 L839.4,387.4 L840.3,389.2 L841.3,391.0 L842.2,392.8 L843.2,394.6 L844.1,396.3 L845.1,398.1 L846.1,399.9 L847.0,401.7 L848.0,403.5 L848.9,405.3 L849.9,407.1 L850.9,408.8 L851.8,410.6 L852.8,412.4 L853.8,414.2 L854.8,415.9 L855.7,417.7 L856.7,419.5 L857.7,421.2 L858.7,423.0 L859.7,424.7 L860.7,426.5 L861.7,428.3 L862.7,430.0 L863.7,431.7 L864.7,433.5 L865.8,435.2 L866.8,437.0 L867.8,438.7 L868.8,440.4 L869.9,442.1 L870.9,443.8 L872.0,445.6 L873.1,447.3 L874.1,449.0 L875.2,450.7 L876.3,452.4 L877.4,454.1 L878.4,455.7 L879.5,457.4 L880.7,459.1 L881.8,460.8 L882.9,462.4 L884.0,464.1 L885.1,465.7 L886.3,467.4 L887.4,469.0 L888.6,470.7 L889.8,472.3 L890.9,473.9 L892.1,475.5 L893.3,477.1 L894.5,478.7 L895.7,480.3 L897.0,481.9 L898.2,483.5 L899.4,485.1 L900.7,486.7 L901.9,488.2 L903.2,489.8 L904.5,491.3 L905.8,492.9 L907.1,494.4 L908.4,495.9 L909.7,497.4 L911.0,499.0 L912.4,500.5 L913.7,502.0 L915.1,503.4 L916.4,504.9 L917.8,506.4 L919.2,507.9 L920.6,509.3 L922.0,510.8 L923.4,512.2 L924.8,513.6 L926.2,515.1 L927.7,516.5 L929.1,517.9 L930.5,519.3 L932.0,520.7 L933.5,522.0 L935.0,523.4 L936.5,524.8 L938.0,526.1 L939.5,527.5 L941.0,528.8 L942.5,530.1 L944.0,531.5 L945.6,532.8 L947.1,534.1 L948.7,535.3 L950.3,536.6 L951.8,537.9 L953.4,539.2 L955.0,540.4 L956.6,541.6 L958.2,542.9 L959.8,544.1 L961.5,545.3 L963.1,546.5 L964.8,547.7 L966.4,548.9 L968.1,550.1 L969.7,551.2 L971.4,552.4 L973.1,553.5" fill="none" stroke="#33a488" stroke-width="2.8" stroke-dasharray="5 2.6 2.6 2.8 2.6 2.8 2.6 2.8" stroke-linejoin="round"/>
<path d="M784.3,522.0 L784.1,520.0 L784.0,517.9 L783.8,515.9 L783.7,513.8 L783.7,511.8 L783.6,509.8 L783.5,507.8 L783.5,505.7 L783.5,503.7 L783.5,501.7 L783.5,499.7 L783.5,497.6 L783.5,495.6 L783.6,493.6 L783.7,491.6 L783.8,489.6 L783.9,487.6 L784.0,485.6 L784.1,483.6 L784.2,481.6 L784.4,479.6 L784.6,477.6 L784.7,475.6 L784.9,473.6 L785.2,471.6 L785.4,469.6 L785.6,467.6 L785.9,465.6 L786.1,463.6 L786.4,461.7 L786.7,459.7 L787.0,457.7 L787.3,455.7 L787.6,453.7 L787.9,451.8 L788.2,449.8 L788.6,447.8 L789.0,445.8 L789.3,443.9 L789.7,441.9 L790.1,439.9 L790.5,438.0 L790.9,436.0 L791.3,434.1 L791.7,432.1 L792.2,430.1 L792.6,428.2 L793.1,426.2 L793.5,424.3 L794.0,422.3 L794.5,420.4 L795.0,418.4 L795.5,416.5 L796.0,414.5 L796.5,412.6 L797.0,410.6 L797.5,408.7 L798.0,406.8 L798.6,404.8 L799.1,402.9 L799.7,400.9 L800.2,399.0 L800.8,397.1 L801.3,395.1 L801.9,393.2 L802.5,391.3 L803.1,389.4 L803.6,387.4 L804.2,385.5 L804.8,383.6 L805.4,381.6 L806.0,379.7 L806.6,377.8 L807.3,375.9 L807.9,374.0 L808.5,372.1 L809.1,370.1 L809.8,368.2 L810.4,366.3 L811.1,364.4 L811.7,362.5 L812.4,360.6 L813.1,358.7 L813.8,356.8 L814.4,354.9 L815.1,353.0 L815.8,351.1 L816.5,349.2 L817.2,347.3 L817.9,345.4 L818.6,343.5 L819.4,341.7 L820.1,339.8 L820.8,337.9 L821.5,336.0 L822.3,334.1 L823.0,332.3 L823.8,330.4 L824.6,328.5 L825.3,326.7 L826.1,324.8 L826.9,323.0 L827.7,321.1 L828.4,319.2 L829.2,317.4 L830.0,315.5 L830.9,313.7 L831.7,311.9 L832.5,310.0 L833.3,308.2 L834.1,306.3 L835.0,304.5 L835.8,302.7 L836.7,300.9 L837.5,299.0 L838.4,297.2 L839.3,295.4 L840.1,293.6 L841.0,291.8 L841.9,290.0 L842.8,288.2 L843.7,286.4 L844.6,284.6 L845.5,282.8 L846.4,281.0 L847.4,279.2 L848.3,277.5 L849.2,275.7 L850.2,273.9 L851.1,272.2 L852.1,270.4 L853.1,268.6 L854.0,266.9 L855.0,265.1 L856.0,263.4 L857.0,261.7 L858.0,259.9 L859.0,258.2 L860.1,256.5 L861.1,254.8 L862.1,253.0 L863.2,251.3 L864.3,249.6 L865.3,247.9 L866.4,246.2 L867.5,244.6 L868.6,242.9 L869.7,241.2 L870.8,239.5 L871.9,237.8 L873.0,236.2 L874.1,234.5 L875.3,232.8 L876.4,231.2 L877.5,229.5 L878.6,227.8 L879.7,226.2 L880.9,224.5 L882.0,222.8 L883.1,221.2 L884.2,219.5 L885.3,217.8 L886.4,216.2 L887.6,214.5 L888.7,212.8 L889.8,211.2 L890.9,209.5 L892.0,207.8 L893.1,206.2 L894.2,204.5 L895.3,202.8 L896.5,201.1 L897.6,199.5 L898.7,197.8 L899.8,196.1 L900.9,194.5 L902.0,192.8 L903.2,191.1 L904.3,189.5 L905.4,187.8 L906.5,186.1 L907.7,184.4 L908.8,182.8 L909.9,181.1 L911.1,179.4 L912.2,177.8 L913.4,176.1 L914.5,174.4 L915.6,172.8 L916.8,171.1 L917.9,169.4 L919.1,167.8 L920.3,166.1 L921.4,164.4 L922.6,162.8 L923.8,161.1 L925.0,159.5 L926.2,157.9 L927.4,156.2 L928.6,154.6 L929.8,153.0 L931.0,151.3 L932.2,149.7 L933.5,148.1 L934.7,146.5 L936.0,145.0 L937.2,143.4 L938.5,141.8 L939.8,140.3 L941.1,138.7 L942.4,137.2 L943.7,135.7 L945.0,134.2 L946.4,132.7 L947.7,131.2 L949.1,129.8 L950.5,128.4 L951.9,126.9 L953.3,125.5 L954.7,124.1 L956.1,122.8 L957.6,121.4 L959.0,120.1 L960.5,118.7 L962.0,117.4 L963.5,116.2 L965.1,114.9 L966.6,113.7 L968.2,112.5 L969.8,111.3 L971.4,110.1 L973.0,109.0 L974.6,107.9 L976.3,106.8 L978.0,105.7 L979.7,104.7 L981.4,103.6 L983.1,102.6 L984.9,101.7 L986.7,100.8 L988.5,99.9 L990.3,99.0 L992.2,98.1 L994.0,97.3 L995.9,96.5 L997.9,95.8 L999.8,95.1 L1001.8,94.4 L1003.8,93.7 L1005.8,93.1" fill="none" stroke="#4aca7b" stroke-width="2.8" stroke-dasharray="2.5 2.6" stroke-linejoin="round"/>
<path d="M784.3,190.0 L784.2,192.0 L784.1,194.1 L784.0,196.1 L783.9,198.2 L783.9,200.2 L783.9,202.3 L783.9,204.3 L783.9,206.4 L783.9,208.4 L783.9,210.4 L784.0,212.5 L784.1,214.5 L784.2,216.5 L784.3,218.6 L784.4,220.6 L784.5,222.6 L784.7,224.6 L784.8,226.6 L785.0,228.6 L785.2,230.7 L785.5,232.7 L785.7,234.7 L785.9,236.7 L786.2,238.7 L786.5,240.7 L786.8,242.7 L787.1,244.7 L787.4,246.6 L787.7,248.6 L788.1,250.6 L788.5,252.6 L788.8,254.6 L789.2,256.5 L789.6,258.5 L790.1,260.5 L790.5,262.4 L790.9,264.4 L791.4,266.3 L791.9,268.3 L792.4,270.2 L792.9,272.2 L793.4,274.1 L793.9,276.1 L794.5,278.0 L795.0,279.9 L795.6,281.9 L796.2,283.8 L796.7,285.7 L797.3,287.6 L798.0,289.5 L798.6,291.4 L799.2,293.3 L799.9,295.2 L800.5,297.1 L801.2,299.0 L801.9,300.9 L802.6,302.8 L803.3,304.7 L804.0,306.5 L804.7,308.4 L805.5,310.3 L806.2,312.1 L807.0,314.0 L807.7,315.8 L808.5,317.7 L809.3,319.5 L810.1,321.4 L810.9,323.2 L811.7,325.1 L812.5,326.9 L813.3,328.8 L814.1,330.6 L815.0,332.4 L815.8,334.3 L816.7,336.1 L817.5,337.9 L818.4,339.7 L819.2,341.6 L820.1,343.4 L821.0,345.2 L821.8,347.0 L822.7,348.8 L823.6,350.6 L824.5,352.5 L825.4,354.3 L826.3,356.1 L827.2,357.9 L828.1,359.7 L829.0,361.5 L829.9,363.3 L830.8,365.1 L831.7,366.9 L832.6,368.8 L833.5,370.6 L834.4,372.4 L835.3,374.2 L836.2,376.0 L837.2,377.8 L838.1,379.6 L839.0,381.4 L839.9,383.2 L840.8,385.0 L841.7,386.9 L842.6,388.7 L843.5,390.5 L844.4,392.3 L845.3,394.1 L846.2,395.9 L847.2,397.7 L848.1,399.6 L849.0,401.4 L849.9,403.2 L850.8,405.0 L851.7,406.8 L852.6,408.6 L853.5,410.5 L854.4,412.3 L855.3,414.1 L856.2,415.9 L857.1,417.7 L858.0,419.5 L858.9,421.4 L859.8,423.2 L860.7,425.0 L861.6,426.8 L862.5,428.6 L863.4,430.4 L864.3,432.2 L865.2,434.0 L866.1,435.8 L867.1,437.6 L868.0,439.4 L868.9,441.2 L869.8,443.0 L870.8,444.8 L871.7,446.6 L872.6,448.4 L873.6,450.2 L874.5,452.0 L875.5,453.8 L876.4,455.6 L877.4,457.3 L878.3,459.1 L879.3,460.9 L880.2,462.7 L881.2,464.4 L882.2,466.2 L883.2,468.0 L884.1,469.7 L885.1,471.5 L886.1,473.2 L887.1,475.0 L888.1,476.7 L889.1,478.4 L890.1,480.2 L891.2,481.9 L892.2,483.6 L893.2,485.4 L894.3,487.1 L895.3,488.8 L896.4,490.5 L897.4,492.2 L898.5,493.9 L899.6,495.6 L900.6,497.3 L901.7,499.0 L902.8,500.7 L903.9,502.3 L905.0,504.0 L906.1,505.7 L907.3,507.3 L908.4,509.0 L909.5,510.6 L910.7,512.3 L911.8,513.9 L913.0,515.5 L914.2,517.2 L915.4,518.8 L916.6,520.4 L917.8,522.0 L919.0,523.6 L920.2,525.2 L921.4,526.8 L922.7,528.4 L923.9,529.9 L925.2,531.5 L926.4,533.1 L927.7,534.6 L929.0,536.2 L930.3,537.7 L931.6,539.2 L933.0,540.7 L934.3,542.3 L935.6,543.8 L937.0,545.3 L938.4,546.8 L939.7,548.2 L941.1,549.7 L942.5,551.2 L943.9,552.6 L945.4,554.1 L946.8,555.5 L948.3,557.0 L949.7,558.4 L951.2,559.8 L952.7,561.2 L954.2,562.6" fill="none" stroke="#4aca7b" stroke-width="2.8" stroke-dasharray="2.5 2.6" stroke-linejoin="round"/>
<path d="M784.3,527.5 L784.2,525.5 L784.1,523.4 L784.0,521.4 L784.0,519.4 L783.9,517.4 L783.9,515.3 L783.9,513.3 L783.9,511.3 L783.9,509.3 L783.9,507.2 L784.0,505.2 L784.0,503.2 L784.1,501.2 L784.2,499.2 L784.3,497.2 L784.4,495.2 L784.5,493.1 L784.6,491.1 L784.7,489.1 L784.9,487.1 L785.0,485.1 L785.2,483.1 L785.4,481.1 L785.6,479.1 L785.8,477.1 L786.0,475.1 L786.2,473.1 L786.5,471.1 L786.7,469.2 L787.0,467.2 L787.3,465.2 L787.6,463.2 L787.9,461.2 L788.2,459.2 L788.5,457.3 L788.8,455.3 L789.1,453.3 L789.5,451.3 L789.9,449.4 L790.2,447.4 L790.6,445.4 L791.0,443.5 L791.4,441.5 L791.8,439.5 L792.2,437.6 L792.7,435.6 L793.1,433.7 L793.6,431.7 L794.0,429.7 L794.5,427.8 L795.0,425.8 L795.5,423.9 L796.0,422.0 L796.5,420.0 L797.0,418.1 L797.5,416.1 L798.1,414.2 L798.6,412.3 L799.2,410.3 L799.7,408.4 L800.3,406.5 L800.9,404.6 L801.5,402.6 L802.1,400.7 L802.7,398.8 L803.3,396.9 L803.9,395.0 L804.6,393.1 L805.2,391.2 L805.9,389.2 L806.5,387.3 L807.2,385.4 L807.9,383.5 L808.6,381.6 L809.3,379.8 L810.0,377.9 L810.7,376.0 L811.4,374.1 L812.1,372.2 L812.8,370.3 L813.6,368.4 L814.3,366.6 L815.1,364.7 L815.8,362.8 L816.6,361.0 L817.4,359.1 L818.1,357.2 L818.9,355.4 L819.7,353.5 L820.5,351.7 L821.3,349.8 L822.2,348.0 L823.0,346.1 L823.8,344.3 L824.6,342.4 L825.5,340.6 L826.3,338.8 L827.2,336.9 L828.0,335.1 L828.9,333.3 L829.8,331.4 L830.7,329.6 L831.5,327.8 L832.4,326.0 L833.3,324.2 L834.2,322.4 L835.1,320.6 L836.1,318.8 L837.0,317.0 L837.9,315.2 L838.8,313.4 L839.8,311.6 L840.7,309.8 L841.6,308.0 L842.6,306.2 L843.5,304.4 L844.5,302.7 L845.5,300.9 L846.4,299.1 L847.4,297.4 L848.4,295.6 L849.4,293.8 L850.4,292.1 L851.4,290.3 L852.3,288.6 L853.3,286.8 L854.4,285.1 L855.4,283.4 L856.4,281.6 L857.4,279.9 L858.4,278.2 L859.4,276.4 L860.5,274.7 L861.5,273.0 L862.5,271.3 L863.6,269.6 L864.6,267.8 L865.6,266.1 L866.7,264.4 L867.7,262.7 L868.8,261.0 L869.8,259.3 L870.9,257.6 L872.0,255.9 L873.0,254.2 L874.1,252.5 L875.1,250.8 L876.2,249.1 L877.3,247.4 L878.3,245.7 L879.4,244.0 L880.5,242.3 L881.6,240.6 L882.6,239.0 L883.7,237.3 L884.8,235.6 L885.8,233.9 L886.9,232.2 L888.0,230.5 L889.1,228.8 L890.1,227.1 L891.2,225.4 L892.3,223.7 L893.4,222.0 L894.4,220.3 L895.5,218.6 L896.6,216.9 L897.7,215.2 L898.7,213.5 L899.8,211.8 L900.9,210.0 L902.0,208.3 L903.1,206.6 L904.2,204.9 L905.2,203.2 L906.3,201.5 L907.4,199.8 L908.5,198.2 L909.6,196.5 L910.7,194.8 L911.8,193.1 L912.9,191.4 L914.1,189.7 L915.2,188.0 L916.3,186.4 L917.4,184.7 L918.6,183.0 L919.7,181.4 L920.9,179.7 L922.0,178.1 L923.2,176.4 L924.3,174.8 L925.5,173.2 L926.7,171.5 L927.9,169.9 L929.1,168.3 L930.2,166.7 L931.4,165.1 L932.7,163.5 L933.9,161.9 L935.1,160.2 L936.3,158.6 L937.5,157.0 L938.7,155.4 L939.9,153.8 L941.1,152.2 L942.4,150.6 L943.6,149.0 L944.8,147.4 L946.0,145.8 L947.2,144.2 L948.4,142.5 L949.6,140.9 L950.8,139.3 L952.0,137.6 L953.2,136.0 L954.4,134.4 L955.7,132.8 L956.9,131.2 L958.2,129.6 L959.4,128.1 L960.7,126.5 L962.0,125.0 L963.3,123.5 L964.7,122.0 L966.1,120.6 L967.5,119.2 L968.9,117.8 L970.4,116.4 L971.8,115.1 L973.4,113.8 L974.9,112.5 L976.4,111.3 L978.0,110.1 L979.6,108.9 L981.2,107.8 L982.9,106.6 L984.6,105.6 L986.3,104.5 L988.0,103.5 L989.7,102.5 L991.4,101.5 L993.2,100.6 L995.0,99.7 L996.8,98.8 L998.6,98.0 L1000.5,97.2 L1002.3,96.4 L1004.2,95.6 L1006.1,94.9 L1008.0,94.2 L1010.0,93.5 L1011.9,92.9 L1013.9,92.3 L1015.8,91.7 L1017.8,91.2 L1019.8,90.7" fill="none" stroke="#76d153" stroke-width="2.8" stroke-linejoin="round"/>
<path d="M784.3,173.7 L784.2,175.8 L784.1,177.8 L784.0,179.8 L784.0,181.8 L783.9,183.8 L783.9,185.8 L783.9,187.8 L783.8,189.9 L783.8,191.9 L783.8,193.9 L783.9,195.9 L783.9,197.9 L783.9,199.9 L784.0,202.0 L784.0,204.0 L784.1,206.0 L784.2,208.0 L784.3,210.0 L784.4,212.0 L784.5,214.1 L784.7,216.1 L784.8,218.1 L785.0,220.1 L785.1,222.1 L785.3,224.1 L785.5,226.1 L785.7,228.1 L785.9,230.1 L786.1,232.1 L786.4,234.1 L786.6,236.1 L786.9,238.1 L787.2,240.1 L787.5,242.1 L787.8,244.1 L788.1,246.1 L788.4,248.1 L788.8,250.1 L789.1,252.1 L789.5,254.0 L789.9,256.0 L790.3,258.0 L790.7,260.0 L791.1,261.9 L791.5,263.9 L792.0,265.8 L792.4,267.8 L792.9,269.7 L793.4,271.7 L793.9,273.6 L794.4,275.6 L795.0,277.5 L795.5,279.4 L796.1,281.4 L796.7,283.3 L797.2,285.2 L797.9,287.1 L798.5,289.0 L799.1,290.9 L799.7,292.8 L800.4,294.7 L801.1,296.6 L801.8,298.5 L802.5,300.3 L803.2,302.2 L803.9,304.1 L804.6,306.0 L805.4,307.8 L806.1,309.7 L806.9,311.5 L807.7,313.4 L808.5,315.2 L809.3,317.1 L810.1,318.9 L810.9,320.7 L811.7,322.6 L812.6,324.4 L813.4,326.2 L814.3,328.1 L815.1,329.9 L816.0,331.7 L816.9,333.5 L817.8,335.3 L818.7,337.1 L819.6,338.9 L820.5,340.7 L821.4,342.5 L822.3,344.3 L823.2,346.1 L824.2,347.9 L825.1,349.7 L826.0,351.5 L827.0,353.3 L827.9,355.1 L828.9,356.8 L829.9,358.6 L830.8,360.4 L831.8,362.2 L832.8,363.9 L833.7,365.7 L834.7,367.5 L835.7,369.3 L836.7,371.0 L837.7,372.8 L838.7,374.5 L839.6,376.3 L840.6,378.1 L841.6,379.8 L842.6,381.6 L843.6,383.3 L844.6,385.1 L845.6,386.9 L846.6,388.6 L847.6,390.4 L848.6,392.1 L849.6,393.9 L850.6,395.6 L851.6,397.4 L852.6,399.1 L853.6,400.9 L854.6,402.6 L855.6,404.3 L856.6,406.1 L857.6,407.8 L858.6,409.6 L859.6,411.3 L860.6,413.0 L861.6,414.8 L862.6,416.5 L863.6,418.3 L864.6,420.0 L865.6,421.7 L866.6,423.5 L867.7,425.2 L868.7,426.9 L869.7,428.6 L870.7,430.4 L871.7,432.1 L872.8,433.8 L873.8,435.5 L874.8,437.3 L875.8,439.0 L876.9,440.7 L877.9,442.4 L879.0,444.1 L880.0,445.9 L881.0,447.6 L882.1,449.3 L883.1,451.0 L884.2,452.7 L885.2,454.4 L886.3,456.1 L887.4,457.8 L888.4,459.6 L889.5,461.3 L890.5,463.0 L891.6,464.7 L892.7,466.4 L893.8,468.1 L894.8,469.8 L895.9,471.5 L897.0,473.2 L898.1,474.9 L899.2,476.6 L900.3,478.2 L901.4,479.9 L902.5,481.6 L903.6,483.3 L904.7,485.0 L905.8,486.7 L907.0,488.4 L908.1,490.0 L909.2,491.7 L910.4,493.4 L911.5,495.0 L912.7,496.7 L913.8,498.4 L915.0,500.0 L916.1,501.7 L917.3,503.3 L918.5,504.9 L919.7,506.6 L920.9,508.2 L922.1,509.8 L923.3,511.4 L924.5,513.0 L925.7,514.6 L927.0,516.2 L928.2,517.8 L929.5,519.4 L930.7,520.9 L932.0,522.5 L933.3,524.0 L934.6,525.6 L935.9,527.1 L937.2,528.6 L938.5,530.1 L939.8,531.6 L941.2,533.1 L942.5,534.6 L943.9,536.1 L945.3,537.5 L946.7,539.0 L948.1,540.4 L949.5,541.8 L950.9,543.2 L952.3,544.6 L953.8,546.0 L955.2,547.4 L956.7,548.8 L958.2,550.1 L959.7,551.4 L961.2,552.7 L962.7,554.0 L964.3,555.3 L965.8,556.6 L967.4,557.9 L969.0,559.1" fill="none" stroke="#76d153" stroke-width="2.8" stroke-linejoin="round"/>
<line x1="807.99" y1="579.50" x2="807.99" y2="576.70" stroke="#000" stroke-width="1.3" />
<line x1="807.99" y1="63.00" x2="807.99" y2="65.80" stroke="#000" stroke-width="1.3" />
<line x1="831.48" y1="579.50" x2="831.48" y2="576.70" stroke="#000" stroke-width="1.3" />
<line x1="831.48" y1="63.00" x2="831.48" y2="65.80" stroke="#000" stroke-width="1.3" />
<line x1="854.97" y1="579.50" x2="854.97" y2="576.70" stroke="#000" stroke-width="1.3" />
<line x1="854.97" y1="63.00" x2="854.97" y2="65.80" stroke="#000" stroke-width="1.3" />
<line x1="878.46" y1="579.50" x2="878.46" y2="576.70" stroke="#000" stroke-width="1.3" />
<line x1="878.46" y1="63.00" x2="878.46" y2="65.80" stroke="#000" stroke-width="1.3" />
<line x1="925.44" y1="579.50" x2="925.44" y2="576.70" stroke="#000" stroke-width="1.3" />
<line x1="925.44" y1="63.00" x2="925.44" y2="65.80" stroke="#000" stroke-width="1.3" />
<line x1="948.93" y1="579.50" x2="948.93" y2="576.70" stroke="#000" stroke-width="1.3" />
<line x1="948.93" y1="63.00" x2="948.93" y2="65.80" stroke="#000" stroke-width="1.3" />
<line x1="972.42" y1="579.50" x2="972.42" y2="576.70" stroke="#000" stroke-width="1.3" />
<line x1="972.42" y1="63.00" x2="972.42" y2="65.80" stroke="#000" stroke-width="1.3" />
<line x1="995.91" y1="579.50" x2="995.91" y2="576.70" stroke="#000" stroke-width="1.3" />
<line x1="995.91" y1="63.00" x2="995.91" y2="65.80" stroke="#000" stroke-width="1.3" />
<line x1="1042.89" y1="579.50" x2="1042.89" y2="576.70" stroke="#000" stroke-width="1.3" />
<line x1="1042.89" y1="63.00" x2="1042.89" y2="65.80" stroke="#000" stroke-width="1.3" />
<line x1="1066.38" y1="579.50" x2="1066.38" y2="576.70" stroke="#000" stroke-width="1.3" />
<line x1="1066.38" y1="63.00" x2="1066.38" y2="65.80" stroke="#000" stroke-width="1.3" />
<line x1="1089.87" y1="579.50" x2="1089.87" y2="576.70" stroke="#000" stroke-width="1.3" />
<line x1="1089.87" y1="63.00" x2="1089.87" y2="65.80" stroke="#000" stroke-width="1.3" />
<line x1="1113.36" y1="579.50" x2="1113.36" y2="576.70" stroke="#000" stroke-width="1.3" />
<line x1="1113.36" y1="63.00" x2="1113.36" y2="65.80" stroke="#000" stroke-width="1.3" />
<line x1="1160.34" y1="579.50" x2="1160.34" y2="576.70" stroke="#000" stroke-width="1.3" />
<line x1="1160.34" y1="63.00" x2="1160.34" y2="65.80" stroke="#000" stroke-width="1.3" />
<line x1="1183.83" y1="579.50" x2="1183.83" y2="576.70" stroke="#000" stroke-width="1.3" />
<line x1="1183.83" y1="63.00" x2="1183.83" y2="65.80" stroke="#000" stroke-width="1.3" />
<line x1="1207.32" y1="579.50" x2="1207.32" y2="576.70" stroke="#000" stroke-width="1.3" />
<line x1="1207.32" y1="63.00" x2="1207.32" y2="65.80" stroke="#000" stroke-width="1.3" />
<line x1="1230.81" y1="579.50" x2="1230.81" y2="576.70" stroke="#000" stroke-width="1.3" />
<line x1="1230.81" y1="63.00" x2="1230.81" y2="65.80" stroke="#000" stroke-width="1.3" />
<line x1="784.50" y1="579.50" x2="784.50" y2="574.40" stroke="#000" stroke-width="1.3" />
<line x1="784.50" y1="63.00" x2="784.50" y2="68.10" stroke="#000" stroke-width="1.3" />
<line x1="901.95" y1="579.50" x2="901.95" y2="574.40" stroke="#000" stroke-width="1.3" />
<line x1="901.95" y1="63.00" x2="901.95" y2="68.10" stroke="#000" stroke-width="1.3" />
<line x1="1019.40" y1="579.50" x2="1019.40" y2="574.40" stroke="#000" stroke-width="1.3" />
<line x1="1019.40" y1="63.00" x2="1019.40" y2="68.10" stroke="#000" stroke-width="1.3" />
<line x1="1136.85" y1="579.50" x2="1136.85" y2="574.40" stroke="#000" stroke-width="1.3" />
<line x1="1136.85" y1="63.00" x2="1136.85" y2="68.10" stroke="#000" stroke-width="1.3" />
<line x1="1254.30" y1="579.50" x2="1254.30" y2="574.40" stroke="#000" stroke-width="1.3" />
<line x1="1254.30" y1="63.00" x2="1254.30" y2="68.10" stroke="#000" stroke-width="1.3" />
<line x1="761.50" y1="563.64" x2="764.30" y2="563.64" stroke="#000" stroke-width="1.3" />
<line x1="761.50" y1="547.48" x2="764.30" y2="547.48" stroke="#000" stroke-width="1.3" />
<line x1="761.50" y1="531.32" x2="764.30" y2="531.32" stroke="#000" stroke-width="1.3" />
<line x1="761.50" y1="515.16" x2="764.30" y2="515.16" stroke="#000" stroke-width="1.3" />
<line x1="761.50" y1="482.84" x2="764.30" y2="482.84" stroke="#000" stroke-width="1.3" />
<line x1="761.50" y1="466.68" x2="764.30" y2="466.68" stroke="#000" stroke-width="1.3" />
<line x1="761.50" y1="450.52" x2="764.30" y2="450.52" stroke="#000" stroke-width="1.3" />
<line x1="761.50" y1="434.36" x2="764.30" y2="434.36" stroke="#000" stroke-width="1.3" />
<line x1="761.50" y1="402.04" x2="764.30" y2="402.04" stroke="#000" stroke-width="1.3" />
<line x1="761.50" y1="385.88" x2="764.30" y2="385.88" stroke="#000" stroke-width="1.3" />
<line x1="761.50" y1="369.72" x2="764.30" y2="369.72" stroke="#000" stroke-width="1.3" />
<line x1="761.50" y1="353.56" x2="764.30" y2="353.56" stroke="#000" stroke-width="1.3" />
<line x1="761.50" y1="321.24" x2="764.30" y2="321.24" stroke="#000" stroke-width="1.3" />
<line x1="761.50" y1="305.08" x2="764.30" y2="305.08" stroke="#000" stroke-width="1.3" />
<line x1="761.50" y1="288.92" x2="764.30" y2="288.92" stroke="#000" stroke-width="1.3" />
<line x1="761.50" y1="272.76" x2="764.30" y2="272.76" stroke="#000" stroke-width="1.3" />
<line x1="761.50" y1="240.44" x2="764.30" y2="240.44" stroke="#000" stroke-width="1.3" />
<line x1="761.50" y1="224.28" x2="764.30" y2="224.28" stroke="#000" stroke-width="1.3" />
<line x1="761.50" y1="208.12" x2="764.30" y2="208.12" stroke="#000" stroke-width="1.3" />
<line x1="761.50" y1="191.96" x2="764.30" y2="191.96" stroke="#000" stroke-width="1.3" />
<line x1="761.50" y1="159.64" x2="764.30" y2="159.64" stroke="#000" stroke-width="1.3" />
<line x1="761.50" y1="143.48" x2="764.30" y2="143.48" stroke="#000" stroke-width="1.3" />
<line x1="761.50" y1="127.32" x2="764.30" y2="127.32" stroke="#000" stroke-width="1.3" />
<line x1="761.50" y1="111.16" x2="764.30" y2="111.16" stroke="#000" stroke-width="1.3" />
<line x1="761.50" y1="78.84" x2="764.30" y2="78.84" stroke="#000" stroke-width="1.3" />
<line x1="761.50" y1="579.80" x2="766.60" y2="579.80" stroke="#000" stroke-width="1.3" />
<line x1="761.50" y1="499.00" x2="766.60" y2="499.00" stroke="#000" stroke-width="1.3" />
<line x1="761.50" y1="418.20" x2="766.60" y2="418.20" stroke="#000" stroke-width="1.3" />
<line x1="761.50" y1="337.40" x2="766.60" y2="337.40" stroke="#000" stroke-width="1.3" />
<line x1="761.50" y1="256.60" x2="766.60" y2="256.60" stroke="#000" stroke-width="1.3" />
<line x1="761.50" y1="175.80" x2="766.60" y2="175.80" stroke="#000" stroke-width="1.3" />
<line x1="761.50" y1="95.00" x2="766.60" y2="95.00" stroke="#000" stroke-width="1.3" />
<line x1="1277.60" y1="563.64" x2="1274.80" y2="563.64" stroke="#000" stroke-width="1.3" />
<line x1="1277.60" y1="547.48" x2="1274.80" y2="547.48" stroke="#000" stroke-width="1.3" />
<line x1="1277.60" y1="531.32" x2="1274.80" y2="531.32" stroke="#000" stroke-width="1.3" />
<line x1="1277.60" y1="515.16" x2="1274.80" y2="515.16" stroke="#000" stroke-width="1.3" />
<line x1="1277.60" y1="482.84" x2="1274.80" y2="482.84" stroke="#000" stroke-width="1.3" />
<line x1="1277.60" y1="466.68" x2="1274.80" y2="466.68" stroke="#000" stroke-width="1.3" />
<line x1="1277.60" y1="450.52" x2="1274.80" y2="450.52" stroke="#000" stroke-width="1.3" />
<line x1="1277.60" y1="434.36" x2="1274.80" y2="434.36" stroke="#000" stroke-width="1.3" />
<line x1="1277.60" y1="402.04" x2="1274.80" y2="402.04" stroke="#000" stroke-width="1.3" />
<line x1="1277.60" y1="385.88" x2="1274.80" y2="385.88" stroke="#000" stroke-width="1.3" />
<line x1="1277.60" y1="369.72" x2="1274.80" y2="369.72" stroke="#000" stroke-width="1.3" />
<line x1="1277.60" y1="353.56" x2="1274.80" y2="353.56" stroke="#000" stroke-width="1.3" />
<line x1="1277.60" y1="321.24" x2="1274.80" y2="321.24" stroke="#000" stroke-width="1.3" />
<line x1="1277.60" y1="305.08" x2="1274.80" y2="305.08" stroke="#000" stroke-width="1.3" />
<line x1="1277.60" y1="288.92" x2="1274.80" y2="288.92" stroke="#000" stroke-width="1.3" />
<line x1="1277.60" y1="272.76" x2="1274.80" y2="272.76" stroke="#000" stroke-width="1.3" />
<line x1="1277.60" y1="240.44" x2="1274.80" y2="240.44" stroke="#000" stroke-width="1.3" />
<line x1="1277.60" y1="224.28" x2="1274.80" y2="224.28" stroke="#000" stroke-width="1.3" />
<line x1="1277.60" y1="208.12" x2="1274.80" y2="208.12" stroke="#000" stroke-width="1.3" />
<line x1="1277.60" y1="191.96" x2="1274.80" y2="191.96" stroke="#000" stroke-width="1.3" />
<line x1="1277.60" y1="159.64" x2="1274.80" y2="159.64" stroke="#000" stroke-width="1.3" />
<line x1="1277.60" y1="143.48" x2="1274.80" y2="143.48" stroke="#000" stroke-width="1.3" />
<line x1="1277.60" y1="127.32" x2="1274.80" y2="127.32" stroke="#000" stroke-width="1.3" />
<line x1="1277.60" y1="111.16" x2="1274.80" y2="111.16" stroke="#000" stroke-width="1.3" />
<line x1="1277.60" y1="78.84" x2="1274.80" y2="78.84" stroke="#000" stroke-width="1.3" />
<line x1="1277.60" y1="579.80" x2="1272.50" y2="579.80" stroke="#000" stroke-width="1.3" />
<line x1="1277.60" y1="499.00" x2="1272.50" y2="499.00" stroke="#000" stroke-width="1.3" />
<line x1="1277.60" y1="418.20" x2="1272.50" y2="418.20" stroke="#000" stroke-width="1.3" />
<line x1="1277.60" y1="337.40" x2="1272.50" y2="337.40" stroke="#000" stroke-width="1.3" />
<line x1="1277.60" y1="256.60" x2="1272.50" y2="256.60" stroke="#000" stroke-width="1.3" />
<line x1="1277.60" y1="175.80" x2="1272.50" y2="175.80" stroke="#000" stroke-width="1.3" />
<line x1="1277.60" y1="95.00" x2="1272.50" y2="95.00" stroke="#000" stroke-width="1.3" />
<rect x="761.50" y="63.00" width="516.10" height="516.50" fill="none" stroke="#000" stroke-width="2.8"/>
<text font-size="21.5" text-anchor="middle" transform="translate(784.50 601.60) scale(1 1.065)" stroke-width="0.35" >0</text>
<text font-size="21.5" text-anchor="middle" transform="translate(901.95 601.60) scale(1 1.065)" stroke-width="0.35" >50</text>
<text font-size="21.5" text-anchor="middle" transform="translate(1019.40 601.60) scale(1 1.065)" stroke-width="0.35" >100</text>
<text font-size="21.5" text-anchor="middle" transform="translate(1136.85 601.60) scale(1 1.065)" stroke-width="0.35" >150</text>
<text font-size="21.5" text-anchor="middle" transform="translate(1254.30 601.60) scale(1 1.065)" stroke-width="0.35" >200</text>
<text font-size="21.5" text-anchor="end" transform="translate(754.60 587.65) scale(1 1.065)" stroke-width="0.35" >0.5</text>
<text font-size="21.5" text-anchor="end" transform="translate(754.60 506.85) scale(1 1.065)" stroke-width="0.35" >1.0</text>
<text font-size="21.5" text-anchor="end" transform="translate(754.60 426.05) scale(1 1.065)" stroke-width="0.35" >1.5</text>
<text font-size="21.5" text-anchor="end" transform="translate(754.60 345.25) scale(1 1.065)" stroke-width="0.35" >2.0</text>
<text font-size="21.5" text-anchor="end" transform="translate(754.60 264.45) scale(1 1.065)" stroke-width="0.35" >2.5</text>
<text font-size="21.5" text-anchor="end" transform="translate(754.60 183.65) scale(1 1.065)" stroke-width="0.35" >3.0</text>
<text font-size="21.5" text-anchor="end" transform="translate(754.60 102.85) scale(1 1.065)" stroke-width="0.35" >3.5</text>
<text font-size="21.9" text-anchor="middle" transform="translate(1019.50 624.50) scale(1 1.025)" stroke-width="0.35" >Capacity<tspan dx="1.2"> (mAh g</tspan><tspan font-size="15.3" dy="-9.4" dx="1.0">−1</tspan><tspan dy="9.4" font-size="1">&#8203;</tspan><tspan dx="2">)</tspan></text>
<text font-size="21.9" text-anchor="middle" transform="translate(712.50 317.60) rotate(-90) scale(1 1.025)" stroke-width="0.35" >Cell voltage<tspan dx="3.5"> (=</tspan><tspan font-style="italic">E</tspan><tspan font-size="14" dy="7">WE</tspan><tspan dy="-7" font-size="1">&#8203;</tspan>−<tspan font-style="italic">E</tspan><tspan font-size="14" dy="7">CE</tspan><tspan dy="-7" font-size="1">&#8203;</tspan>)<tspan dx="3"> (V)</tspan></text>
<text font-size="44.5" text-anchor="start" transform="translate(719.30 35.20) scale(1 1.025)" stroke-width="0.35" >b</text>
<line x1="1079.00" y1="231.25" x2="1103.50" y2="231.25" stroke="#3a1061" stroke-width="2.7" />
<text font-size="21.8" text-anchor="start" transform="translate(1109.20 239.45) scale(1 1.025)" stroke-width="0.35" >1st</text>
<line x1="1173.50" y1="231.25" x2="1198.20" y2="231.25" stroke="#2f8b8d" stroke-width="2.7" stroke-dasharray="7.4 2.8 2.6 2.8 2.6 2.8 2.6 2.8"/>
<text font-size="21.8" text-anchor="start" transform="translate(1203.40 239.45) scale(1 1.025)" stroke-width="0.35" >20th</text>
<line x1="1079.00" y1="254.25" x2="1103.50" y2="254.25" stroke="#432589" stroke-width="2.7" stroke-dasharray="15 3.6"/>
<text font-size="21.8" text-anchor="start" transform="translate(1109.20 262.45) scale(1 1.025)" stroke-width="0.35" >2nd</text>
<line x1="1173.50" y1="254.25" x2="1198.20" y2="254.25" stroke="#33a488" stroke-width="2.7" stroke-dasharray="5 2.6 2.6 2.8 2.6 2.8 2.6 2.8"/>
<text font-size="21.8" text-anchor="start" transform="translate(1203.40 262.45) scale(1 1.025)" stroke-width="0.35" >50th</text>
<line x1="1079.00" y1="277.00" x2="1103.50" y2="277.00" stroke="#3d4597" stroke-width="2.7" stroke-dasharray="12.3 3.5 2.3 3.5"/>
<text font-size="21.8" text-anchor="start" transform="translate(1109.20 285.20) scale(1 1.025)" stroke-width="0.35" >5th</text>
<line x1="1173.50" y1="277.00" x2="1198.20" y2="277.00" stroke="#4aca7b" stroke-width="2.7" stroke-dasharray="2.5 2.6"/>
<text font-size="21.8" text-anchor="start" transform="translate(1203.40 285.20) scale(1 1.025)" stroke-width="0.35" >100th</text>
<line x1="1079.00" y1="300.00" x2="1103.50" y2="300.00" stroke="#376e99" stroke-width="2.7" stroke-dasharray="9.5 3.5 2.3 3.5 2.3 3.5"/>
<text font-size="21.8" text-anchor="start" transform="translate(1109.20 308.20) scale(1 1.025)" stroke-width="0.35" >10th</text>
<line x1="1173.50" y1="300.00" x2="1198.20" y2="300.00" stroke="#76d153" stroke-width="2.7" />
<text font-size="21.8" text-anchor="start" transform="translate(1203.40 308.20) scale(1 1.025)" stroke-width="0.35" >200th</text>
<polyline points="1433.4,148.75 1433.4,115.9 1422,115.9" fill="none" stroke="#3d6596" stroke-width="3.7" stroke-linejoin="miter"/>
<polygon points="1395.6,115.9 1424.3,108.2 1424.3,123.7" fill="#3d6596"/>
<polyline points="1459.3,402.3 1459.3,470 1422,470" fill="none" stroke="#3d6596" stroke-width="3.7" stroke-linejoin="miter"/>
<polygon points="1395.2,470.2 1424,462.5 1424,477.9" fill="#3d6596"/>
<polyline points="1823,138.75 1823,83.3 1898,83.3" fill="none" stroke="#52b688" stroke-width="3.7" stroke-linejoin="miter"/>
<polygon points="1924.3,83.3 1896.2,75.7 1896.2,90.9" fill="#52b688"/>
<g fill="#3d6596"><circle cx="1406.3" cy="426.5" r="5.6"/><circle cx="1408.8" cy="410.8" r="5.6"/><circle cx="1411.4" cy="396.0" r="5.6"/><circle cx="1414.0" cy="374.8" r="5.6"/><circle cx="1416.6" cy="366.5" r="5.6"/><circle cx="1419.1" cy="364.0" r="5.6"/><circle cx="1421.7" cy="367.0" r="5.6"/><circle cx="1424.3" cy="364.0" r="5.6"/><circle cx="1426.8" cy="361.0" r="5.6"/><circle cx="1429.4" cy="359.0" r="5.6"/><circle cx="1432.0" cy="361.5" r="5.6"/><circle cx="1434.6" cy="365.0" r="5.6"/><circle cx="1437.1" cy="369.1" r="5.6"/><circle cx="1439.7" cy="372.4" r="5.6"/><circle cx="1442.3" cy="374.6" r="5.6"/><circle cx="1444.8" cy="381.5" r="5.6"/><circle cx="1447.4" cy="384.3" r="5.6"/><circle cx="1450.0" cy="385.8" r="5.6"/><circle cx="1452.6" cy="385.3" r="5.6"/><circle cx="1455.1" cy="385.9" r="5.6"/><circle cx="1457.7" cy="387.1" r="5.6"/><circle cx="1460.3" cy="388.9" r="5.6"/><circle cx="1462.8" cy="389.1" r="5.6"/><circle cx="1465.4" cy="390.9" r="5.6"/><circle cx="1468.0" cy="392.3" r="5.6"/><circle cx="1470.6" cy="392.6" r="5.6"/><circle cx="1473.1" cy="393.9" r="5.6"/><circle cx="1475.7" cy="395.2" r="5.6"/><circle cx="1478.3" cy="395.5" r="5.6"/><circle cx="1480.8" cy="393.1" r="5.6"/><circle cx="1483.4" cy="388.5" r="5.6"/><circle cx="1486.0" cy="391.8" r="5.6"/><circle cx="1488.6" cy="394.6" r="5.6"/><circle cx="1491.1" cy="399.4" r="5.6"/><circle cx="1493.7" cy="402.6" r="5.6"/><circle cx="1496.3" cy="402.3" r="5.6"/><circle cx="1498.8" cy="403.1" r="5.6"/><circle cx="1501.4" cy="403.1" r="5.6"/><circle cx="1504.0" cy="401.6" r="5.6"/><circle cx="1506.6" cy="402.4" r="5.6"/><circle cx="1509.1" cy="403.8" r="5.6"/><circle cx="1511.7" cy="398.9" r="5.6"/><circle cx="1514.3" cy="394.3" r="5.6"/><circle cx="1516.8" cy="390.3" r="5.6"/><circle cx="1519.4" cy="393.8" r="5.6"/><circle cx="1522.0" cy="397.2" r="5.6"/><circle cx="1524.6" cy="395.8" r="5.6"/><circle cx="1527.1" cy="394.2" r="5.6"/><circle cx="1529.7" cy="395.1" r="5.6"/><circle cx="1532.3" cy="394.6" r="5.6"/><circle cx="1534.8" cy="395.7" r="5.6"/><circle cx="1537.4" cy="397.0" r="5.6"/><circle cx="1540.0" cy="398.8" r="5.6"/><circle cx="1542.6" cy="399.4" r="5.6"/><circle cx="1545.1" cy="399.5" r="5.6"/><circle cx="1547.7" cy="401.1" r="5.6"/><circle cx="1550.3" cy="402.9" r="5.6"/><circle cx="1552.8" cy="405.2" r="5.6"/><circle cx="1555.4" cy="406.2" r="5.6"/><circle cx="1558.0" cy="406.8" r="5.6"/><circle cx="1560.6" cy="408.1" r="5.6"/><circle cx="1563.1" cy="409.2" r="5.6"/><circle cx="1565.7" cy="409.4" r="5.6"/><circle cx="1568.3" cy="409.9" r="5.6"/><circle cx="1570.8" cy="411.0" r="5.6"/><circle cx="1573.4" cy="410.4" r="5.6"/><circle cx="1576.0" cy="411.5" r="5.6"/><circle cx="1578.6" cy="411.6" r="5.6"/><circle cx="1581.1" cy="412.6" r="5.6"/><circle cx="1583.7" cy="413.0" r="5.6"/><circle cx="1586.3" cy="413.0" r="5.6"/><circle cx="1588.8" cy="413.1" r="5.6"/><circle cx="1591.4" cy="412.5" r="5.6"/><circle cx="1594.0" cy="413.2" r="5.6"/><circle cx="1596.6" cy="412.7" r="5.6"/><circle cx="1599.1" cy="413.5" r="5.6"/><circle cx="1601.7" cy="413.5" r="5.6"/><circle cx="1604.3" cy="414.1" r="5.6"/><circle cx="1606.8" cy="413.7" r="5.6"/><circle cx="1609.4" cy="414.5" r="5.6"/><circle cx="1612.0" cy="414.9" r="5.6"/><circle cx="1614.6" cy="412.5" r="5.6"/><circle cx="1617.1" cy="412.9" r="5.6"/><circle cx="1619.7" cy="412.3" r="5.6"/><circle cx="1622.3" cy="411.9" r="5.6"/><circle cx="1624.8" cy="411.5" r="5.6"/><circle cx="1627.4" cy="411.7" r="5.6"/><circle cx="1630.0" cy="410.6" r="5.6"/><circle cx="1632.6" cy="410.6" r="5.6"/><circle cx="1635.1" cy="410.9" r="5.6"/><circle cx="1637.7" cy="410.9" r="5.6"/><circle cx="1640.3" cy="410.9" r="5.6"/><circle cx="1642.8" cy="411.1" r="5.6"/><circle cx="1645.4" cy="412.0" r="5.6"/><circle cx="1648.0" cy="411.4" r="5.6"/><circle cx="1650.6" cy="412.7" r="5.6"/><circle cx="1653.1" cy="412.0" r="5.6"/><circle cx="1655.7" cy="411.5" r="5.6"/><circle cx="1658.3" cy="411.6" r="5.6"/><circle cx="1660.8" cy="410.5" r="5.6"/><circle cx="1663.4" cy="411.8" r="5.6"/><circle cx="1666.0" cy="411.6" r="5.6"/><circle cx="1668.6" cy="411.3" r="5.6"/><circle cx="1671.1" cy="410.8" r="5.6"/><circle cx="1673.7" cy="411.4" r="5.6"/><circle cx="1676.3" cy="411.2" r="5.6"/><circle cx="1678.9" cy="411.0" r="5.6"/><circle cx="1681.4" cy="411.4" r="5.6"/><circle cx="1684.0" cy="410.8" r="5.6"/><circle cx="1686.6" cy="410.2" r="5.6"/><circle cx="1689.1" cy="410.7" r="5.6"/><circle cx="1691.7" cy="410.1" r="5.6"/><circle cx="1694.3" cy="410.2" r="5.6"/><circle cx="1696.9" cy="411.4" r="5.6"/><circle cx="1699.4" cy="411.6" r="5.6"/><circle cx="1702.0" cy="412.0" r="5.6"/><circle cx="1704.6" cy="411.9" r="5.6"/><circle cx="1707.1" cy="411.4" r="5.6"/><circle cx="1709.7" cy="410.6" r="5.6"/><circle cx="1712.3" cy="411.5" r="5.6"/><circle cx="1714.9" cy="412.3" r="5.6"/><circle cx="1717.4" cy="412.0" r="5.6"/><circle cx="1720.0" cy="411.3" r="5.6"/><circle cx="1722.6" cy="411.2" r="5.6"/><circle cx="1725.1" cy="410.7" r="5.6"/><circle cx="1727.7" cy="410.6" r="5.6"/><circle cx="1730.3" cy="410.3" r="5.6"/><circle cx="1732.9" cy="411.9" r="5.6"/><circle cx="1735.4" cy="411.3" r="5.6"/><circle cx="1738.0" cy="410.3" r="5.6"/><circle cx="1740.6" cy="410.9" r="5.6"/><circle cx="1743.1" cy="410.2" r="5.6"/><circle cx="1745.7" cy="410.6" r="5.6"/><circle cx="1748.3" cy="411.7" r="5.6"/><circle cx="1750.9" cy="411.6" r="5.6"/><circle cx="1753.4" cy="411.3" r="5.6"/><circle cx="1756.0" cy="410.9" r="5.6"/><circle cx="1758.6" cy="411.7" r="5.6"/><circle cx="1761.1" cy="412.4" r="5.6"/><circle cx="1763.7" cy="411.4" r="5.6"/><circle cx="1766.3" cy="410.6" r="5.6"/><circle cx="1768.9" cy="410.6" r="5.6"/><circle cx="1771.4" cy="410.7" r="5.6"/><circle cx="1774.0" cy="412.4" r="5.6"/><circle cx="1776.6" cy="411.6" r="5.6"/><circle cx="1779.1" cy="412.2" r="5.6"/><circle cx="1781.7" cy="410.8" r="5.6"/><circle cx="1784.3" cy="411.0" r="5.6"/><circle cx="1786.9" cy="411.9" r="5.6"/><circle cx="1789.4" cy="412.3" r="5.6"/><circle cx="1792.0" cy="411.1" r="5.6"/><circle cx="1794.6" cy="410.5" r="5.6"/><circle cx="1797.1" cy="412.1" r="5.6"/><circle cx="1799.7" cy="410.9" r="5.6"/><circle cx="1802.3" cy="411.7" r="5.6"/><circle cx="1804.9" cy="410.5" r="5.6"/><circle cx="1807.4" cy="411.5" r="5.6"/><circle cx="1810.0" cy="411.8" r="5.6"/><circle cx="1812.6" cy="411.5" r="5.6"/><circle cx="1815.1" cy="410.7" r="5.6"/><circle cx="1817.7" cy="410.2" r="5.6"/><circle cx="1820.3" cy="407.8" r="5.6"/><circle cx="1822.9" cy="408.2" r="5.6"/><circle cx="1825.4" cy="408.5" r="5.6"/><circle cx="1828.0" cy="409.4" r="5.6"/><circle cx="1830.6" cy="408.1" r="5.6"/><circle cx="1833.1" cy="409.6" r="5.6"/><circle cx="1835.7" cy="409.5" r="5.6"/><circle cx="1838.3" cy="409.9" r="5.6"/><circle cx="1840.9" cy="408.7" r="5.6"/><circle cx="1843.4" cy="408.8" r="5.6"/><circle cx="1846.0" cy="409.3" r="5.6"/><circle cx="1848.6" cy="410.9" r="5.6"/><circle cx="1851.1" cy="411.6" r="5.6"/><circle cx="1853.7" cy="411.5" r="5.6"/><circle cx="1856.3" cy="411.5" r="5.6"/><circle cx="1858.9" cy="410.9" r="5.6"/><circle cx="1861.4" cy="411.7" r="5.6"/><circle cx="1864.0" cy="411.6" r="5.6"/><circle cx="1866.6" cy="409.8" r="5.6"/><circle cx="1869.1" cy="409.9" r="5.6"/><circle cx="1871.7" cy="410.9" r="5.6"/><circle cx="1874.3" cy="410.7" r="5.6"/><circle cx="1876.9" cy="409.0" r="5.6"/><circle cx="1879.4" cy="408.3" r="5.6"/><circle cx="1882.0" cy="407.9" r="5.6"/><circle cx="1884.6" cy="407.5" r="5.6"/><circle cx="1887.1" cy="406.0" r="5.6"/><circle cx="1889.7" cy="406.8" r="5.6"/><circle cx="1892.3" cy="405.6" r="5.6"/><circle cx="1894.9" cy="405.7" r="5.6"/><circle cx="1897.4" cy="404.4" r="5.6"/><circle cx="1900.0" cy="405.5" r="5.6"/><circle cx="1902.6" cy="404.8" r="5.6"/><circle cx="1905.1" cy="403.7" r="5.6"/><circle cx="1907.7" cy="407.4" r="5.6"/><circle cx="1910.3" cy="409.4" r="5.6"/><circle cx="1912.9" cy="404.7" r="5.6"/><circle cx="1915.4" cy="398.1" r="5.6"/><circle cx="1918.0" cy="400.6" r="5.6"/></g>
<g fill="none" stroke="#3d6596" stroke-width="1.8"><circle cx="1406.3" cy="382.8" r="4.6"/><circle cx="1408.8" cy="304.8" r="4.6"/><circle cx="1411.4" cy="159.2" r="4.6"/><circle cx="1414.0" cy="180.0" r="4.6"/><circle cx="1416.6" cy="159.2" r="4.6"/><circle cx="1419.1" cy="159.2" r="4.6"/><circle cx="1421.7" cy="159.2" r="4.6"/><circle cx="1424.3" cy="159.2" r="4.6"/><circle cx="1426.8" cy="159.2" r="4.6"/><circle cx="1429.4" cy="168.8" r="4.6"/><circle cx="1432.0" cy="192.0" r="4.6"/><circle cx="1434.6" cy="223.2" r="4.6"/><circle cx="1437.1" cy="235.8" r="4.6"/><circle cx="1439.7" cy="261.5" r="4.6"/><circle cx="1442.3" cy="279.8" r="4.6"/><circle cx="1444.8" cy="288.4" r="4.6"/><circle cx="1447.4" cy="304.6" r="4.6"/><circle cx="1450.0" cy="313.2" r="4.6"/><circle cx="1452.6" cy="317.0" r="4.6"/><circle cx="1455.1" cy="314.6" r="4.6"/><circle cx="1457.7" cy="328.1" r="4.6"/><circle cx="1460.3" cy="332.9" r="4.6"/><circle cx="1462.8" cy="334.0" r="4.6"/><circle cx="1465.4" cy="336.2" r="4.6"/><circle cx="1468.0" cy="332.8" r="4.6"/><circle cx="1470.6" cy="333.0" r="4.6"/><circle cx="1473.1" cy="331.5" r="4.6"/><circle cx="1475.7" cy="332.2" r="4.6"/><circle cx="1478.3" cy="326.4" r="4.6"/><circle cx="1480.8" cy="323.5" r="4.6"/><circle cx="1483.4" cy="313.2" r="4.6"/><circle cx="1486.0" cy="320.7" r="4.6"/><circle cx="1488.6" cy="330.5" r="4.6"/><circle cx="1491.1" cy="336.3" r="4.6"/><circle cx="1493.7" cy="340.6" r="4.6"/><circle cx="1496.3" cy="349.7" r="4.6"/><circle cx="1498.8" cy="352.5" r="4.6"/><circle cx="1501.4" cy="346.8" r="4.6"/><circle cx="1504.0" cy="343.8" r="4.6"/><circle cx="1506.6" cy="346.1" r="4.6"/><circle cx="1509.1" cy="349.1" r="4.6"/><circle cx="1511.7" cy="346.6" r="4.6"/><circle cx="1514.3" cy="338.3" r="4.6"/><circle cx="1516.8" cy="338.7" r="4.6"/><circle cx="1519.4" cy="340.9" r="4.6"/><circle cx="1522.0" cy="346.3" r="4.6"/><circle cx="1524.6" cy="349.9" r="4.6"/><circle cx="1527.1" cy="352.6" r="4.6"/><circle cx="1529.7" cy="347.7" r="4.6"/><circle cx="1532.3" cy="344.2" r="4.6"/><circle cx="1534.8" cy="344.4" r="4.6"/><circle cx="1537.4" cy="342.7" r="4.6"/><circle cx="1540.0" cy="344.4" r="4.6"/><circle cx="1542.6" cy="341.9" r="4.6"/><circle cx="1545.1" cy="344.8" r="4.6"/><circle cx="1547.7" cy="345.2" r="4.6"/><circle cx="1550.3" cy="349.3" r="4.6"/><circle cx="1552.8" cy="353.9" r="4.6"/><circle cx="1555.4" cy="355.6" r="4.6"/><circle cx="1558.0" cy="353.3" r="4.6"/><circle cx="1560.6" cy="365.1" r="4.6"/><circle cx="1563.1" cy="360.8" r="4.6"/><circle cx="1565.7" cy="366.8" r="4.6"/><circle cx="1568.3" cy="361.7" r="4.6"/><circle cx="1570.8" cy="370.5" r="4.6"/><circle cx="1573.4" cy="364.5" r="4.6"/><circle cx="1576.0" cy="373.7" r="4.6"/><circle cx="1578.6" cy="363.2" r="4.6"/><circle cx="1581.1" cy="369.3" r="4.6"/><circle cx="1583.7" cy="363.6" r="4.6"/><circle cx="1586.3" cy="362.2" r="4.6"/><circle cx="1588.8" cy="374.1" r="4.6"/><circle cx="1591.4" cy="366.3" r="4.6"/><circle cx="1594.0" cy="362.2" r="4.6"/><circle cx="1596.6" cy="367.1" r="4.6"/><circle cx="1599.1" cy="367.9" r="4.6"/><circle cx="1601.7" cy="365.9" r="4.6"/><circle cx="1604.3" cy="368.6" r="4.6"/><circle cx="1606.8" cy="377.2" r="4.6"/><circle cx="1609.4" cy="378.5" r="4.6"/><circle cx="1612.0" cy="379.0" r="4.6"/><circle cx="1614.6" cy="370.3" r="4.6"/><circle cx="1617.1" cy="373.4" r="4.6"/><circle cx="1619.7" cy="364.4" r="4.6"/><circle cx="1622.3" cy="369.1" r="4.6"/><circle cx="1624.8" cy="361.7" r="4.6"/><circle cx="1627.4" cy="368.8" r="4.6"/><circle cx="1630.0" cy="363.1" r="4.6"/><circle cx="1632.6" cy="363.4" r="4.6"/><circle cx="1635.1" cy="371.2" r="4.6"/><circle cx="1637.7" cy="373.7" r="4.6"/><circle cx="1640.3" cy="380.6" r="4.6"/><circle cx="1642.8" cy="372.1" r="4.6"/><circle cx="1645.4" cy="375.9" r="4.6"/><circle cx="1648.0" cy="367.9" r="4.6"/><circle cx="1650.6" cy="372.3" r="4.6"/><circle cx="1653.1" cy="366.0" r="4.6"/><circle cx="1655.7" cy="368.9" r="4.6"/><circle cx="1658.3" cy="361.6" r="4.6"/><circle cx="1660.8" cy="368.0" r="4.6"/><circle cx="1663.4" cy="362.3" r="4.6"/><circle cx="1666.0" cy="366.1" r="4.6"/><circle cx="1668.6" cy="365.2" r="4.6"/><circle cx="1671.1" cy="360.2" r="4.6"/><circle cx="1673.7" cy="368.9" r="4.6"/><circle cx="1676.3" cy="366.9" r="4.6"/><circle cx="1678.9" cy="372.8" r="4.6"/><circle cx="1681.4" cy="369.7" r="4.6"/><circle cx="1684.0" cy="377.5" r="4.6"/><circle cx="1686.6" cy="375.8" r="4.6"/><circle cx="1689.1" cy="368.1" r="4.6"/><circle cx="1691.7" cy="368.1" r="4.6"/><circle cx="1694.3" cy="366.6" r="4.6"/><circle cx="1696.9" cy="374.6" r="4.6"/><circle cx="1699.4" cy="369.7" r="4.6"/><circle cx="1702.0" cy="380.9" r="4.6"/><circle cx="1704.6" cy="374.6" r="4.6"/><circle cx="1707.1" cy="378.8" r="4.6"/><circle cx="1709.7" cy="376.1" r="4.6"/><circle cx="1712.3" cy="382.0" r="4.6"/><circle cx="1714.9" cy="375.2" r="4.6"/><circle cx="1717.4" cy="381.8" r="4.6"/><circle cx="1720.0" cy="378.9" r="4.6"/><circle cx="1722.6" cy="384.2" r="4.6"/><circle cx="1725.1" cy="382.0" r="4.6"/><circle cx="1727.7" cy="380.4" r="4.6"/><circle cx="1730.3" cy="373.7" r="4.6"/><circle cx="1732.9" cy="375.9" r="4.6"/><circle cx="1735.4" cy="384.5" r="4.6"/><circle cx="1738.0" cy="382.7" r="4.6"/><circle cx="1740.6" cy="377.1" r="4.6"/><circle cx="1743.1" cy="375.7" r="4.6"/><circle cx="1745.7" cy="377.8" r="4.6"/><circle cx="1748.3" cy="373.4" r="4.6"/><circle cx="1750.9" cy="381.6" r="4.6"/><circle cx="1753.4" cy="376.4" r="4.6"/><circle cx="1756.0" cy="381.7" r="4.6"/><circle cx="1758.6" cy="377.2" r="4.6"/><circle cx="1761.1" cy="383.1" r="4.6"/><circle cx="1763.7" cy="380.3" r="4.6"/><circle cx="1766.3" cy="373.9" r="4.6"/><circle cx="1768.9" cy="380.1" r="4.6"/><circle cx="1771.4" cy="372.9" r="4.6"/><circle cx="1774.0" cy="382.0" r="4.6"/><circle cx="1776.6" cy="376.5" r="4.6"/><circle cx="1779.1" cy="375.0" r="4.6"/><circle cx="1781.7" cy="382.7" r="4.6"/><circle cx="1784.3" cy="376.7" r="4.6"/><circle cx="1786.9" cy="380.4" r="4.6"/><circle cx="1789.4" cy="374.2" r="4.6"/><circle cx="1792.0" cy="380.8" r="4.6"/><circle cx="1794.6" cy="375.5" r="4.6"/><circle cx="1797.1" cy="379.1" r="4.6"/><circle cx="1799.7" cy="381.7" r="4.6"/><circle cx="1802.3" cy="375.3" r="4.6"/><circle cx="1804.9" cy="383.3" r="4.6"/><circle cx="1807.4" cy="377.3" r="4.6"/><circle cx="1810.0" cy="378.1" r="4.6"/><circle cx="1812.6" cy="376.3" r="4.6"/><circle cx="1815.1" cy="378.0" r="4.6"/><circle cx="1817.7" cy="385.5" r="4.6"/><circle cx="1820.3" cy="374.2" r="4.6"/><circle cx="1822.9" cy="363.0" r="4.6"/><circle cx="1825.4" cy="366.8" r="4.6"/><circle cx="1828.0" cy="363.2" r="4.6"/><circle cx="1830.6" cy="364.4" r="4.6"/><circle cx="1833.1" cy="368.0" r="4.6"/><circle cx="1835.7" cy="361.6" r="4.6"/><circle cx="1838.3" cy="366.6" r="4.6"/><circle cx="1840.9" cy="365.9" r="4.6"/><circle cx="1843.4" cy="361.0" r="4.6"/><circle cx="1846.0" cy="367.5" r="4.6"/><circle cx="1848.6" cy="366.5" r="4.6"/><circle cx="1851.1" cy="374.2" r="4.6"/><circle cx="1853.7" cy="375.4" r="4.6"/><circle cx="1856.3" cy="373.7" r="4.6"/><circle cx="1858.9" cy="379.5" r="4.6"/><circle cx="1861.4" cy="372.2" r="4.6"/><circle cx="1864.0" cy="371.6" r="4.6"/><circle cx="1866.6" cy="379.0" r="4.6"/><circle cx="1869.1" cy="371.8" r="4.6"/><circle cx="1871.7" cy="381.4" r="4.6"/><circle cx="1874.3" cy="374.5" r="4.6"/><circle cx="1876.9" cy="378.6" r="4.6"/><circle cx="1879.4" cy="370.7" r="4.6"/><circle cx="1882.0" cy="374.5" r="4.6"/><circle cx="1884.6" cy="368.1" r="4.6"/><circle cx="1887.1" cy="367.6" r="4.6"/><circle cx="1889.7" cy="373.2" r="4.6"/><circle cx="1892.3" cy="364.3" r="4.6"/><circle cx="1894.9" cy="369.7" r="4.6"/><circle cx="1897.4" cy="370.4" r="4.6"/><circle cx="1900.0" cy="377.0" r="4.6"/><circle cx="1902.6" cy="375.1" r="4.6"/><circle cx="1905.1" cy="356.8" r="4.6"/><circle cx="1907.7" cy="376.4" r="4.6"/><circle cx="1910.3" cy="377.3" r="4.6"/><circle cx="1912.9" cy="362.0" r="4.6"/><circle cx="1915.4" cy="367.4" r="4.6"/><circle cx="1918.0" cy="359.4" r="4.6"/></g>
<g fill="#52b688"><path d="M1406.3,182.0l8.0,8.0l-8.0,8.0l-8.0,-8.0z"/><path d="M1408.8,268.2l8.0,8.0l-8.0,8.0l-8.0,-8.0z"/><path d="M1411.4,359.2l8.0,8.0l-8.0,8.0l-8.0,-8.0z"/><path d="M1414.0,320.0l8.0,8.0l-8.0,8.0l-8.0,-8.0z"/><path d="M1416.6,324.0l8.0,8.0l-8.0,8.0l-8.0,-8.0z"/><path d="M1419.1,322.0l8.0,8.0l-8.0,8.0l-8.0,-8.0z"/><path d="M1421.7,325.0l8.0,8.0l-8.0,8.0l-8.0,-8.0z"/><path d="M1424.3,323.0l8.0,8.0l-8.0,8.0l-8.0,-8.0z"/><path d="M1426.8,320.0l8.0,8.0l-8.0,8.0l-8.0,-8.0z"/><path d="M1429.4,305.5l8.0,8.0l-8.0,8.0l-8.0,-8.0z"/><path d="M1432.0,290.5l8.0,8.0l-8.0,8.0l-8.0,-8.0z"/><path d="M1434.6,272.0l8.0,8.0l-8.0,8.0l-8.0,-8.0z"/><path d="M1437.1,269.5l8.0,8.0l-8.0,8.0l-8.0,-8.0z"/><path d="M1439.7,246.0l8.0,8.0l-8.0,8.0l-8.0,-8.0z"/><path d="M1442.3,231.2l8.0,8.0l-8.0,8.0l-8.0,-8.0z"/><path d="M1444.8,226.5l8.0,8.0l-8.0,8.0l-8.0,-8.0z"/><path d="M1447.4,211.1l8.0,8.0l-8.0,8.0l-8.0,-8.0z"/><path d="M1450.0,206.2l8.0,8.0l-8.0,8.0l-8.0,-8.0z"/><path d="M1452.6,201.1l8.0,8.0l-8.0,8.0l-8.0,-8.0z"/><path d="M1455.1,197.2l8.0,8.0l-8.0,8.0l-8.0,-8.0z"/><path d="M1457.7,191.3l8.0,8.0l-8.0,8.0l-8.0,-8.0z"/><path d="M1460.3,185.6l8.0,8.0l-8.0,8.0l-8.0,-8.0z"/><path d="M1462.8,186.2l8.0,8.0l-8.0,8.0l-8.0,-8.0z"/><path d="M1465.4,185.1l8.0,8.0l-8.0,8.0l-8.0,-8.0z"/><path d="M1468.0,192.7l8.0,8.0l-8.0,8.0l-8.0,-8.0z"/><path d="M1470.6,195.8l8.0,8.0l-8.0,8.0l-8.0,-8.0z"/><path d="M1473.1,202.0l8.0,8.0l-8.0,8.0l-8.0,-8.0z"/><path d="M1475.7,201.8l8.0,8.0l-8.0,8.0l-8.0,-8.0z"/><path d="M1478.3,206.2l8.0,8.0l-8.0,8.0l-8.0,-8.0z"/><path d="M1480.8,209.9l8.0,8.0l-8.0,8.0l-8.0,-8.0z"/><path d="M1483.4,214.3l8.0,8.0l-8.0,8.0l-8.0,-8.0z"/><path d="M1486.0,210.3l8.0,8.0l-8.0,8.0l-8.0,-8.0z"/><path d="M1488.6,205.2l8.0,8.0l-8.0,8.0l-8.0,-8.0z"/><path d="M1491.1,194.6l8.0,8.0l-8.0,8.0l-8.0,-8.0z"/><path d="M1493.7,193.0l8.0,8.0l-8.0,8.0l-8.0,-8.0z"/><path d="M1496.3,182.1l8.0,8.0l-8.0,8.0l-8.0,-8.0z"/><path d="M1498.8,190.4l8.0,8.0l-8.0,8.0l-8.0,-8.0z"/><path d="M1501.4,186.6l8.0,8.0l-8.0,8.0l-8.0,-8.0z"/><path d="M1504.0,192.2l8.0,8.0l-8.0,8.0l-8.0,-8.0z"/><path d="M1506.6,183.1l8.0,8.0l-8.0,8.0l-8.0,-8.0z"/><path d="M1509.1,191.3l8.0,8.0l-8.0,8.0l-8.0,-8.0z"/><path d="M1511.7,181.0l8.0,8.0l-8.0,8.0l-8.0,-8.0z"/><path d="M1514.3,181.3l8.0,8.0l-8.0,8.0l-8.0,-8.0z"/><path d="M1516.8,172.4l8.0,8.0l-8.0,8.0l-8.0,-8.0z"/><path d="M1519.4,173.4l8.0,8.0l-8.0,8.0l-8.0,-8.0z"/><path d="M1522.0,166.8l8.0,8.0l-8.0,8.0l-8.0,-8.0z"/><path d="M1524.6,165.7l8.0,8.0l-8.0,8.0l-8.0,-8.0z"/><path d="M1527.1,171.7l8.0,8.0l-8.0,8.0l-8.0,-8.0z"/><path d="M1529.7,186.8l8.0,8.0l-8.0,8.0l-8.0,-8.0z"/><path d="M1532.3,182.6l8.0,8.0l-8.0,8.0l-8.0,-8.0z"/><path d="M1534.8,181.6l8.0,8.0l-8.0,8.0l-8.0,-8.0z"/><path d="M1537.4,189.6l8.0,8.0l-8.0,8.0l-8.0,-8.0z"/><path d="M1540.0,186.7l8.0,8.0l-8.0,8.0l-8.0,-8.0z"/><path d="M1542.6,192.0l8.0,8.0l-8.0,8.0l-8.0,-8.0z"/><path d="M1545.1,185.5l8.0,8.0l-8.0,8.0l-8.0,-8.0z"/><path d="M1547.7,190.0l8.0,8.0l-8.0,8.0l-8.0,-8.0z"/><path d="M1550.3,186.1l8.0,8.0l-8.0,8.0l-8.0,-8.0z"/><path d="M1552.8,185.7l8.0,8.0l-8.0,8.0l-8.0,-8.0z"/><path d="M1555.4,178.7l8.0,8.0l-8.0,8.0l-8.0,-8.0z"/><path d="M1558.0,174.5l8.0,8.0l-8.0,8.0l-8.0,-8.0z"/><path d="M1560.6,180.8l8.0,8.0l-8.0,8.0l-8.0,-8.0z"/><path d="M1563.1,172.6l8.0,8.0l-8.0,8.0l-8.0,-8.0z"/><path d="M1565.7,179.6l8.0,8.0l-8.0,8.0l-8.0,-8.0z"/><path d="M1568.3,169.0l8.0,8.0l-8.0,8.0l-8.0,-8.0z"/><path d="M1570.8,175.3l8.0,8.0l-8.0,8.0l-8.0,-8.0z"/><path d="M1573.4,174.5l8.0,8.0l-8.0,8.0l-8.0,-8.0z"/><path d="M1576.0,183.6l8.0,8.0l-8.0,8.0l-8.0,-8.0z"/><path d="M1578.6,182.1l8.0,8.0l-8.0,8.0l-8.0,-8.0z"/><path d="M1581.1,178.8l8.0,8.0l-8.0,8.0l-8.0,-8.0z"/><path d="M1583.7,166.7l8.0,8.0l-8.0,8.0l-8.0,-8.0z"/><path d="M1586.3,177.7l8.0,8.0l-8.0,8.0l-8.0,-8.0z"/><path d="M1588.8,171.3l8.0,8.0l-8.0,8.0l-8.0,-8.0z"/><path d="M1591.4,173.0l8.0,8.0l-8.0,8.0l-8.0,-8.0z"/><path d="M1594.0,175.8l8.0,8.0l-8.0,8.0l-8.0,-8.0z"/><path d="M1596.6,165.1l8.0,8.0l-8.0,8.0l-8.0,-8.0z"/><path d="M1599.1,168.1l8.0,8.0l-8.0,8.0l-8.0,-8.0z"/><path d="M1601.7,160.4l8.0,8.0l-8.0,8.0l-8.0,-8.0z"/><path d="M1604.3,153.2l8.0,8.0l-8.0,8.0l-8.0,-8.0z"/><path d="M1606.8,165.5l8.0,8.0l-8.0,8.0l-8.0,-8.0z"/><path d="M1609.4,171.3l8.0,8.0l-8.0,8.0l-8.0,-8.0z"/><path d="M1612.0,169.2l8.0,8.0l-8.0,8.0l-8.0,-8.0z"/><path d="M1614.6,178.7l8.0,8.0l-8.0,8.0l-8.0,-8.0z"/><path d="M1617.1,172.2l8.0,8.0l-8.0,8.0l-8.0,-8.0z"/><path d="M1619.7,177.5l8.0,8.0l-8.0,8.0l-8.0,-8.0z"/><path d="M1622.3,169.2l8.0,8.0l-8.0,8.0l-8.0,-8.0z"/><path d="M1624.8,168.2l8.0,8.0l-8.0,8.0l-8.0,-8.0z"/><path d="M1627.4,155.2l8.0,8.0l-8.0,8.0l-8.0,-8.0z"/><path d="M1630.0,156.4l8.0,8.0l-8.0,8.0l-8.0,-8.0z"/><path d="M1632.6,155.2l8.0,8.0l-8.0,8.0l-8.0,-8.0z"/><path d="M1635.1,156.3l8.0,8.0l-8.0,8.0l-8.0,-8.0z"/><path d="M1637.7,158.3l8.0,8.0l-8.0,8.0l-8.0,-8.0z"/><path d="M1640.3,148.0l8.0,8.0l-8.0,8.0l-8.0,-8.0z"/><path d="M1642.8,154.5l8.0,8.0l-8.0,8.0l-8.0,-8.0z"/><path d="M1645.4,158.2l8.0,8.0l-8.0,8.0l-8.0,-8.0z"/><path d="M1648.0,150.0l8.0,8.0l-8.0,8.0l-8.0,-8.0z"/><path d="M1650.6,153.0l8.0,8.0l-8.0,8.0l-8.0,-8.0z"/><path d="M1653.1,160.6l8.0,8.0l-8.0,8.0l-8.0,-8.0z"/><path d="M1655.7,157.7l8.0,8.0l-8.0,8.0l-8.0,-8.0z"/><path d="M1658.3,169.8l8.0,8.0l-8.0,8.0l-8.0,-8.0z"/><path d="M1660.8,174.9l8.0,8.0l-8.0,8.0l-8.0,-8.0z"/><path d="M1663.4,171.0l8.0,8.0l-8.0,8.0l-8.0,-8.0z"/><path d="M1666.0,182.0l8.0,8.0l-8.0,8.0l-8.0,-8.0z"/><path d="M1668.6,175.7l8.0,8.0l-8.0,8.0l-8.0,-8.0z"/><path d="M1671.1,175.8l8.0,8.0l-8.0,8.0l-8.0,-8.0z"/><path d="M1673.7,162.6l8.0,8.0l-8.0,8.0l-8.0,-8.0z"/><path d="M1676.3,166.1l8.0,8.0l-8.0,8.0l-8.0,-8.0z"/><path d="M1678.9,162.1l8.0,8.0l-8.0,8.0l-8.0,-8.0z"/><path d="M1681.4,150.9l8.0,8.0l-8.0,8.0l-8.0,-8.0z"/><path d="M1684.0,150.2l8.0,8.0l-8.0,8.0l-8.0,-8.0z"/><path d="M1686.6,156.8l8.0,8.0l-8.0,8.0l-8.0,-8.0z"/><path d="M1689.1,151.0l8.0,8.0l-8.0,8.0l-8.0,-8.0z"/><path d="M1691.7,153.0l8.0,8.0l-8.0,8.0l-8.0,-8.0z"/><path d="M1694.3,159.7l8.0,8.0l-8.0,8.0l-8.0,-8.0z"/><path d="M1696.9,162.5l8.0,8.0l-8.0,8.0l-8.0,-8.0z"/><path d="M1699.4,153.1l8.0,8.0l-8.0,8.0l-8.0,-8.0z"/><path d="M1702.0,160.3l8.0,8.0l-8.0,8.0l-8.0,-8.0z"/><path d="M1704.6,147.6l8.0,8.0l-8.0,8.0l-8.0,-8.0z"/><path d="M1707.1,155.8l8.0,8.0l-8.0,8.0l-8.0,-8.0z"/><path d="M1709.7,155.7l8.0,8.0l-8.0,8.0l-8.0,-8.0z"/><path d="M1712.3,152.5l8.0,8.0l-8.0,8.0l-8.0,-8.0z"/><path d="M1714.9,141.6l8.0,8.0l-8.0,8.0l-8.0,-8.0z"/><path d="M1717.4,149.5l8.0,8.0l-8.0,8.0l-8.0,-8.0z"/><path d="M1720.0,148.0l8.0,8.0l-8.0,8.0l-8.0,-8.0z"/><path d="M1722.6,142.3l8.0,8.0l-8.0,8.0l-8.0,-8.0z"/><path d="M1725.1,149.4l8.0,8.0l-8.0,8.0l-8.0,-8.0z"/><path d="M1727.7,150.0l8.0,8.0l-8.0,8.0l-8.0,-8.0z"/><path d="M1730.3,151.6l8.0,8.0l-8.0,8.0l-8.0,-8.0z"/><path d="M1732.9,153.2l8.0,8.0l-8.0,8.0l-8.0,-8.0z"/><path d="M1735.4,154.8l8.0,8.0l-8.0,8.0l-8.0,-8.0z"/><path d="M1738.0,144.8l8.0,8.0l-8.0,8.0l-8.0,-8.0z"/><path d="M1740.6,155.7l8.0,8.0l-8.0,8.0l-8.0,-8.0z"/><path d="M1743.1,146.0l8.0,8.0l-8.0,8.0l-8.0,-8.0z"/><path d="M1745.7,153.6l8.0,8.0l-8.0,8.0l-8.0,-8.0z"/><path d="M1748.3,155.7l8.0,8.0l-8.0,8.0l-8.0,-8.0z"/><path d="M1750.9,155.8l8.0,8.0l-8.0,8.0l-8.0,-8.0z"/><path d="M1753.4,147.4l8.0,8.0l-8.0,8.0l-8.0,-8.0z"/><path d="M1756.0,156.9l8.0,8.0l-8.0,8.0l-8.0,-8.0z"/><path d="M1758.6,144.5l8.0,8.0l-8.0,8.0l-8.0,-8.0z"/><path d="M1761.1,146.6l8.0,8.0l-8.0,8.0l-8.0,-8.0z"/><path d="M1763.7,143.5l8.0,8.0l-8.0,8.0l-8.0,-8.0z"/><path d="M1766.3,145.8l8.0,8.0l-8.0,8.0l-8.0,-8.0z"/><path d="M1768.9,147.4l8.0,8.0l-8.0,8.0l-8.0,-8.0z"/><path d="M1771.4,157.0l8.0,8.0l-8.0,8.0l-8.0,-8.0z"/><path d="M1774.0,147.6l8.0,8.0l-8.0,8.0l-8.0,-8.0z"/><path d="M1776.6,148.4l8.0,8.0l-8.0,8.0l-8.0,-8.0z"/><path d="M1779.1,156.3l8.0,8.0l-8.0,8.0l-8.0,-8.0z"/><path d="M1781.7,146.6l8.0,8.0l-8.0,8.0l-8.0,-8.0z"/><path d="M1784.3,153.7l8.0,8.0l-8.0,8.0l-8.0,-8.0z"/><path d="M1786.9,143.3l8.0,8.0l-8.0,8.0l-8.0,-8.0z"/><path d="M1789.4,153.0l8.0,8.0l-8.0,8.0l-8.0,-8.0z"/><path d="M1792.0,145.4l8.0,8.0l-8.0,8.0l-8.0,-8.0z"/><path d="M1794.6,156.4l8.0,8.0l-8.0,8.0l-8.0,-8.0z"/><path d="M1797.1,143.9l8.0,8.0l-8.0,8.0l-8.0,-8.0z"/><path d="M1799.7,153.0l8.0,8.0l-8.0,8.0l-8.0,-8.0z"/><path d="M1802.3,154.8l8.0,8.0l-8.0,8.0l-8.0,-8.0z"/><path d="M1804.9,144.5l8.0,8.0l-8.0,8.0l-8.0,-8.0z"/><path d="M1807.4,142.4l8.0,8.0l-8.0,8.0l-8.0,-8.0z"/><path d="M1810.0,143.0l8.0,8.0l-8.0,8.0l-8.0,-8.0z"/><path d="M1812.6,151.6l8.0,8.0l-8.0,8.0l-8.0,-8.0z"/><path d="M1815.1,141.9l8.0,8.0l-8.0,8.0l-8.0,-8.0z"/><path d="M1817.7,150.6l8.0,8.0l-8.0,8.0l-8.0,-8.0z"/><path d="M1820.3,143.7l8.0,8.0l-8.0,8.0l-8.0,-8.0z"/><path d="M1822.9,161.1l8.0,8.0l-8.0,8.0l-8.0,-8.0z"/><path d="M1825.4,158.7l8.0,8.0l-8.0,8.0l-8.0,-8.0z"/><path d="M1828.0,156.3l8.0,8.0l-8.0,8.0l-8.0,-8.0z"/><path d="M1830.6,163.1l8.0,8.0l-8.0,8.0l-8.0,-8.0z"/><path d="M1833.1,153.0l8.0,8.0l-8.0,8.0l-8.0,-8.0z"/><path d="M1835.7,166.6l8.0,8.0l-8.0,8.0l-8.0,-8.0z"/><path d="M1838.3,162.4l8.0,8.0l-8.0,8.0l-8.0,-8.0z"/><path d="M1840.9,164.6l8.0,8.0l-8.0,8.0l-8.0,-8.0z"/><path d="M1843.4,170.1l8.0,8.0l-8.0,8.0l-8.0,-8.0z"/><path d="M1846.0,159.9l8.0,8.0l-8.0,8.0l-8.0,-8.0z"/><path d="M1848.6,170.2l8.0,8.0l-8.0,8.0l-8.0,-8.0z"/><path d="M1851.1,165.0l8.0,8.0l-8.0,8.0l-8.0,-8.0z"/><path d="M1853.7,152.4l8.0,8.0l-8.0,8.0l-8.0,-8.0z"/><path d="M1856.3,156.4l8.0,8.0l-8.0,8.0l-8.0,-8.0z"/><path d="M1858.9,146.5l8.0,8.0l-8.0,8.0l-8.0,-8.0z"/><path d="M1861.4,152.1l8.0,8.0l-8.0,8.0l-8.0,-8.0z"/><path d="M1864.0,142.6l8.0,8.0l-8.0,8.0l-8.0,-8.0z"/><path d="M1866.6,148.9l8.0,8.0l-8.0,8.0l-8.0,-8.0z"/><path d="M1869.1,140.5l8.0,8.0l-8.0,8.0l-8.0,-8.0z"/><path d="M1871.7,152.1l8.0,8.0l-8.0,8.0l-8.0,-8.0z"/><path d="M1874.3,150.5l8.0,8.0l-8.0,8.0l-8.0,-8.0z"/><path d="M1876.9,143.9l8.0,8.0l-8.0,8.0l-8.0,-8.0z"/><path d="M1879.4,143.7l8.0,8.0l-8.0,8.0l-8.0,-8.0z"/><path d="M1882.0,143.2l8.0,8.0l-8.0,8.0l-8.0,-8.0z"/><path d="M1884.6,149.0l8.0,8.0l-8.0,8.0l-8.0,-8.0z"/><path d="M1887.1,142.2l8.0,8.0l-8.0,8.0l-8.0,-8.0z"/><path d="M1889.7,150.8l8.0,8.0l-8.0,8.0l-8.0,-8.0z"/><path d="M1892.3,140.5l8.0,8.0l-8.0,8.0l-8.0,-8.0z"/><path d="M1894.9,146.3l8.0,8.0l-8.0,8.0l-8.0,-8.0z"/><path d="M1897.4,140.3l8.0,8.0l-8.0,8.0l-8.0,-8.0z"/><path d="M1900.0,157.7l8.0,8.0l-8.0,8.0l-8.0,-8.0z"/><path d="M1902.6,157.0l8.0,8.0l-8.0,8.0l-8.0,-8.0z"/><path d="M1905.1,145.5l8.0,8.0l-8.0,8.0l-8.0,-8.0z"/><path d="M1907.7,174.1l8.0,8.0l-8.0,8.0l-8.0,-8.0z"/><path d="M1910.3,149.4l8.0,8.0l-8.0,8.0l-8.0,-8.0z"/><path d="M1912.9,163.5l8.0,8.0l-8.0,8.0l-8.0,-8.0z"/><path d="M1915.4,157.6l8.0,8.0l-8.0,8.0l-8.0,-8.0z"/><path d="M1918.0,174.7l8.0,8.0l-8.0,8.0l-8.0,-8.0z"/></g>
<line x1="1429.41" y1="576.20" x2="1429.41" y2="573.40" stroke="#000" stroke-width="1.3" />
<line x1="1429.41" y1="60.70" x2="1429.41" y2="63.50" stroke="#000" stroke-width="1.3" />
<line x1="1455.13" y1="576.20" x2="1455.13" y2="573.40" stroke="#000" stroke-width="1.3" />
<line x1="1455.13" y1="60.70" x2="1455.13" y2="63.50" stroke="#000" stroke-width="1.3" />
<line x1="1480.85" y1="576.20" x2="1480.85" y2="573.40" stroke="#000" stroke-width="1.3" />
<line x1="1480.85" y1="60.70" x2="1480.85" y2="63.50" stroke="#000" stroke-width="1.3" />
<line x1="1506.56" y1="576.20" x2="1506.56" y2="573.40" stroke="#000" stroke-width="1.3" />
<line x1="1506.56" y1="60.70" x2="1506.56" y2="63.50" stroke="#000" stroke-width="1.3" />
<line x1="1557.99" y1="576.20" x2="1557.99" y2="573.40" stroke="#000" stroke-width="1.3" />
<line x1="1557.99" y1="60.70" x2="1557.99" y2="63.50" stroke="#000" stroke-width="1.3" />
<line x1="1583.70" y1="576.20" x2="1583.70" y2="573.40" stroke="#000" stroke-width="1.3" />
<line x1="1583.70" y1="60.70" x2="1583.70" y2="63.50" stroke="#000" stroke-width="1.3" />
<line x1="1609.42" y1="576.20" x2="1609.42" y2="573.40" stroke="#000" stroke-width="1.3" />
<line x1="1609.42" y1="60.70" x2="1609.42" y2="63.50" stroke="#000" stroke-width="1.3" />
<line x1="1635.13" y1="576.20" x2="1635.13" y2="573.40" stroke="#000" stroke-width="1.3" />
<line x1="1635.13" y1="60.70" x2="1635.13" y2="63.50" stroke="#000" stroke-width="1.3" />
<line x1="1686.57" y1="576.20" x2="1686.57" y2="573.40" stroke="#000" stroke-width="1.3" />
<line x1="1686.57" y1="60.70" x2="1686.57" y2="63.50" stroke="#000" stroke-width="1.3" />
<line x1="1712.28" y1="576.20" x2="1712.28" y2="573.40" stroke="#000" stroke-width="1.3" />
<line x1="1712.28" y1="60.70" x2="1712.28" y2="63.50" stroke="#000" stroke-width="1.3" />
<line x1="1737.99" y1="576.20" x2="1737.99" y2="573.40" stroke="#000" stroke-width="1.3" />
<line x1="1737.99" y1="60.70" x2="1737.99" y2="63.50" stroke="#000" stroke-width="1.3" />
<line x1="1763.71" y1="576.20" x2="1763.71" y2="573.40" stroke="#000" stroke-width="1.3" />
<line x1="1763.71" y1="60.70" x2="1763.71" y2="63.50" stroke="#000" stroke-width="1.3" />
<line x1="1815.14" y1="576.20" x2="1815.14" y2="573.40" stroke="#000" stroke-width="1.3" />
<line x1="1815.14" y1="60.70" x2="1815.14" y2="63.50" stroke="#000" stroke-width="1.3" />
<line x1="1840.86" y1="576.20" x2="1840.86" y2="573.40" stroke="#000" stroke-width="1.3" />
<line x1="1840.86" y1="60.70" x2="1840.86" y2="63.50" stroke="#000" stroke-width="1.3" />
<line x1="1866.57" y1="576.20" x2="1866.57" y2="573.40" stroke="#000" stroke-width="1.3" />
<line x1="1866.57" y1="60.70" x2="1866.57" y2="63.50" stroke="#000" stroke-width="1.3" />
<line x1="1892.29" y1="576.20" x2="1892.29" y2="573.40" stroke="#000" stroke-width="1.3" />
<line x1="1892.29" y1="60.70" x2="1892.29" y2="63.50" stroke="#000" stroke-width="1.3" />
<line x1="1403.70" y1="576.20" x2="1403.70" y2="571.10" stroke="#000" stroke-width="1.3" />
<line x1="1403.70" y1="60.70" x2="1403.70" y2="65.80" stroke="#000" stroke-width="1.3" />
<line x1="1532.28" y1="576.20" x2="1532.28" y2="571.10" stroke="#000" stroke-width="1.3" />
<line x1="1532.28" y1="60.70" x2="1532.28" y2="65.80" stroke="#000" stroke-width="1.3" />
<line x1="1660.85" y1="576.20" x2="1660.85" y2="571.10" stroke="#000" stroke-width="1.3" />
<line x1="1660.85" y1="60.70" x2="1660.85" y2="65.80" stroke="#000" stroke-width="1.3" />
<line x1="1789.42" y1="576.20" x2="1789.42" y2="571.10" stroke="#000" stroke-width="1.3" />
<line x1="1789.42" y1="60.70" x2="1789.42" y2="65.80" stroke="#000" stroke-width="1.3" />
<line x1="1918.00" y1="576.20" x2="1918.00" y2="571.10" stroke="#000" stroke-width="1.3" />
<line x1="1918.00" y1="60.70" x2="1918.00" y2="65.80" stroke="#000" stroke-width="1.3" />
<line x1="1391.50" y1="536.77" x2="1394.30" y2="536.77" stroke="#000" stroke-width="1.3" />
<line x1="1391.50" y1="516.94" x2="1394.30" y2="516.94" stroke="#000" stroke-width="1.3" />
<line x1="1391.50" y1="497.11" x2="1394.30" y2="497.11" stroke="#000" stroke-width="1.3" />
<line x1="1391.50" y1="477.28" x2="1394.30" y2="477.28" stroke="#000" stroke-width="1.3" />
<line x1="1391.50" y1="437.62" x2="1394.30" y2="437.62" stroke="#000" stroke-width="1.3" />
<line x1="1391.50" y1="417.79" x2="1394.30" y2="417.79" stroke="#000" stroke-width="1.3" />
<line x1="1391.50" y1="397.96" x2="1394.30" y2="397.96" stroke="#000" stroke-width="1.3" />
<line x1="1391.50" y1="378.13" x2="1394.30" y2="378.13" stroke="#000" stroke-width="1.3" />
<line x1="1391.50" y1="338.47" x2="1394.30" y2="338.47" stroke="#000" stroke-width="1.3" />
<line x1="1391.50" y1="318.64" x2="1394.30" y2="318.64" stroke="#000" stroke-width="1.3" />
<line x1="1391.50" y1="298.81" x2="1394.30" y2="298.81" stroke="#000" stroke-width="1.3" />
<line x1="1391.50" y1="278.98" x2="1394.30" y2="278.98" stroke="#000" stroke-width="1.3" />
<line x1="1391.50" y1="239.32" x2="1394.30" y2="239.32" stroke="#000" stroke-width="1.3" />
<line x1="1391.50" y1="219.49" x2="1394.30" y2="219.49" stroke="#000" stroke-width="1.3" />
<line x1="1391.50" y1="199.66" x2="1394.30" y2="199.66" stroke="#000" stroke-width="1.3" />
<line x1="1391.50" y1="179.83" x2="1394.30" y2="179.83" stroke="#000" stroke-width="1.3" />
<line x1="1391.50" y1="140.17" x2="1394.30" y2="140.17" stroke="#000" stroke-width="1.3" />
<line x1="1391.50" y1="120.34" x2="1394.30" y2="120.34" stroke="#000" stroke-width="1.3" />
<line x1="1391.50" y1="100.51" x2="1394.30" y2="100.51" stroke="#000" stroke-width="1.3" />
<line x1="1391.50" y1="80.68" x2="1394.30" y2="80.68" stroke="#000" stroke-width="1.3" />
<line x1="1391.50" y1="556.60" x2="1396.60" y2="556.60" stroke="#000" stroke-width="1.3" />
<line x1="1391.50" y1="457.45" x2="1396.60" y2="457.45" stroke="#000" stroke-width="1.3" />
<line x1="1391.50" y1="358.30" x2="1396.60" y2="358.30" stroke="#000" stroke-width="1.3" />
<line x1="1391.50" y1="259.15" x2="1396.60" y2="259.15" stroke="#000" stroke-width="1.3" />
<line x1="1391.50" y1="160.00" x2="1396.60" y2="160.00" stroke="#000" stroke-width="1.3" />
<line x1="1930.30" y1="550.00" x2="1927.50" y2="550.00" stroke="#000" stroke-width="1.3" />
<line x1="1930.30" y1="524.25" x2="1927.50" y2="524.25" stroke="#000" stroke-width="1.3" />
<line x1="1930.30" y1="498.50" x2="1927.50" y2="498.50" stroke="#000" stroke-width="1.3" />
<line x1="1930.30" y1="447.00" x2="1927.50" y2="447.00" stroke="#000" stroke-width="1.3" />
<line x1="1930.30" y1="421.25" x2="1927.50" y2="421.25" stroke="#000" stroke-width="1.3" />
<line x1="1930.30" y1="395.50" x2="1927.50" y2="395.50" stroke="#000" stroke-width="1.3" />
<line x1="1930.30" y1="344.00" x2="1927.50" y2="344.00" stroke="#000" stroke-width="1.3" />
<line x1="1930.30" y1="318.25" x2="1927.50" y2="318.25" stroke="#000" stroke-width="1.3" />
<line x1="1930.30" y1="292.50" x2="1927.50" y2="292.50" stroke="#000" stroke-width="1.3" />
<line x1="1930.30" y1="241.00" x2="1927.50" y2="241.00" stroke="#000" stroke-width="1.3" />
<line x1="1930.30" y1="215.25" x2="1927.50" y2="215.25" stroke="#000" stroke-width="1.3" />
<line x1="1930.30" y1="189.50" x2="1927.50" y2="189.50" stroke="#000" stroke-width="1.3" />
<line x1="1930.30" y1="138.00" x2="1927.50" y2="138.00" stroke="#000" stroke-width="1.3" />
<line x1="1930.30" y1="112.25" x2="1927.50" y2="112.25" stroke="#000" stroke-width="1.3" />
<line x1="1930.30" y1="86.50" x2="1927.50" y2="86.50" stroke="#000" stroke-width="1.3" />
<line x1="1930.30" y1="472.75" x2="1925.20" y2="472.75" stroke="#000" stroke-width="1.3" />
<line x1="1930.30" y1="369.75" x2="1925.20" y2="369.75" stroke="#000" stroke-width="1.3" />
<line x1="1930.30" y1="266.75" x2="1925.20" y2="266.75" stroke="#000" stroke-width="1.3" />
<line x1="1930.30" y1="163.75" x2="1925.20" y2="163.75" stroke="#000" stroke-width="1.3" />
<rect x="1391.50" y="60.70" width="538.80" height="515.50" fill="none" stroke="#000" stroke-width="2.8"/>
<text font-size="21.5" text-anchor="middle" transform="translate(1403.70 598.40) scale(1 1.065)" stroke-width="0.35" >0</text>
<text font-size="21.5" text-anchor="middle" transform="translate(1532.28 598.40) scale(1 1.065)" stroke-width="0.35" >50</text>
<text font-size="21.5" text-anchor="middle" transform="translate(1660.85 598.40) scale(1 1.065)" stroke-width="0.35" >100</text>
<text font-size="21.5" text-anchor="middle" transform="translate(1789.42 598.40) scale(1 1.065)" stroke-width="0.35" >150</text>
<text font-size="21.5" text-anchor="middle" transform="translate(1918.00 598.40) scale(1 1.065)" stroke-width="0.35" >200</text>
<text font-size="21.5" text-anchor="end" transform="translate(1384.30 564.45) scale(1 1.065)" stroke-width="0.35" >0</text>
<text font-size="21.5" text-anchor="end" transform="translate(1384.30 465.30) scale(1 1.065)" stroke-width="0.35" >50</text>
<text font-size="21.5" text-anchor="end" transform="translate(1384.30 366.15) scale(1 1.065)" stroke-width="0.35" >100</text>
<text font-size="21.5" text-anchor="end" transform="translate(1384.30 267.00) scale(1 1.065)" stroke-width="0.35" >150</text>
<text font-size="21.5" text-anchor="end" transform="translate(1384.30 167.85) scale(1 1.065)" stroke-width="0.35" >200</text>
<text font-size="21.5" text-anchor="end" transform="translate(1384.30 68.70) scale(1 1.065)" stroke-width="0.35" >250</text>
<text font-size="21.5" text-anchor="start" transform="translate(1936.20 583.60) scale(1 1.065)" stroke-width="0.35" >0</text>
<text font-size="21.5" text-anchor="start" transform="translate(1936.20 480.60) scale(1 1.065)" stroke-width="0.35" >20</text>
<text font-size="21.5" text-anchor="start" transform="translate(1936.20 377.60) scale(1 1.065)" stroke-width="0.35" >40</text>
<text font-size="21.5" text-anchor="start" transform="translate(1936.20 274.60) scale(1 1.065)" stroke-width="0.35" >60</text>
<text font-size="21.5" text-anchor="start" transform="translate(1936.20 171.60) scale(1 1.065)" stroke-width="0.35" >80</text>
<text font-size="21.5" text-anchor="start" transform="translate(1936.20 68.60) scale(1 1.065)" stroke-width="0.35" >100</text>
<text font-size="22.45" text-anchor="middle" transform="translate(1660.30 627.60) scale(1 1.0)" stroke-width="0.35" >Number of cycles</text>
<text font-size="21.9" text-anchor="middle" transform="translate(1338.40 320.00) rotate(-90) scale(1 1.025)" stroke-width="0.35" >Capacity<tspan dx="1.2"> (mAh g</tspan><tspan font-size="15.3" dy="-9.4" dx="1.0">−1</tspan><tspan dy="9.4" font-size="1">&#8203;</tspan><tspan dx="2">)</tspan></text>
<text font-size="21.9" text-anchor="middle" transform="translate(1991.60 319.00) rotate(-90) scale(1 1.025)" stroke-width="0.35" >Efficiency<tspan dx="1"> (</tspan><tspan dx="1.2">%</tspan><tspan dx="1.2">)</tspan></text>
<text font-size="45.5" text-anchor="start" transform="translate(1341.20 35.50) scale(1 1.025)" stroke-width="0.35" >c</text>
<path d="M1653.9,495.1l8.0,8.0l-8.0,8.0l-8.0,-8.0z" fill="#52b688"/>
<text font-size="22.5" text-anchor="start" transform="translate(1672.10 510.60) scale(1 1.025)" stroke-width="0.35" >Efficiency</text>
<circle cx="1653.9" cy="539.7" r="5" fill="none" stroke="#3d6596" stroke-width="1.8"/>
<text font-size="22.5" text-anchor="start" transform="translate(1672.30 546.70) scale(1 1.025)" stroke-width="0.35" >Charge</text>
<circle cx="1780" cy="539.7" r="5.7" fill="#3d6596"/>
<text font-size="22.5" text-anchor="start" transform="translate(1798.00 546.70) scale(1 1.025)" stroke-width="0.35" >Discharge</text>
</svg>
</body></html>
